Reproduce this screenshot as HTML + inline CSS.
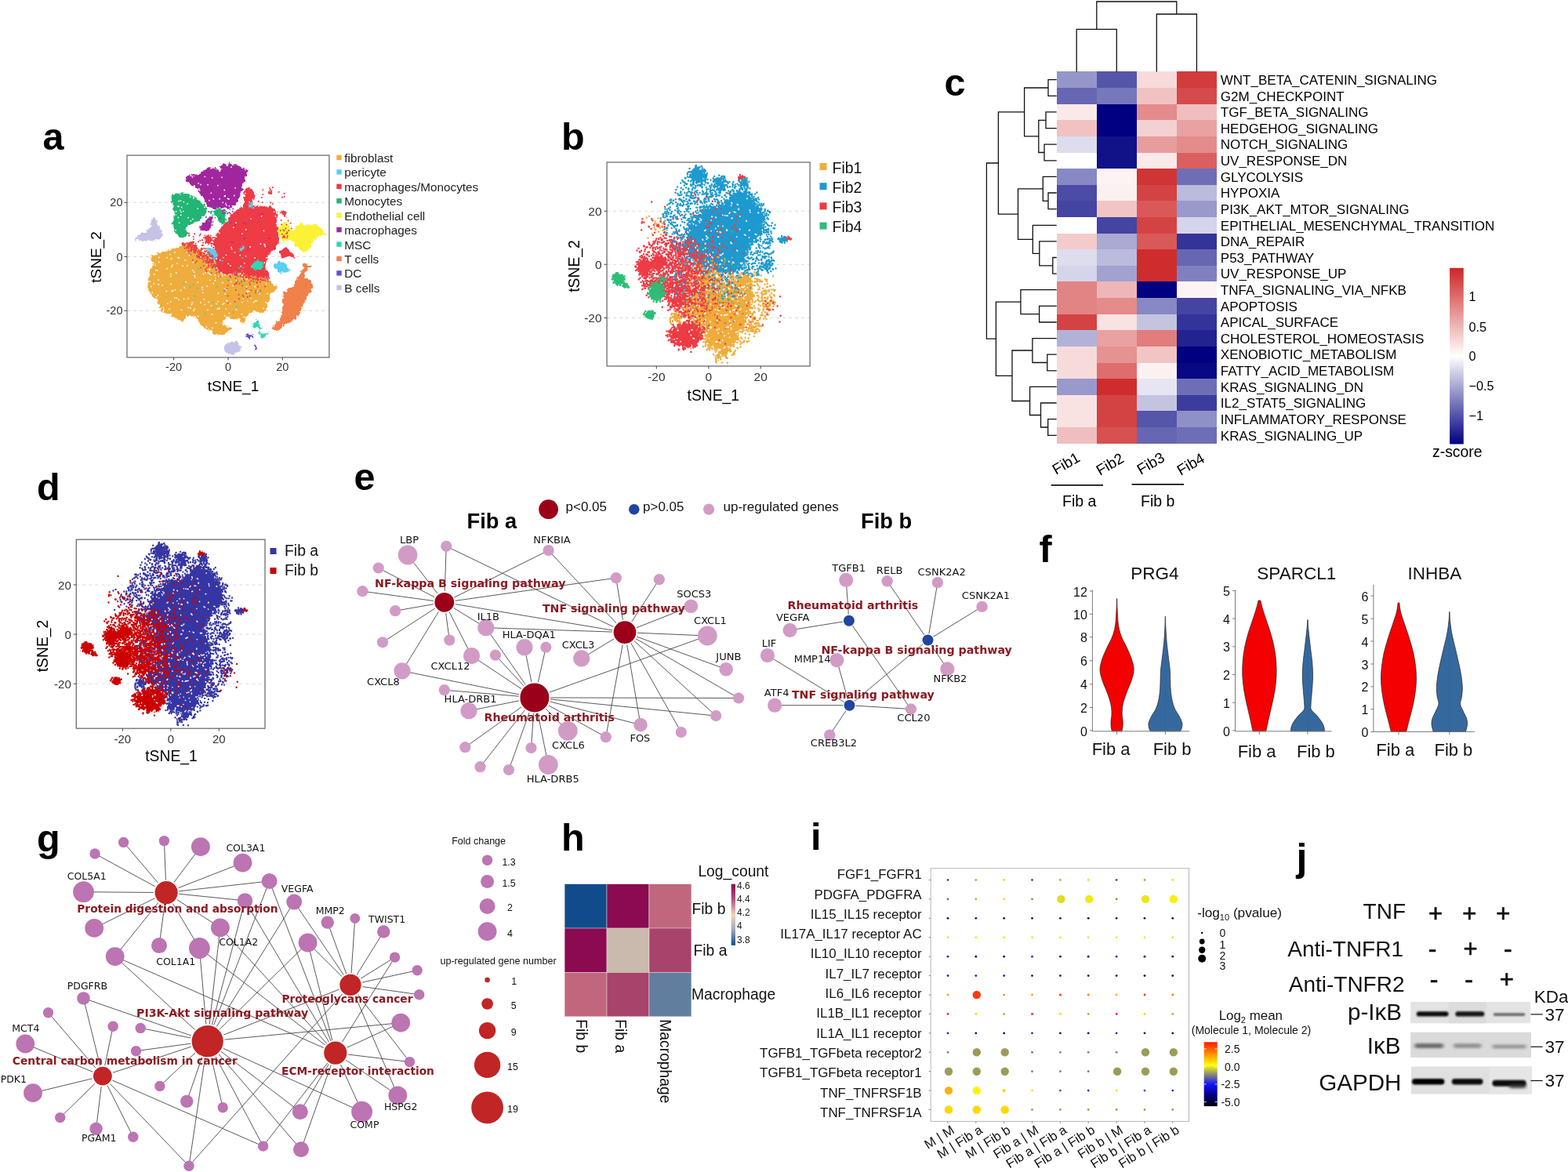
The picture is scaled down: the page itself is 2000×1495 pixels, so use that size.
<!DOCTYPE html>
<html lang="en"><head><meta charset="utf-8"><title>Figure</title>
<style>html,body{margin:0;padding:0;background:#fff}svg{display:block}svg{font-family:'Liberation Sans',Arial,Helvetica,sans-serif}</style></head>
<body>
<svg width="2000" height="1495" viewBox="0 0 2000 1495">
<rect width="2000" height="1495" fill="#fff"/>
<defs>
<filter id="rough" x="-5%" y="-5%" width="110%" height="110%"><feTurbulence type="fractalNoise" baseFrequency="0.25" numOctaves="2" seed="3" result="n"/><feDisplacementMap in="SourceGraphic" in2="n" scale="6" xChannelSelector="R" yChannelSelector="G"/></filter>
<filter id="rough2" x="-5%" y="-5%" width="110%" height="110%"><feTurbulence type="fractalNoise" baseFrequency="0.2" numOctaves="3" seed="8" result="n"/><feDisplacementMap in="SourceGraphic" in2="n" scale="12" xChannelSelector="R" yChannelSelector="G"/></filter>
<path id="k0" d="M885.6 354.8L898.5 347L914.1 354.8L927.1 362.5L940.1 354.8L953 349.6L958.2 365.1L959.5 380.7L955.6 396.3L950.4 411.9L942.7 427.4L937.5 437.8L929.7 443L927.1 453.4L914.1 458.6L919.3 445.6L908.9 440.4L898.5 437.8L903.7 427.4L898.5 417L888.2 411.9L877.8 406.7L872.6 396.3L877.8 385.9L888.2 378.1L890.7 365.1Z"/>
<path id="k1" d="M872.9 304.9L878.1 289.3L888.5 276.3L901.5 266L914.5 263.4L927.4 258.2L937.8 245.2L948.2 243.9L956 250.4L966.4 263.4L974.2 276.3L974.2 291.9L966.4 304.9L956 312.7L950.8 325.7L948.2 341.2L935.2 347.7L919.7 346.4L904.1 341.2L888.5 333.4L875.5 320.5Z"/>
<path id="k2" d="M853.6 420.9L866.9 416.1L881.3 408.9L890.9 413.7L895.8 423.3L890.9 433L886.1 442.6L874.1 442.6L862 439L854.8 430.5Z"/>
<path id="k3" d="M829.8 340.5L829 344L826.7 346.8L823.5 348.3L820 348.3L816.7 346.8L814.5 344L813.7 340.5L814.5 337L816.7 334.2L820 332.7L823.5 332.7L826.7 334.2L829 337Z"/>
<path id="k4" d="M846.1 334.6L845.5 337.6L843.7 340.1L841.1 341.4L838.2 341.4L835.7 340.1L833.9 337.6L833.2 334.6L833.9 331.6L835.7 329.2L838.2 327.8L841.1 327.8L843.7 329.2L845.5 331.6Z"/>
<path id="k5" d="M795.5 356L794.9 358.8L793.1 361L790.5 362.3L787.7 362.3L785.1 361L783.3 358.8L782.7 356L783.3 353.2L785.1 351L787.7 349.8L790.5 349.8L793.1 351L794.9 353.2Z"/>
<path id="k6" d="M847.4 372.1L846.5 376.7L843.8 380.4L839.9 382.5L835.6 382.5L831.8 380.4L829.1 376.7L828.2 372.1L829.1 367.4L831.8 363.7L835.6 361.6L839.9 361.6L843.8 363.7L846.5 367.4Z"/>
<path id="k7" d="M834.8 401.5L834.3 403.2L832.6 404.6L830.3 405.4L827.7 405.4L825.3 404.6L823.7 403.2L823.1 401.5L823.7 399.8L825.3 398.4L827.7 397.6L830.3 397.6L832.6 398.4L834.3 399.8Z"/>
<path id="k8" d="M896.9 223.6L896.2 226.6L894.3 229L891.5 230.4L888.4 230.4L885.6 229L883.7 226.6L883 223.6L883.7 220.6L885.6 218.1L888.4 216.8L891.5 216.8L894.3 218.1L896.2 220.6Z"/>
<path id="wsp" d="M952.8 253.4h0m0.1-0.3h0m-20.3 9.2h0m0.5-3.9h0m0.5 1.3h0m6.7 0.9h0m1 0.7h0m-26.8 3.1h0m27.5 2.9h0m0.3-0.8h0m14 1.6h0m0.1 0.3h0m-34.5 6h0m2.7 0.4h0m2.3 0.3h0m1 0.1h0m2.3-2.9h0m0.8-1.2h0m5.5-0.7h0m1.7 0.4h0m5.6 5.2h0m13.1-5.2h0m10 0.6h0m0.6 0.1h0m-82.8 9h0m0.3 0.5h0m7.9-2.2h0m1.3 2.4h0m0.3-1.3h0m12.8 0.9h0m0.6-4.6h0m0.4 0.3h0m4.4 0.7h0m0.5 0.3h0m20 1.1h0m0.7-0.4h0m18 3.5h0m0.4 0.2h0m-67.8 4h0m3.2 1.6h0m4-5.5h0m0.8 1.8h0m7.4 9.7h0m12.8-2h0m3.3-2.9h0m0.1-0.4h0m5.9 0.2h0m4.8 4.6h0m0.1 0.9h0m16.7-1.5h0m12.4 1.1h0m-81.4 6.3h0m2.4-4.1h0m1 0.7h0m1.8-2.4h0m19 0.2h0m8.4 0.4h0m7.6 0.7h0m3.4 0.6h0m1.3 0.6h0m8.1-2.4h0m21.9 5.2h0m6.1-5.3h0m7.8 4.7h0m1.3 0.6h0m-91.1 5.3h0m0.3-4.3h0m1.4 4.7h0m20.7 0.4h0m4.7-4.4h0m0.7 4h0m0.2-2.8h0m1.3 1.2h0m12.8-1.2h0m0.8 0.2h0m23.2-0.2h0m11.3-2h0m4.5 2.7h0m6.5 3h0m5.7-3.4h0m1.3-0.9h0m-85.1 5.3h0m0.2 1.1h0m12.4-1.9h0m2.9 4.9h0m0.5-0.6h0m17.9 0.5h0m14.2-1.8h0m0.6 1h0m0.8 0.6h0m28.4-4.1h0m-83.8 10.4h0m9-1.6h0m0.4 0.7h0m1.8-2.6h0m10.4 3h0m-23.8 5.2h0m1-1.1h0m13-0.9h0m0.2-0.7h0m6.9-0.6h0m3.6 5.6h0m9-2.1h0m12.7 1.4h0m17.7-3.9h0m0.8 0.7h0m-38.1 6h0m2.6-1.6h0m0.7 1.1h0m2 2.2h0m1.3 1h0m9.3-3.6h0m1.3 0.5h0m1.5-1.5h0m29.2 4.5h0m0.2 1h0m0.2-1.8h0m-47.6 5.8h0m0.2 1h0m16.8-3.1h0m0.8 1.1h0m8.5 0.8h0m5.2 1h0m1 0.7h0m8.8 0.7h0m0.1-0.4h0m2.1-0.1h0m-46.8 1.3h0m6.1 1.6h0m0.8 0.2h0m11-1.1h0m1.2-0.6h0m7.4 5.1h0m0.5-0.2h0m18.9-5.2h0m-21.1 6.4h0m1.1-0.6h0m14.3 2.2h0m-49.3 6.8h0m0.9-1.1h0m0.3 1.6h0m2.9-1.5h0m0.4 0.1h0m11 0.1h0m1.2-1.3h0m44.2 0.8h0m-60 8.9h0m1.1 1h0m14.3-0.8h0m11.8 0.8h0m20.5-3.1h0m0.2 1h0m-38.2 7.8h0m3.9-3.3h0m1 1.1h0m6.2 2.2h0m0.1 0.1h0m0.5-1.5h0m0.2-0.5h0m2.8-1.7h0m17.7 2.1h0m0.9-0.7h0m0.5 1.3h0m0.6 0.5h0m9.7 0.3h0m4-0.1h0m3-3h0m2.5-1.3h0m-65.6 8.5h0m1.5 1.6h0m1-3h0m0.8-1h0m8.4 2.2h0m0.5 0.3h0m3.4 0.7h0m8.7-4.1h0m3.6 5.4h0m0.2-0.2h0m4.8-1.2h0m1.1-1.1h0m5.6-1.7h0m1.3 1.1h0m12.1-1.7h0m1.2 0.5h0m3.5-0.8h0m1.3-0.6h0m1.8 3.6h0m0.3-0.5h0m2.8-2.2h0m5.7 3.8h0m-57.7 6.7h0m12.5-4.9h0m1.2 0.5h0m5.5 0.2h0m5.6 3.3h0m0.3-1.3h0m15.3 0.9h0m0.6 0.9h0m2.8-0.4h0m0.8-0.1h0m2-3.9h0m1.2 5.2h0m1.8-1.6h0m0.3 0.4h0m-60.5 3.2h0m2.1 2.6h0m8.6-4.1h0m1.1 3.1h0m24.1-2.1h0m0.1-1h0m6.9 2h0m1.3 1.3h0m5.4-2.3h0m7.7 0.7h0m0.9 1.1h0m9 2.5h0m-77.6 4.5h0m4.7-3.6h0m3.9 5.2h0m0 0h0m3.2 0.2h0m14-1.7h0m12.4 1.5h0m1-0.8h0m18.3 0.8h0m3-4.9h0m0.4-0.3h0m10.4 1.2h0m1 0.1h0m5.4 0.4h0m0.4 0.7h0m-79.5 6h0m4.5 2.6h0m1.2-0.5h0m7.1-3.4h0m20.7 3.3h0m0.2-0.1h0m3.1 0.5h0m1.1 0.7h0m4-3.9h0m2.2 0.2h0m0.7-1h0m11.3 4.4h0m1.7-0.3h0m0.4-0.6h0m1.8-4.7h0m1 0.7h0m3.9 4.3h0m1.2-1.3h0m11.9 1.6h0m-75.4 1.7h0m0 1.3h0m17.2 1.7h0m0.8-1h0m15.3 1.3h0m4.9 1.3h0m0.7 0.3h0m4-0.3h0m0.9-0.2h0m0.9 0.4h0m1.6-0.7h0m3.3-4.4h0m0.2 1.1h0m8.2 1.6h0m0.5 0.4h0m0.5-0.9h0m1 2.2h0m10.5-4.1h0m-69.4 10.1h0m2.5-1.6h0m1.1 1.2h0m1 0h0m1-3.6h0m1.1-0.3h0m5.2 5h0m5 0.1h0m24.1-5.6h0m28.1 0.3h0m0.6 0.3h0m-75.7 8.8h0m3.8-0.2h0m0.6 0.8h0m0.3-3.4h0m2.3-0.5h0m11.1 3.4h0m4.4-0.4h0m1-3.1h0m6 2h0m8.5-1.2h0m15.8-0.1h0m0.2 0.8h0m1.8 3.9h0m4.8-4.5h0m-46.4 7.3h0m8.4-0.3h0m6.4 0.7h0m0.7 1.7h0m0.8-1.2h0m10.1 2.2h0m8.7-1.9h0m2-0.6h0m0.9 0h0m2.6-2.3h0m1.1 4.8h0m0-1.3h0m-75.4 2.6h0m6.9 0.7h0m0.2-0.4h0m0.7 0.2h0m13.8 2.1h0m0.4-1.2h0m2.8-1.6h0m0.9-0.1h0m20.8 0.4h0m10.9-0.1h0m1.4 3.7h0m5.5-0.8h0m7.8 1.4h0m9.3-1.5h0m1.6-0.4h0m2.5-1.8h0m0.1 2.5h0m0.4 1.3h0m-89.6 6.3h0m1-0.5h0m1.8-4.7h0m7.3 5.4h0m17.7-4.4h0m2.7 3.9h0m1.3 0.6h0m19.1-0.3h0m19.6-3.3h0m6.5 1.8h0m10.1-3.6h0m2.5 1.3h0m0.6-0.8h0m-83.5 5.7h0m1.8 3h0m6-0.1h0m44.9 0.2h0m1 0.1h0m0.4 0h0m0.4-0.3h0m3.8 1.3h0m2.8-3.1h0m16.7 4h0m-56.9 5.1h0m0.7-0.3h0m41.6 1.1h0m1.2-1.2h0m4.1-0.3h0m1.2 0.3h0m7.9-4.1h0m-55.5 5.6h0m33.5 2.3h0m1-1h0m1.9 7.1h0m1.1 0.6h0"/>
<path id="f20" d="M879.5 215h0m6.5 0.4h0m0.4 0.5h0m0.7-2h0m0.2-1.8h0m1.3 1.5h0m0.2 1.3h0m0.5 0.5h0m0.6 0.1h0m1.1-2.1h0m0.1 1.3h0m1.6-1.3h0m2.1-1.4h0m-17.7 8.4h0m1.7-1.1h0m1.7-0.1h0m1.4 0.6h0m1.6-2.2h0m0.4 2.6h0m0.9-0.7h0m0.2 1.1h0m0.1 0.1h0m0.4-3h0m0-1.2h0m0.7-0.1h0m0.1 0.3h0m0 4.1h0m0.6-0.1h0m0.6-0.6h0m0.2-0.5h0m0.2-1.1h0m0.8 2.6h0m0.6-0.6h0m0.5-3.6h0m0.2 3.3h0m1.4-3.3h0m0.5 4.9h0m0.4 0.1h0m0.4-0.8h0m0.7 0.7h0m1.1-4.8h0m1.5 4.3h0m0-2h0m0.4-0.4h0m0.2-0.1h0m0.3-2.2h0m1.5 2.9h0m0.2-3.3h0m0.5 0.9h0m2.8 4.2h0m-25.1 1.3h0m2.6 3.4h0m1.4-3.2h0m2 4.3h0m1.2 0.7h0m0.3-4.6h0m0.8 1h0m0.3 1.3h0m0.3-3.4h0m0.5 5.3h0m0-1.1h0m0.4-0.7h0m0.7-1.1h0m0.1-0.1h0m0.6 2.4h0m0.5-4.2h0m0.4 4.3h0m0.2-0.5h0m0.3-4.1h0m1.1 1.5h0m0.9 0.9h0m0.2-2.6h0m0.5 4h0m0.9 1.7h0m1.5-4.7h0m0.4 0.5h0m0.7 2.8h0m0.7-0.9h0m0-0.1h0m0.7-1.3h0m17.7 3.7h0m0.6-0.9h0m0.8 0.5h0m1.1-3.6h0m1.3 4.1h0m2.2-0.3h0m1.3-2.8h0m0.2 3.1h0m1.8-2.9h0m18.9 2.7h0m2.5-0.9h0m2.7-0.3h0m-75.8 6h0m1 0h0m4.8-1.9h0m5.8 3.3h0m0.2-1.2h0m0.2-2.2h0m0.6 2.1h0m0-1.1h0m1.4-3.1h0m1.7 4.6h0m0.1-2.5h0m0.9-0.2h0m0.7 1.9h0m0.5 0.1h0m0.5-3.2h0m0.2 0.5h0m0.8-1h0m0.3 3.5h0m2.7-2.1h0m0-1.4h0m0.5 1.4h0m0.1 1.9h0m2.7-0.9h0m5.2 2.7h0m3.3-3.9h0m3.3 1.5h0m1.3-2.3h0m0 2h0m1.8-0.8h0m0.5 3.7h0m0.1-5.9h0m0.2 5h0m0.7-1.4h0m0.4 1.3h0m0.4-2.1h0m0 2.1h0m0.2-4.1h0m0.3 0h0m0 2h0m0.3 1.1h0m0.4 0h0m0.4 0.4h0m0.8-3.7h0m0.3 0.8h0m0.5 0h0m0.1 4.4h0m0.6-2.4h0m0.8 0.2h0m3.2-1.3h0m0 1.3h0m0.3-1.8h0m1.1 2.3h0m0.7-2.6h0m1.5 2h0m0.5 0.3h0m1.5 1.9h0m14.4-2.1h0m4.4-2.8h0m0.8 1.2h0m0.2 0.5h0m0.1-0.1h0m0-0.5h0m0.1 1h0m0.3 1.2h0m0.5-3.2h0m0 1.6h0m0.2-2.2h0m0.9 3.3h0m0.1 0.8h0m0.4-0.8h0m0.3-0.2h0m0.8 2.4h0m0.6-3.4h0m0.6 3h0m-84.6 6.3h0m5.5-5.4h0m0.8 4.9h0m0.9-4.5h0m5 0.5h0m0.4 1.8h0m3.7-1.8h0m4.4 1.4h0m1.5-0.3h0m0.7-0.5h0m1.7 0.4h0m0.4-0.4h0m1.3-1.2h0m0.5 3.1h0m0.3-2.9h0m4.9 4.2h0m5.6 0.4h0m1-2.4h0m0.5-1.4h0m3.5-0.3h0m0.1 0h0m0.1-0.2h0m0.9 1.9h0m2.4-3h0m0 1.5h0m0.4 2.1h0m0.1-3.4h0m1.3 1.7h0m2-1.5h0m0.6 3.7h0m0.2 1.2h0m0.3-2.5h0m0.5-1.3h0m0.1 3h0m0.5 0.7h0m0-5.2h0m0.1 2.3h0m0.6-0.3h0m0.5 2.5h0m0-3.1h0m0.6 1.2h0m0.5 1.8h0m0.8 1.4h0m0.8-3.2h0m0.7-0.6h0m0 0.2h0m2.3 1.7h0m0.5 1h0m6-0.6h0m0.1-3.5h0m6.1-0.2h0m4 1.5h0m0.3-1.4h0m1-0.3h0m0.2 2.3h0m0.2-1.5h0m0.1 1.4h0m1-2.3h0m0.6-0.3h0m0.7 1.7h0m0.4 0.5h0m0.1 1.8h0m0.6-2.7h0m0.9 0.8h0m0.2-1.7h0m1.2 1.5h0m2.2 3.1h0m-86 5.4h0m10.1-4h0m0.9 3.8h0m4-3.2h0m6 5h0m3.4 0h0m3.4-2.5h0m6.8-2.3h0m2.7 0.4h0m0.3 2.3h0m1.6-1h0m1 3.1h0m3.7-1.7h0m0.8 1h0m1.5-3.5h0m0.1 0.4h0m2.4-0.4h0m0.8 1.5h0m0.1-2.6h0m0.4 0.2h0m0.4 4.8h0m0.1-1h0m0-1.8h0m0.2 0.3h0m1.7-2.4h0m0.5-0.8h0m1.8 1.6h0m1.7 0.5h0m1.9 3.6h0m2.8-2.2h0m2.7 1.6h0m0.1-1h0m3-1.5h0m0.8 0.9h0m4-0.5h0m2.7 2.6h0m0.5-3.4h0m0.5-1.1h0m2.5-0.9h0m4.8 2.6h0m0 1h0m0.6-2.7h0m0.5 1.9h0m1.7 2.4h0m1.6-0.2h0m0.8 0.2h0m0.3 0h0m0.2-4.8h0m8.8 4.9h0m-100 3.6h0m1.8-0.2h0m1.1-2.9h0m1 2.4h0m2.8 3.4h0m3.5-3.8h0m0.2 0.8h0m4.4 1.2h0m0.4 1.9h0m0.8-5.4h0m0.3 5.4h0m5.9-0.2h0m2.9-3.2h0m5.9-1h0m1.5 0h0m3-0.3h0m0.2 1.8h0m1.5-1.9h0m0.2 0.1h0m2 3.8h0m1.8-0.6h0m5.7-2.5h0m0.9 2.8h0m0.9-3.1h0m0.2 1.7h0m2.4 0.3h0m0.5-3.4h0m0.7 3.1h0m2.9 2.3h0m4.2-2.8h0m2.8-2.4h0m4.9 2.7h0m0.3 0.9h0m0.2 1.8h0m1-1.1h0m0.1-0.7h0m0.9 0.7h0m0.2-3.6h0m0.6 0h0m0.6-0.7h0m2.3 2.6h0m0.6-1.3h0m0.6 1.2h0m0.1 2.9h0m3.2-3.1h0m0 0h0m0.2-2h0m1.4 2.6h0m0.3-3.2h0m3.2 5.2h0m2-1.7h0m0.5-0.3h0m2.7 1.3h0m1.9-3.3h0m0.2 3.4h0m2.4-2.8h0m0.4 0h0m0.3 2.4h0m0.4-2.5h0m4-0.2h0m-108.7 7.8h0m2.1 2.5h0m2.3-2.1h0m2.8-1.6h0m4.7 0.3h0m0-0.8h0m1.6 1h0m3.9 1.1h0m1.5 0.7h0m1.8-2.5h0m3.6 1.8h0m0.3-1.4h0m4.5-1.6h0m1.2 3.8h0m1.5-4.4h0m3.2 3.3h0m1.6-2h0m2 3h0m1.5 0.7h0m3.4-0.2h0m0.9-3.9h0m0.5 1.2h0m0.8-0.1h0m0.4 3.1h0m3-2.2h0m0.4-1.8h0m0.3 3.1h0m6.6-2.5h0m3.1 0.3h0m1.5 1.4h0m0.3 1.6h0m7.6-3.2h0m3.3 2.9h0m0.3-0.3h0m3.5-1.6h0m0.9 1.2h0m0.5 1.8h0m2-0.6h0m0.1-1.4h0m0.3 0.2h0m1.2 1.5h0m0.8-5.7h0m0.6 3.4h0m0.7-2.1h0m1.8 1.1h0m1.1-1.6h0m1.3 3.2h0m0.3-1.2h0m1.8-2.1h0m0.5 5.1h0m1.9-1.3h0m0.8-0.2h0m0.8-4h0m0.7 2.1h0m0.3-1.5h0m1.5 0.5h0m1.1 3.3h0m0.8-0.2h0m1.2-2.3h0m0.7 2.1h0m0.9-0.6h0m0 1.8h0m0.1-1.8h0m0.1-1.9h0m2.9 2.6h0m1.8 1.3h0m0.3-5.1h0m0.3 5h0m0.4-2.8h0m0.8 1.5h0m0-2.1h0m0.6 0.3h0m2.1 1.4h0m0.7 1.2h0m-112 2.9h0m0.7-0.2h0m1.2-1.2h0m3.1 1.5h0m6 0.2h0m2.7 1.1h0m0.8-1.1h0m0.5 1.8h0m2.5 0.1h0m1.3-1.2h0m3.3-0.1h0m1.9-1h0m0.7 3.4h0m0.9-0.5h0m2.3-3.6h0m1.6 0.3h0m6-1.4h0m1 2.7h0m4.9 2.8h0m1.1-4.2h0m2 2.8h0m1-3.3h0m0.1 5h0m2.4-2.3h0m3.4 0.9h0m1.2-0.3h0m2.1 1.7h0m2.6-0.4h0m3.5-1.6h0m1.1-3.4h0m0.2 1h0m2.2-1.4h0m2.3 5.7h0m0.8-5.4h0m0.5 4.2h0m0.2 0.3h0m0.6-2.6h0m1.2 2.5h0m1.6-4.6h0m1.1-0.1h0m0.2 0.5h0m1.9 2.5h0m0-0.3h0m0.9 1.8h0m0.3-2.3h0m0.1 1.3h0m0.7-1.5h0m1.5-0.8h0m0.3 2.9h0m0.5-0.8h0m1.7 2.3h0m0.5-3.2h0m0.4-0.3h0m0.2 3.4h0m8.4 0.1h0m2-2.4h0m0.1 2h0m0.1-0.1h0m0.1-0.5h0m0-2h0m0.3 0.3h0m0.1-0.2h0m0.7-0.3h0m0.8 3.1h0m1.1-3h0m3.7-0.5h0m4.2 2.6h0m0.3 1.1h0m1.7-3.9h0m0.6-1.7h0m2.9 1.4h0m0.7 1.7h0m2.9 1h0m0.5 1.2h0m3.9-1h0m1.9-0.4h0m-123.7 4.3h0m2.6 3.2h0m3.4-1.9h0m0.4-3.2h0m6.5 3.4h0m2.8 1.5h0m0.1-3.1h0m4 3.7h0m7.9-2.3h0m0.1 1.5h0m1.4-2.1h0m9.6 2.7h0m1.1-5h0m1.4 3.4h0m2.8-4.1h0m0.3 1h0m0.3 2.7h0m1.4-3.4h0m0.8 3.7h0m0 0.7h0m1.9-2.4h0m2.4 3.1h0m0.6-2.6h0m1 2.8h0m0.2-0.9h0m0.9-0.8h0m0.7 0h0m1.2-0.7h0m0.5 2.6h0m0.1-0.6h0m2.3-3.5h0m0.6 2.5h0m1.9 1.2h0m0.1-0.1h0m0.1-2.3h0m0.9 2.3h0m0.1-1.9h0m0.4-2h0m0.1 3.5h0m0.6-2h0m0.6 1.4h0m0.3-4.3h0m0 4.6h0m1.5-0.3h0m1.9-0.2h0m0.1 1.7h0m0.1-3.3h0m0.3-2.3h0m0.5 3.5h0m0.1-3.3h0m0.4 1.6h0m0.1 0.9h0m0.6 2.3h0m1-1.1h0m0.8 0.7h0m0.8 0.5h0m0.5-2.8h0m0.3 0.4h0m0.1 0h0m0.7 1.7h0m2.1-0.3h0m0.4-1.6h0m0.2-2h0m1 3.8h0m1.2-3.7h0m3.2-0.6h0m3 0.4h0m1.4 5.2h0m1-5.1h0m0.1 5h0m0.6-0.4h0m0.3-1.2h0m1-0.8h0m0.4-0.2h0m0.3 2.5h0m0.3-3.9h0m1.8 3.1h0m0.1-1.9h0m0.1 0.7h0m0.2 1.8h0m1.5-4.9h0m1 1.7h0m1 3.5h0m0-2h0m0.6-0.4h0m0.2 1.5h0m2.7 0h0m1.9-1.5h0m0.2-0.5h0m2.7 1.3h0m0.5 1.4h0m0.5-2.1h0m0.1-1.4h0m1.9 0.6h0m1.7-0.4h0m1.2 3.6h0m0-2.2h0m0.9-1.9h0m0.6 2.4h0m2.8-0.4h0m1.8 0.5h0m0.1 1.6h0m0.4-2.5h0m5.6 0.4h0m0.2-1.4h0m4.3 0.7h0m3.3 2.1h0m0.5-0.6h0m-131.5 3.2h0m2.3 0.3h0m5.2 0.6h0m0.5-0.7h0m3.7 2.9h0m0.9-0.3h0m7.3 0.5h0m6.6-1.5h0m6.9 0.2h0m2.9-2.6h0m2.8 4h0m0.9 0.1h0m0.5-3.5h0m0.1 4.2h0m1-0.5h0m0.6 0.1h0m2.8-1.3h0m2.4 0.7h0m1.8-1.9h0m0.2-0.6h0m0.4-2.1h0m0 1.9h0m0.3 2.5h0m0.7-1.1h0m1.1-0.3h0m0.7-0.6h0m2.2-0.8h0m0.5 0.7h0m0.2 3h0m0-0.7h0m2.7-2.8h0m1.1 0.1h0m0.3 0.7h0m6.1 1.8h0m0.4-4h0m0.1 0.4h0m1.7-0.1h0m0.6 1.2h0m1.1 1h0m0.3-0.1h0m1.6 1.9h0m0.6-0.9h0m0.7 0.6h0m0.9-4h0m1.3 0h0m5 0.3h0m0.5 3.3h0m1-1.4h0m0.5 2.8h0m1.2-1.4h0m0.2-4.2h0m1 5.3h0m0-0.4h0m0.5-0.1h0m2.3-4.1h0m0.4 1.9h0m1.5-1.7h0m2.1 3.7h0m2.5-1.2h0m1 2h0m0.1-2.9h0m1.6-1.2h0m1.8-1.1h0m0.6 4.3h0m0.6 0.7h0m2.5-5.3h0m0.5 2.4h0m1.3-0.1h0m0.7 0.2h0m1.4-1.3h0m0.2 4.1h0m0.1-3.9h0m1.2 2.1h0m0.1-0.7h0m0.7-2.3h0m1.2 0.4h0m0.6 3.5h0m1.3-3.6h0m1.2 4.9h0m2.4-4.7h0m0.6 1.8h0m0.2 2.5h0m2.6-4.1h0m0.3-0.2h0m3.1-0.1h0m0.6 3.8h0m1.6-1.9h0m0.4 2h0m0.5-3.1h0m0.7-0.7h0m3.1 4.2h0m1.1-0.5h0m0.2-2.6h0m2.3 2h0m1.4-3.9h0m-135.7 6.8h0m2.5 0.3h0m1.8-1.3h0m1.4 3.6h0m3.8 1.1h0m2.8-4.4h0m0.6 2.2h0m3.8-0.7h0m6.7 1.8h0m3.4-1.9h0m0.4-0.6h0m1.3 0.9h0m3.6 1.2h0m1.5-0.2h0m2-2.7h0m1.1 3.6h0m0.5-1.8h0m0.1 3.2h0m1.2-4.1h0m3.8 4.2h0m1.6 0.3h0m3.3 0.2h0m2-2.5h0m2.3-1.3h0m1.7 2.6h0m0.7 0.2h0m0.9 0.1h0m0.6 0.6h0m0.4-4.6h0m1.1 4.3h0m2-5h0m1.3-0.2h0m1.7 0.3h0m0.3 1.2h0m1 3.4h0m0.2-2.2h0m1.8 0.1h0m1.2 0.5h0m0.5-3.5h0m0.3 5.9h0m0.2-4.4h0m0.7 0.6h0m0.1-0.3h0m0.6 0.2h0m6.3 1.1h0m3 0.3h0m0.3 1.9h0m0.8-1.7h0m0.6-2h0m0.4 3.5h0m0.8-1.7h0m0.8 1.8h0m1-2.7h0m1.3 0.2h0m0.5 0.9h0m2.5 0.7h0m0.1-1.8h0m5.3 2.3h0m0.3-3.9h0m2.1 0.9h0m1 1h0m2.3-0.5h0m1.4 1.1h0m1.5 2.3h0m0.5-0.5h0m0-3.9h0m0.2 0h0m2.2 4.4h0m0.5-0.2h0m1-2h0m1.8-0.3h0m0.4 1.7h0m1-2.5h0m5.5 0h0m0.4-2.4h0m0.2 2.9h0m0.2 2.2h0m0.2-4.6h0m1.3 2.7h0m0.4-1.3h0m1.8 1.1h0m0.5-1.1h0m5.1-0.1h0m1.4-0.4h0m1 2.3h0m2.4-1.4h0m3.9-0.6h0m1.2 1.9h0m-132.9 5.6h0m10.6 1.6h0m1.5-3h0m8.9 3.8h0m2.3-4.5h0m7.9 4.8h0m2.5-4.9h0m0.4 0h0m2.6 0h0m1.2 1.4h0m3.7-0.8h0m0.9 1.1h0m1.1 3h0m0.9-2.3h0m0.1 1.9h0m0-0.5h0m0.3 1.1h0m0.7-1.7h0m0.5-4h0m0.9-0.1h0m2.2 0h0m0.2 0.7h0m0.7 3.4h0m1.3-3.7h0m1.5 0.7h0m1.3 0.6h0m2.8 2.4h0m0.3-2.7h0m1.2 4.2h0m1.4-3h0m0.1-2.3h0m0.8 4.6h0m0.7 0.8h0m1.4 0h0m5.9-4.3h0m3.8 1.3h0m1-1.7h0m0.7 0.2h0m0.3-0.1h0m0.4 2.6h0m0.3-0.7h0m1.3 2.3h0m0-1.9h0m0.7-0.8h0m0.4 0h0m0.2-1.7h0m2 0.3h0m0.2 4.6h0m0-3h0m0.4 2.7h0m2-1.3h0m4.5-3.6h0m1.5 2.4h0m0.1 1.6h0m0.8-2.2h0m1 0h0m0.5-0.6h0m0.1-0.1h0m2.3-1.7h0m0.5 2.6h0m1.4 0.8h0m0.1-1.1h0m0.1 3.1h0m1.3-3.2h0m0.4 1.1h0m1.5 1.4h0m0 1.1h0m0.2-1.5h0m0.1-2.2h0m0.3 0.9h0m1-2.6h0m0 2.5h0m0.1 1.2h0m2.3-0.2h0m0.8-2.9h0m0.3 2.1h0m2.9 1.5h0m1.6-4.2h0m0.2 3.7h0m3.8 1.1h0m0-2.8h0m1.3-0.6h0m0.1-1.8h0m0.9 1.2h0m4.9 4.4h0m0.1-1.9h0m0.4-2.4h0m0.7 1.4h0m2.1 2.8h0m0.9-0.1h0m0.6-5.5h0m0.1 0.3h0m2.9 4.5h0m0.5-3.8h0m3 1.9h0m1.3 2.1h0m5.7-2.4h0m3.7 2.5h0m-138.5 4.1h0m0.9-0.4h0m0.4-0.1h0m7.8-2.4h0m1.1 1.7h0m2.4 3.9h0m9.6-4h0m0.7 2.3h0m2.2 0.4h0m1.2-1h0m2.8-0.6h0m1-2.8h0m0 2.4h0m2.6 0.5h0m0.4 0.7h0m0.3-0.1h0m0.3 0.2h0m0.5 1.2h0m0.4-4.8h0m0.1 4.2h0m0.2-0.8h0m1 2.1h0m0.7-3.3h0m0.2-0.4h0m0.5 2.4h0m0-0.6h0m1.4 1.2h0m2 0h0m3.1-1.8h0m2.1 0.6h0m2.3-2.5h0m0.1-1.2h0m1 2.4h0m1.7 0h0m1.2 1.3h0m0.6 0.6h0m0.9-3.3h0m2.9 3.8h0m0.3-2.4h0m1 1.4h0m3.7 1.1h0m0-0.3h0m0.1 0.7h0m0.3-5.2h0m0.6 3.2h0m0.3 2.1h0m4-1.3h0m0.6 1.4h0m1.6 0.1h0m1.2-5.1h0m0.1 5.2h0m0.6-1.4h0m1.6-3.3h0m0 2.8h0m1.6-1.1h0m3.6 1.6h0m3.9 0.4h0m0.6-2.6h0m0 2.7h0m0.1-2.8h0m0.2-1.2h0m0.4-0.9h0m3.9 5.6h0m1.8-5.6h0m2.1 0.4h0m0.9 2.3h0m0.5 1.1h0m0.6 0.8h0m1.8-4.3h0m2.1 0.1h0m0.5 1.2h0m0.3 3.4h0m0.2-1.7h0m1.4-2.5h0m0.1 2.9h0m2.2 0.1h0m0.7-2h0m0.4 3h0m1.9 0.4h0m0.1-0.1h0m0-5.2h0m0.3 1.2h0m0.6 0.6h0m0.5 1.4h0m0.3-3h0m0.1 3.9h0m2.5 0.4h0m0.2-1.9h0m1.4 0.8h0m0.9 2.4h0m1.2-4.7h0m0 0.2h0m1.4-1h0m0.1 5.4h0m2.3-0.2h0m0.2-1.6h0m0.3-0.6h0m0.9-1.5h0m1.5 1.3h0m0.7 0.2h0m0.3 0.7h0m6.3-2.6h0m3.8 4.1h0m7.7-2.2h0m-140.9 5.6h0m3.6 0.3h0m7 1.2h0m2.7-0.3h0m1.1-1.8h0m2.4-0.5h0m1 3.8h0m4.5-0.6h0m0.3 0.1h0m5.6-5.1h0m0.2 4.7h0m1.3-0.2h0m0.2-2.4h0m0.6 1.2h0m1 1.8h0m0.8-2.7h0m0 0.6h0m0.6 2.4h0m3-0.3h0m0.7-2.8h0m0.3-0.3h0m3 3.1h0m1.7-4.5h0m1.9 4.2h0m0.6-3.7h0m0.7-0.4h0m0.6 3.7h0m0.1 1.4h0m0.4-0.4h0m1.3-4.9h0m3.9 5.4h0m2.7-3.4h0m0.2-1.5h0m1.2 0.6h0m0.7 2.5h0m0.5-2.4h0m1.6 3.6h0m0.9-1h0m0-0.9h0m0.1 2h0m0.9-0.3h0m1.2 0.6h0m1.1-5.1h0m1.2 4.8h0m0.2-0.9h0m0.5-2h0m3 3.2h0m0.6-3.9h0m2.2 2.2h0m1.8-0.4h0m0.8-3.2h0m0.3 0.6h0m0.3 0.8h0m1.7-1.5h0m1.7 1.9h0m0.1 3.2h0m0-3.3h0m1.5 1.8h0m1.4-2.2h0m0.5 2h0m0-3.4h0m1 1.1h0m0.2-0.8h0m2.5 2h0m3.5 0.3h0m0.1-0.2h0m1.9-1.6h0m1.7 1.7h0m5.1-0.6h0m1.3-1.2h0m1.4 1.9h0m1.1 3.1h0m0.4-2h0m5.8-1.9h0m0.1 1.3h0m3.2 2.1h0m1.9-2.2h0m0.2 2.5h0m0.9-4.7h0m2.4 1.2h0m0.3 2.4h0m1.7-0.1h0m0.1-4h0m0.7 4.5h0m1.2-4.9h0m0 0.4h0m0.1 4.9h0m0.4-2h0m0.7-3.3h0m0.3-0.1h0m1.4 3h0m1.4 1.9h0m1-3.9h0m2.7 1.3h0m0-0.8h0m0.2 0.2h0m3.8 3.7h0m2.2-3.2h0m3.9 1.1h0m-117.1 2.8h0m2-0.1h0m0.5-0.1h0m2.2 1.3h0m6.3-0.2h0m0.5-0.6h0m0.7 0h0m0.3 2.8h0m0.1 0.3h0m2.6-3h0m2.6 3.5h0m1.4-2.6h0m0.1 1.8h0m0.1 0.3h0m1.4 0.6h0m1.9 0.6h0m0.4-2.1h0m0.7-1.8h0m1.1-0.1h0m0.8 3.2h0m0.7 2h0m4.6-4.2h0m2 3.5h0m0.2-5.2h0m0.3 0.9h0m1.9 3h0m0.1 0.1h0m1.2-2.1h0m0.9 1.3h0m2.5-1.3h0m1.9 2.5h0m0-1h0m1.2-1.8h0m0.2-0.2h0m0.1 3.1h0m0.8-0.3h0m0.7-1.2h0m0.6 0.8h0m0.3 1.7h0m0.7-3.7h0m0.6 3.6h0m1.2-3.5h0m0.6 0.2h0m0.2 2.7h0m0.7-2.2h0m0.3 0h0m0.3-0.8h0m0.6 0.3h0m1-0.3h0m0.1-0.8h0m1.5 4.1h0m1.7-4h0m0.2-0.1h0m0.6 0.4h0m0.9 3.1h0m2.7 0.6h0m1-2.3h0m0.5 2h0m0.3 1h0m3.9-1.5h0m3 1.5h0m0.7-0.6h0m0.2-1.2h0m1.5 0.5h0m0.3-0.7h0m1.5-2.9h0m2.1 1.3h0m0.5 2.4h0m0.2-3h0m1.6-0.1h0m0.3-1.1h0m0.2 2.2h0m2-2.7h0m1.9 2.3h0m0.2 1.1h0m1-3h0m0 4.3h0m1.4 0.2h0m0.8-2.8h0m0.1 0.6h0m0.4-1h0m0.1 1.3h0m0.1-1.5h0m0.6 0.8h0m1.6 3.6h0m0.1-3.8h0m2.8 1.1h0m2 1.2h0m0.9 0.8h0m1.6-2.2h0m0 0.3h0m2.1 2.1h0m3.3-4.5h0m1.9 0.2h0m6.6 4.3h0m2.8 0.2h0m0.3-3.7h0m1.8 2.7h0m4.1 0.8h0m7.6-0.4h0m0.1 0h0m1.1 0.3h0m2-0.6h0m0.9 0.9h0m0.2-2.2h0m1.1 2.1h0m0.7-2h0m0.8 0.6h0m0.6 1.8h0m0.2-1.2h0m0.2 0.1h0m0.1-2.3h0m0.1 0.6h0m0.9 0.9h0m0.4 0.5h0m0.1 0.3h0m0.5-0.4h0m2.9-2.7h0m-151.6 4.8h0m6.4 1.1h0m2.2 0.5h0m3.7 2.1h0m8.6-2.4h0m4.8-1.2h0m1.1 1.1h0m0.1 2.7h0m0.1 0.1h0m0.1-1.7h0m0.1-2.5h0m0.6 2.3h0m0-1.1h0m2.5 3.8h0m1.3-1.4h0m0.3-1.7h0m0.8 1.3h0m1.2-1.8h0m1.2 2.8h0m0.3-1.3h0m1.4 2.4h0m1.2 0h0m0.8-3.6h0m1.1 3.6h0m0.3-2.5h0m2.7-0.3h0m0.6-2.1h0m0.9 3.2h0m1.1-1.7h0m0.5-0.2h0m0.4-0.4h0m0.8-1.3h0m2 1.6h0m1.6 0.3h0m0.5-0.6h0m0.6 3.4h0m1-5h0m1.5 2.5h0m0 0.4h0m2.8-2.2h0m1.9 3.8h0m0.7-2.4h0m1.8-0.3h0m0.1 2.6h0m0.6-1.6h0m1.4-2.4h0m7.6 2.4h0m1-1.2h0m1.3-1.6h0m0.6 5.7h0m0.1-5.5h0m0.3 3h0m0.3 0.5h0m0.2 2.1h0m1.7-3.5h0m1.1 3.5h0m1-2.8h0m2.7 2.4h0m0.4-1.1h0m0.8-2.1h0m0.2 2.7h0m1.3-0.4h0m0.2 0.2h0m1.2-4.5h0m0.3 2.5h0m0.3 0.7h0m1.7 0.3h0m1.1-0.7h0m2 0.4h0m1 0.9h0m5.7 1.2h0m1.3-5.5h0m0.5 2.4h0m0.6-2h0m3.8 2.2h0m0.7 3.3h0m0.3-2.7h0m0.2-1.7h0m0.3 2.7h0m0.2-1.9h0m0.7 3.4h0m0.2-4.4h0m2.5 1.1h0m0.3-0.5h0m2.3-1.3h0m7.8 4h0m0.3-2.3h0m2.9 1.9h0m1.6 0.1h0m0-1.3h0m2.2 0.6h0m0.8 0.5h0m0.4-2.6h0m2.6-0.5h0m1.5 1.6h0m9.1-2.4h0m0.1 2.1h0m0.1-2h0m1.5 2.7h0m0.4-2.3h0m1 2.7h0m2.2-3.1h0m0.4 1.6h0m1.6-1.2h0m-135.6 7.8h0m1.6-2.3h0m1.4 5.3h0m0.9-5.3h0m1.7 4h0m0.3 1.6h0m1.1-3.2h0m0.1 2.1h0m0.1 0h0m0.9-3.7h0m1 1.9h0m0.1 0.8h0m0.1-3.5h0m2.5 1.7h0m2-1.4h0m0.6 4.2h0m1.3 0.3h0m1.3 0.1h0m0.5 0.7h0m0.1-2.7h0m1.8-2.3h0m0.4 5.2h0m0.9-1.6h0m3.4 1h0m1.4-1.2h0m0.2-1.1h0m0.7 2.1h0m0.3-2h0m0-3.2h0m0.9 0.3h0m0.3 3.7h0m1.7-1h0m0.7-1.5h0m1.7 2.1h0m0-0.1h0m1.7 2.1h0m0.7-0.4h0m0.6-4.1h0m0.6 0.8h0m1.2 0.9h0m0.3 2.9h0m0.6-2.2h0m3.5 0.8h0m1.9-3.7h0m0.8 3.5h0m2.4 0.7h0m0.4-0.9h0m2.7-2.3h0m0.2 3.8h0m2-1.9h0m0.1-1h0m0.1-0.3h0m2.4 3.5h0m0.4-1.8h0m0.1 0.3h0m0.2-3.2h0m0.9 3.4h0m2.2 1.2h0m1.9-4.8h0m1.6 3.1h0m2.3-1.5h0m0.3-1h0m0.7-0.7h0m0.1 4.9h0m0.9-4h0m4.7 0.6h0m0.5 0.3h0m1.4-0.3h0m1.2-1h0m0.4 3.3h0m0.6-0.2h0m0.2 1h0m0.6-3.3h0m0.4 0.9h0m0.5 1.5h0m0.1-3.6h0m1.8 1.9h0m2.9 2.9h0m0.6-4.4h0m3.1 0h0m3.5 2.3h0m0.1-2.9h0m2 4.8h0m0.8-4.9h0m10.9 0.2h0m2.9 0.9h0m2.3 2.3h0m6.4-1.2h0m-114.5 6.4h0m1.7-1.4h0m0.8 2.3h0m2.6-3.7h0m1.9 5.6h0m0.3-5.1h0m2.2 1.2h0m1.8-1.5h0m0.2 1.1h0m0.7 2h0m0.5 1.4h0m0.7 0.5h0m2.5 0.4h0m0.5-2.4h0m0.2-3.4h0m1 5.6h0m0.7-2.9h0m2.1-2.5h0m1.8 0.8h0m0.8 4h0m7.9-0.6h0m0.8-0.2h0m0.6-3.1h0m0.8-1h0m2.3 3.8h0m0.3 1.5h0m0.1-2.3h0m1.1 2.8h0m1.1-2.7h0m3.3-0.4h0m0.2 2.7h0m0.3-0.5h0m1.7-4h0m0.4 0.3h0m0.1 3.2h0m1.9-2.8h0m1.6 2.8h0m2.3 0h0m0.3-1.9h0m1.4-0.7h0m1.5-1.9h0m0.9 1h0m1.5 0.2h0m0.3 3.8h0m0-0.4h0m0.1-3.4h0m1.3 4.7h0m0.4-2.5h0m0.8 0.7h0m0.2-3.5h0m0.9 1.3h0m0.3 3.4h0m0.3-5.3h0m0.9 1.4h0m2.6 1.3h0m0-0.4h0m0.2-1.3h0m2.5 0.6h0m4.8-1.4h0m0.2 1.6h0m0.5-0.4h0m0.4 2.3h0m0.1 0h0m0.1-1.9h0m2.2 2.6h0m0.1-1.6h0m0.1 1.1h0m1.6-2.9h0m0.7 3.8h0m0.3-1.6h0m1.7 2h0m0-2.4h0m1-1.1h0m0 3.5h0m0.6-3.3h0m0.1-1h0m0.1 0.5h0m0.8 1.4h0m0.2-0.3h0m1.2 0.1h0m1.6-0.1h0m2.6-1.2h0m3-1.2h0m0.6 0.4h0m2.3 2.9h0m3.4 1.4h0m1.2 0.2h0m1.3-2.7h0m1.3 2.5h0m4-2.6h0m8.9 2.7h0m4.7 0.5h0m1.4-1.3h0m1.2-0.2h0m-117.5 2.7h0m2.5 0.3h0m12.4 0.5h0m0.5 4.1h0m0.3-0.7h0m1.7-4h0m0.5 4.2h0m0.8 0.2h0m0.3-0.5h0m2.3 0.5h0m1.3-1.2h0m1.5 0.2h0m0.5-2.1h0m1.5 2.9h0m0.1-3.4h0m0-0.6h0m0.2 1.2h0m1.2 0.3h0m2.4-1.5h0m2.4 3.7h0m2.7-3.3h0m0.7 2.6h0m0.2 0.4h0m2.4 0.3h0m0.9-3.4h0m0.9 2.9h0m1.8-3.6h0m1.3 1.6h0m0.3 1.2h0m0 2.1h0m2.9-3.5h0m0.1-1.9h0m2.3 5.2h0m1.9-4.3h0m0.5 0h0m2 1.8h0m0.3-2.3h0m1.5-0.5h0m0.8 0.7h0m1.4 4.1h0m0.9-2.5h0m1.7-1.1h0m0.1-1h0m1.3 5.4h0m1-1.7h0m0 0h0m0.2-1.8h0m0.4 1.7h0m1.9 1.2h0m0.8-3.4h0m0.1 2.5h0m1.3 0.2h0m0.2 1.4h0m0.3-4.2h0m1.2 0.9h0m0.5 0.3h0m0.6 0.8h0m1.4-0.3h0m0.8 0.5h0m1.6-2.6h0m0.4 2.7h0m0.6 1.5h0m0.6-5.4h0m1.3 4.5h0m1.2-0.2h0m0.1 1.5h0m1.3-1.4h0m1.6-2.3h0m0.4 0.7h0m7.5 2.7h0m0.4-5.1h0m2.5 0.3h0m0.2 0.3h0m4.8 2.9h0m7.3-0.9h0m0.7 1.3h0m2.7 0.8h0m5.6-4.8h0m2.4 4.2h0m-117.7 6.2h0m5.9-0.8h0m5 1.4h0m2.4-3.7h0m0.9 1.6h0m0.3-1.5h0m5.6 0.3h0m0.6-0.4h0m3.2-0.9h0m0.3 3.7h0m0.1-0.5h0m0.3 0.7h0m0.3-4.2h0m0.3 3.2h0m0.3 1.1h0m0-4.6h0m2.2 5h0m0.8-2.4h0m2.1-1.7h0m0.7 3h0m0.4-0.4h0m0.4-3.5h0m0.1 3.3h0m0.2 2.5h0m6.6-4h0m2.6 1.6h0m1.6 0.1h0m0.8-1.5h0m0.3 3h0m0.4-3.1h0m0.6 0.9h0m0.4-0.3h0m1.4 1.4h0m1.5-1.2h0m0.4-1.8h0m0.9-0.6h0m0.3 3.4h0m0.5-2.7h0m2.7 1.8h0m1.7 2.5h0m0.9-4.3h0m0.8 2.8h0m1.3-3.3h0m1.9 5.3h0m2.1-3.1h0m0.2 0.3h0m0.6-2.7h0m1.5 5.5h0m1.4-2.8h0m0.8 2.6h0m4.1-5.2h0m0.3 5h0m0.2-4.4h0m0.1 0.8h0m0.5 0h0m0.5 2.3h0m0.3 1.1h0m2.7-1.4h0m0.1-2.7h0m2.8 4.4h0m1.3-3.6h0m0.4 3.3h0m1.1-2.4h0m2.3 2.5h0m0.4-4.6h0m1.3 2.5h0m0.7 2.1h0m1.9-2.2h0m1.6-3.2h0m4.7 6h0m0.1-5.1h0m1.2-0.4h0m1.9 5.3h0m1.4-5.7h0m1.5 0.5h0m1.7 1.5h0m3.4-1.7h0m6.1 4.4h0m0.6-2.5h0m0.2 1.1h0m2.8 2.5h0m0 0.1h0m0.3-2.3h0m0.2 0.4h0m0.9 0.9h0m1.4-2h0m1-0.9h0m1.7-0.1h0m1 0.7h0m-129.7 6.8h0m0.8 2.4h0m18.4-2.4h0m0.4-1.2h0m3.5 3.4h0m0.8 0h0m2.3-5.5h0m4.7 1.8h0m1.2-1.6h0m0.2 5.1h0m1.2-3.2h0m1.9-0.9h0m0.3-0.8h0m4.7 0.9h0m0.5 0.7h0m1.9 0.8h0m0.2 2.4h0m0.2-3.9h0m0 1.1h0m1.9-2h0m0.7 2.7h0m1.2-3.1h0m2.3 2.9h0m1.1 1.5h0m0.3-1.2h0m3 2.2h0m0.1-3.7h0m0.4 2.6h0m0.6-1.4h0m3.7-1.6h0m3.8 2.2h0m1 1.2h0m0.8-2.9h0m0.2-0.8h0m1.8 2.2h0m0.4-2.7h0m0 2.4h0m1-0.8h0m0.3-0.2h0m0.1 0.6h0m1.3-0.2h0m1.2 3.2h0m1.5-4.7h0m0.6 1h0m0.5 2.2h0m0.4 0.2h0m0.1 0.4h0m0.4-4.2h0m0.6 4.8h0m1.4-1.4h0m0.7 0.9h0m0.8-1.4h0m1.3 0.6h0m0.1-1.4h0m0.1-0.7h0m2.5 2.8h0m1.7 0h0m0.3-1.4h0m0.8-0.8h0m1.7 1.4h0m0.1-2.8h0m2 0.9h0m1.4 0.2h0m2.7 0h0m4.2-1h0m0 0.1h0m1 3.5h0m0.1 1h0m3.5-4.9h0m7 2.1h0m3.8 0.3h0m3.1 1.2h0m0.6 0h0m1 0.3h0m0.2-1.8h0m0.2-1.1h0m0.3-0.2h0m1.5 1h0m0.8 0h0m0.8-1.3h0m1.2 2.9h0m0.2-3.7h0m0 3h0m2.5-1.5h0m0.2 2.8h0m0.8-2.4h0m1.6-0.1h0m0.7-1.5h0m0.4-0.2h0m-117 9.6h0m0.9-0.8h0m0.8 1.3h0m8.1-4.5h0m0.5 3.5h0m9.5-3.9h0m0.3 2.9h0m0.9 1.6h0m4.2-2.4h0m2.8 1.2h0m0.4-2.2h0m0.3 0.2h0m10.2 3.7h0m1.5-4.5h0m4.5 1h0m6.5 0.9h0m2.7 0.6h0m1.2 0h0m0.7 0.8h0m1.7 2.2h0m0.6-5.5h0m0.7 2.8h0m5.2-2.1h0m0.5 1.2h0m1.3-0.1h0m1.7-1.8h0m0.4 3.6h0m0.3-4h0m1.4 0.9h0m0.4 1.7h0m0.2-2.6h0m1 2h0m0.1 3.5h0m0.7-1.1h0m5.3-3.2h0m0.4-0.8h0m1.3 0.7h0m3.8 2h0m1.6 2h0m0.5-2.7h0m2.6-0.5h0m9 3.7h0m1.7-1.8h0m3.6-2.8h0m5.1-0.9h0m0.4 0.7h0m1.5 0.4h0m2 0.4h0m1.4-1.5h0m5.1 1.2h0m-119.2 6.9h0m2.8 0.7h0m6.2-2.4h0m23.1 0.6h0m2.8-0.3h0m2.3 0.6h0m1.8 0.5h0m2.9-1.6h0m3.2 5.5h0m1.1-5.5h0m2.6 0.2h0m4.9 2.4h0m1.6-1.4h0m2.6 3.2h0m0.7-4.6h0m5.7 2.1h0m2.6 2.6h0m0.4 0.5h0m0.7-4.7h0m0.6 4.5h0m3.3 0.7h0m9.1-4.9h0m3.5 1.3h0m2.4 2h0m5.6-2.6h0m1.3 1.7h0m0.1 0.6h0m4-3.4h0m0.9 2.7h0m14.2-3.2h0m-118.3 6.4h0m1.3 5.4h0m1.2-3.6h0m3.2 1.7h0m1.5-3.9h0m1.8 3.8h0m1.1-1.6h0m3.2 1.3h0m28.5 0.7h0m6-3.7h0m3.9 3.6h0m3.8-0.2h0m1-0.1h0m3.1-2.3h0m3.2-1.1h0m1.3 0.1h0m2.4 2.3h0m3.9-2.4h0m3.7 2.2h0m3.6-1.4h0m0.9 0h0m0.1 0.1h0m25.8 0.7h0m-107.5 6.4h0m0.2-1.1h0m0.1 1.8h0m2.3-2.3h0m0.7 4.6h0m1.1-0.6h0m0.9-3h0m4.6 1.3h0m6.1-1.6h0m26.8 1.9h0m0.7-0.6h0m0.3 0.7h0m7-0.3h0m0.7-1.1h0m1.4-0.9h0m0.1-0.3h0m8-0.2h0m1.2 1.6h0m8.1 2.1h0m0.5-4.1h0m0.3 4.2h0m1.7-3.3h0m6.9 3.6h0m13.9-1.4h0m-79.2 4.5h0m15.9-0.1h0m7.7 3h0m12.9-0.2h0m5.8 0.9h0m3.3-3.5h0m2.2-1.4h0m6.8 1.9h0m3.1-2h0m6.9 0.2h0m0.4 4.7h0m13.2-0.5h0m-58.3 4.1h0m8.7-2.7h0m5.1 1.2h0m1.8 2h0m4.2-0.2h0m2.7 1.6h0m1.6-1h0m2.4-3.8h0m3.2 0.2h0m0.7 2.4h0m-51.7 3.2h0m39.3 1.5h0m0.7 1.9h0m3.7 0.5h0m5.4-2.3h0m1.6 1.5h0m0.8-1.9h0m4.4-0.3h0m1.3 3.2h0m10-1h0m2.6-2.5h0m7.5 3.6h0m-28.6 4.4h0m8.3-0.7h0m-11.6 4.9h0m0.3 1.8h0"/>
<path id="f10" d="M844.9 273.5h0m-2.2 7.3h0m5.6 0.2h0m-10.6 6.4h0m2.8 0.3h0m7.9-5.4h0m-13 10.2h0m1.1 0.6h0m7.1-4.1h0m0.2 0.1h0m7.5 0.1h0m-19.6 9.4h0m11.3 0.6h0m-16.5 4.6h0m73.1 25.3h0m13.3-3.1h0m2.4 2.3h0m-44.7 4.5h0m14.7-2.4h0m6.3 3.1h0m5.6 0.6h0m0.2-2.1h0m10 0.6h0m2.7 3h0m0.8 0h0m12.6-1.9h0m0.5-3.7h0m27.6 5.9h0m-74.8 3.4h0m5.8 2h0m3.5 0.3h0m2.3-4.1h0m2.1-0.3h0m0.4-0.6h0m2.3 2.4h0m4.6-0.4h0m7.5 3.4h0m2.3-3.1h0m6.9-1.3h0m2.1 2.7h0m1.9-3.4h0m2.5 1.1h0m3.4-1.4h0m8.9-0.1h0m7.3 2.9h0m-57.8 6.2h0m2.3 2.2h0m2.7 0.1h0m3.4-5.7h0m5.6 2.9h0m0.5-0.6h0m0.3-2.2h0m1.5 3.7h0m1.1-0.2h0m0.4 0.2h0m0.7-0.2h0m0.2 0.3h0m3.9 0h0m0.9-3.6h0m4.5 4.5h0m5-3.9h0m0.3 2.8h0m12.4-0.4h0m17.5 2.4h0m7.3-1.6h0m6.9-3.1h0m1.9 4.1h0m-93 4h0m12.8 1.7h0m4.2-1.5h0m1.9 2.5h0m4-2.1h0m1.3-3.1h0m1.5 0.2h0m3.7 4.9h0m2.1-2.4h0m0.5-2.3h0m0.1 0.1h0m3.6 0h0m2.3 2.3h0m2.2 0.4h0m1-2.5h0m1.4 0.7h0m4.5-1.9h0m2.3 4.6h0m3.8-2.2h0m0.7 3h0m5.6-2.5h0m5.9 0.4h0m0.9 1.7h0m2.7 0h0m7.6-4h0m3.9 3.7h0m0.1-3.9h0m0.3 3.3h0m11.1-2.2h0m3.2-0.5h0m6.4 1.7h0m-95.3 4.1h0m6.9-1.1h0m3.2 2.6h0m3.2-2h0m0.9 0.1h0m2.3 1.1h0m0.6 0.2h0m0.3-1.6h0m1.1 3.3h0m0.2-1h0m0.9-0.3h0m0.2-1.7h0m0.5 0.2h0m0.9 2.5h0m2.8-2.2h0m1 2.7h0m0 0.5h0m2.6-4.4h0m0.3 4.1h0m1-1.2h0m1.2 1.6h0m0 0.2h0m0.2-2.3h0m0.1 0.2h0m1.7-1.3h0m0.7 2.9h0m0.2-3.3h0m4.9 4.2h0m0.3-2.5h0m0 0.8h0m0.1-0.2h0m0.1-1.4h0m0 0.1h0m2.5-1.7h0m0.4 4.7h0m1.5-3.2h0m0.4 3.4h0m0.5-3.8h0m0.8 2.4h0m1.4-1.3h0m4.1-1.5h0m0.5 3.2h0m0.2 0.1h0m6.1 1.1h0m2.7-4.4h0m0.9 0.2h0m0.6 3.6h0m1.7-0.2h0m2.1 0.4h0m0.4-4.6h0m0.2 1.1h0m0.3 2.1h0m2.7 0.7h0m0.2-1.4h0m1 2.5h0m1.8-0.8h0m0.3-2.4h0m1 2.5h0m0.1-0.4h0m0.3-1.1h0m1.8-2.5h0m1.9 4.1h0m0.3-1.9h0m1.5-0.4h0m0.2 1.1h0m0.3-3.4h0m0.3 3h0m0.3-3.1h0m0.6 4.4h0m0.5 0.5h0m0.6 0.5h0m0.2-2.6h0m1.8 1.2h0m0.6 0.8h0m2.8 0.2h0m0.7-3.8h0m1.4 3.5h0m1.9-2.2h0m0.2 2.2h0m2-2.4h0m0.8 1.5h0m0-1.3h0m0.2 2.7h0m0.4-1.1h0m0.4 0.4h0m1.2 0.4h0m4.5-3h0m2.3 0.2h0m-90.2 5.2h0m3.7 3.2h0m0.4-1.5h0m2.5 0.7h0m1.2-1.6h0m0.6-1.1h0m0.1 3.6h0m0.8-4.4h0m3.1 1.4h0m1 2.4h0m0.1-3.2h0m1.8 4.2h0m1.6-4.9h0m0.5 0.9h0m1 0.2h0m0.4-1h0m1 2.4h0m3.5 0.1h0m3.4-2.6h0m3 4.1h0m0.7-0.2h0m1 0.7h0m0.1-1h0m1.3 1.7h0m0.4-4.7h0m2.5 0.1h0m0.2 2h0m0.6 2.1h0m6.5-2.8h0m1-0.1h0m2.7 3.6h0m0-1.6h0m0.5-3.3h0m0.8 3.7h0m0.3-3.4h0m0.1 0.3h0m1.2-1.4h0m1.6 5.4h0m0-0.8h0m2.3-4.3h0m1.1 1.5h0m0.6 2.3h0m1.2-4.4h0m1.3 2.1h0m1-0.6h0m0.7 4.1h0m2.8-5.4h0m0.5 4.4h0m1-4.5h0m0.3 5.6h0m1-5h0m1.6 2.1h0m1.1 3h0m4.9-1.8h0m5.3-2.1h0m9.7 0.8h0m3.2 3.1h0m0-3.8h0m7.9 1.6h0m-99.4 3.7h0m1.7 1.7h0m2.6-2.7h0m0.8 2.9h0m0.4 0.7h0m4.2-1.2h0m0.9-0.1h0m2.8-1.5h0m0.5 3.5h0m1.1 1.3h0m1.2-4.4h0m0 0.2h0m0.3-0.1h0m0.1-0.7h0m0.8 0.9h0m1.8 0.2h0m0.4 3.6h0m0.1-2.1h0m0.4-1.5h0m0.5 1.4h0m3.1-1.6h0m0.5-0.1h0m3.6 2.2h0m0.7-3.8h0m2.7 5.1h0m0.9-1.5h0m0.2-3.6h0m0.1 0h0m0.5 1.7h0m0 2.9h0m1.7 0.8h0m1.4-2.6h0m0.6 2.8h0m0.8-0.7h0m0.4-3h0m2.7-1.7h0m1.2 1.4h0m0 2.5h0m0-3.1h0m0.4 1h0m0.4 2.2h0m0-3h0m3.6 0.9h0m0.5-2.2h0m1.9 3.9h0m0.5-3.3h0m0.2 1.7h0m0.5-0.1h0m2.5 1.9h0m1.1-2.4h0m1.2 2.9h0m2.1-2.2h0m0.8 0.4h0m1-2.3h0m0.7 4.4h0m0.3-3.6h0m0.6 4.2h0m0.1-0.8h0m0.1-3.7h0m0.7 2.4h0m1-3.3h0m3.5 5.4h0m0.4-2.9h0m2-0.2h0m3.1-1.4h0m0.3 4.3h0m10.2-5h0m4.4 1.5h0m2.6 4.2h0m0.7-0.3h0m1.5-5.4h0m0.7 4.8h0m7.7-1.7h0m1.7 1.6h0m0.9-1.1h0m-111.2 7.8h0m1.2-5.2h0m4.8 5h0m1.5-0.8h0m1.4 0.6h0m0.4 0.3h0m0.9-1.8h0m7.7 0.4h0m0.4-1h0m0.4-0.7h0m0.2 3h0m2.5-0.8h0m3.7-2.6h0m1 1.1h0m0 0.7h0m0.1 1.5h0m0.3-0.3h0m1.6-0.1h0m3.5 0.4h0m1.5-3.1h0m0.5 1.4h0m0.6-3.6h0m0.4 4.9h0m0.1-3.9h0m0.4 3.7h0m0.5-3.8h0m0.8 1h0m0.7-1.4h0m0 0.4h0m0.4 4.3h0m0.3-1.1h0m1.1 1.4h0m0.4-5.5h0m1.9 5.5h0m1.1 0.1h0m1.1-3.6h0m1.6 1.5h0m0.3-0.3h0m3.8 2.4h0m0.8-5.2h0m1.3 0.4h0m0.1-0.6h0m1.1 0.8h0m1.9 2.9h0m1.7 0.1h0m0.8 0.9h0m2.9-2.7h0m0.6 0.2h0m0.8 1h0m0.1 1.4h0m1.6-4.3h0m0.7 1.6h0m2.1 2.4h0m2.9 1.1h0m0.2-0.8h0m2.2-3.8h0m0 2h0m0.2-2.3h0m0.1-0.5h0m2 5.2h0m1.1-3.8h0m0.4 3.4h0m0.1-3.6h0m0.9 3.4h0m2-0.8h0m1-3.4h0m3.2 0.1h0m0.7 4.2h0m0-1.4h0m5.6 1.3h0m0.2-3.6h0m0.6 3.8h0m6-1.3h0m2.9-0.8h0m8.4-0.7h0m2.7 1.6h0m-114.2 3.3h0m2.2 3.5h0m1.1-3.6h0m2.4 3.7h0m3.3-0.7h0m5-1.2h0m0.4-0.3h0m0.7-1.3h0m0.1 1.2h0m0.3 0.4h0m1.1 0.4h0m0.3 1.2h0m0.5-3.7h0m0.3-0.8h0m1.6 2.8h0m0.1 1.9h0m0.8-1.1h0m4.1 1.3h0m0.1-4.3h0m1 0.1h0m0.9 3.9h0m0.4-2.5h0m0.5 3.9h0m0.2-3.9h0m0.3 1.5h0m0.3-1.4h0m1.7-1.1h0m2.3 3.9h0m1.3-4.6h0m0.2 5.1h0m1.8-2.1h0m0.6 0.8h0m0.1 1.4h0m2-2.8h0m2.9-2.5h0m1.6 1.9h0m1.2 0.3h0m0.7 2.6h0m1.2-0.1h0m1.7-4.2h0m0.2 2.3h0m0.7-1.8h0m0.3 1.4h0m1.2-1.3h0m0.9-0.6h0m1.2 1.4h0m0.2-1.4h0m0.1 4.2h0m0.8-1.1h0m0.2-1.2h0m0.6-0.4h0m1.4-2.1h0m0.7-0.1h0m0.9 5.7h0m1.3-4.7h0m0.6 2h0m0.2-1h0m0 1.3h0m1.5-2.2h0m1.1 3.5h0m0.1-4.4h0m0.8 3.9h0m1-0.3h0m0.7 0.3h0m0.2-3.3h0m0.9 0.3h0m0.9 0.9h0m2 3.5h0m0.2-0.6h0m0.2-2.4h0m1.7-2h0m0.9 2.4h0m0 1.9h0m0.8-3.6h0m0.3-0.1h0m0.6 0.4h0m0.3 0.3h0m1.2 0.9h0m0.3 3h0m0.4-3.8h0m1.5-1.7h0m0.3 0h0m0.3 4.3h0m0.1-2.6h0m0.8 3.3h0m1-2.8h0m0.1 3.4h0m2.6-4.5h0m1-0.4h0m0.8 0.7h0m2.3 0.4h0m0.2 1.8h0m1.3 1.5h0m7.1-0.1h0m3.9 0.6h0m1.2-4.5h0m0.5 1.3h0m3.3 2.9h0m1.3 0.3h0m0.3-3.6h0m1.2 1.1h0m0.1-0.6h0m5.6-1.9h0m0.2 1.6h0m-112.5 6.7h0m1.4 2.2h0m4.9-4.8h0m1 5.3h0m2-4.6h0m0-0.4h0m1.3 3.7h0m1.2-3.9h0m8.3 4.2h0m0-1.8h0m0.9-2.5h0m2.6 3.8h0m0.3-0.7h0m1.5 0h0m1.8 0.7h0m0-3h0m1.3 4h0m1.1-2.6h0m5.5-1.4h0m0.1-0.3h0m1.1 1.1h0m0.7 2.4h0m1.9-4h0m0-0.3h0m3.7 3.6h0m0.1 2.1h0m0.3-2.2h0m1.2-3h0m0.4 1.8h0m0.5 3h0m0.3-5.5h0m0.4 5.4h0m0.5 0.4h0m0-4.5h0m2.1-1.3h0m0.2 5.8h0m1.7-4.3h0m1.1-1.5h0m2.1 4.2h0m2.4-1.4h0m0 1.5h0m0.2 1.3h0m0.1-0.9h0m0.1-2.2h0m1.8 1.4h0m1 0.9h0m0-0.3h0m2.2 0.6h0m2.4-4.7h0m5.6 2.8h0m0.2 1.7h0m3.1-0.6h0m0.3-0.5h0m1.3 1h0m1 0.4h0m3.5-2.1h0m0.3 1.1h0m0.3-1.3h0m1.1-0.5h0m0.2 1.8h0m0.3-0.5h0m1.1-1.6h0m2-1.9h0m0.5 4.5h0m12.5-4.1h0m4.5 5h0m3.9-5.2h0m2.6 1.8h0m1.3-0.7h0m0.5 0.1h0m0.4 2h0m4.9-2.8h0m-113.8 8.2h0m0.8 0.2h0m0.2-1.2h0m1.7 1.8h0m0.3-3.9h0m0.3 3.8h0m1.1 1.9h0m0.8-1h0m0.3-3.3h0m2.2 4h0m1.4-4.5h0m1.5 4.5h0m3.1-1.6h0m0.7 1.2h0m1.1-4.4h0m2.5-0.3h0m2.7 3.6h0m1.9-3.8h0m0.6 5.4h0m2.5-4.7h0m0.9 0.2h0m0.8-0.5h0m0.4 0.1h0m1 3.2h0m0.8-0.6h0m0.9-0.3h0m0.3-2.4h0m1.8 3.1h0m0.6-3.1h0m4.2 2.5h0m0.8 2.9h0m0.4 0.1h0m0.6-1.8h0m1.9-4h0m0.4 2.4h0m1.4 3.2h0m0.1-3.7h0m0.6-0.4h0m0.1-1.1h0m0.3 3h0m1 1.6h0m0.1-2.2h0m0.3-2.4h0m2.5 2h0m1 2.6h0m0.5-3.1h0m1.8-1.2h0m1.3 2.1h0m2-2h0m2-0.5h0m1.2 1.3h0m0.5 1.4h0m0.6-3.1h0m0.2 3.8h0m0.8 0.9h0m0.4-0.5h0m0.5-3.9h0m1.6 1.4h0m0.3 3.1h0m1.4 0.3h0m0.5-2.4h0m1.3 1.9h0m2.2-2.1h0m0.3 3h0m0.4-0.2h0m0.7 0h0m0.4-0.1h0m0.1-0.3h0m1.3-0.4h0m0.1-3h0m0.2 4h0m0-1.5h0m5.1-3.3h0m0.3 2.6h0m1.4-0.5h0m1.9-2.7h0m1.3 2.4h0m1.3 0.1h0m0.7-0.4h0m0.6-0.8h0m2.1 1.1h0m7.7 0.8h0m6.6 0.7h0m1.6-2.5h0m2.3 3.2h0m1.3-1.2h0m2.5-3.4h0m0.2 4.8h0m0.8-4.9h0m-125.5 9.8h0m3.2 0.4h0m0.1 1h0m0.9 0.5h0m0.1 0.2h0m0.9-2.6h0m0.9 2.4h0m0.5-4h0m2.1 1.9h0m0.5 1.4h0m0.7-3.1h0m0 3.8h0m7.4-5.8h0m0.5 5.5h0m1-3.9h0m0.3 3.7h0m0.6-3.6h0m3.6 2.3h0m0.2-3.8h0m0.4 5.4h0m4.4-0.3h0m0.9-3.6h0m5.9 2.2h0m3.9 1h0m0.1 0.1h0m0.1-1.2h0m0.3-2.1h0m0.2 1.7h0m0.8 2.2h0m0.1-2.1h0m0.9 1.2h0m0.1 1.1h0m2.4-1.3h0m1 0.3h0m1.5-0.4h0m0-0.1h0m0.5-1.3h0m1.5-2.5h0m2.5 1.2h0m1.9 3h0m0.9-4.5h0m0.2 2.3h0m0.8 0.1h0m2.6 0.3h0m0.8-1.9h0m1.2 2.4h0m1 2.2h0m0.7-2.4h0m2.1-1.9h0m1.6 4h0m0.2-1h0m1.7 0.7h0m0.6-3.2h0m1.5 1.4h0m0.8-3.1h0m0.7 4.3h0m3.4-1.9h0m0.7 3h0m0.1-2.1h0m2.8-1.7h0m0.7-0.3h0m2.3 1.7h0m3.5-2.6h0m0.9 1.1h0m1.4 2.1h0m0.9 0.6h0m0.5-2.8h0m0.7 0.9h0m1.2 1.5h0m0.4 0.1h0m3 0.4h0m0.2-2.2h0m1.1 3.4h0m0.4-5.4h0m0.9 3.4h0m2.2 0.4h0m0.1-0.8h0m0.3 2h0m0.7-1.4h0m1-2.5h0m3.6 4h0m0.3-1.8h0m1.4-2h0m0.9 1.1h0m9.9 2.8h0m3.3-3.2h0m2.5 0.7h0m-122.5 6.5h0m2.2-1.5h0m0.7 1h0m1.2-1h0m0 1.8h0m0.2-2.9h0m0.1 2.2h0m0 2.1h0m0.3-3.1h0m0.1-1.3h0m0.1 2.2h0m0-2.4h0m0-0.3h0m0 1.3h0m0.3 1.6h0m0.6 0.3h0m0.6-2.4h0m0.2-0.5h0m0.2 3.5h0m0.1-2h0m0.2 0.6h0m0.1 1.3h0m0.4-0.1h0m1.8-0.7h0m13.7 1.2h0m1.1-1.9h0m0.8 2.7h0m0.2-4.7h0m0 3.3h0m0.1 0.6h0m0.1-1.6h0m1.4 0.5h0m1.3 2.5h0m0.2-1.8h0m0.7-3h0m2.5-0.4h0m1.2 5.1h0m2.2-2.5h0m0.2 1.4h0m0.4 0.5h0m4.2 0.4h0m1.6-5.2h0m0.1 5.4h0m3.3-0.2h0m0.2-1h0m0.7 0h0m0.1-2.5h0m4.3 2.4h0m1-0.5h0m1-2.4h0m3 0.8h0m0.6 3.3h0m5.3-4.5h0m0.8 0.1h0m2-0.5h0m0.2 4.9h0m1.1-4.1h0m0-0.2h0m0.3 4.7h0m0.9-5.8h0m2.1 0.3h0m1.4 5.5h0m0.3-4.4h0m2.2-0.5h0m0.9 0.1h0m5.4 4.2h0m0.4-4.2h0m1.6 4.4h0m0.1-4.8h0m0.1 1.8h0m0.9-2h0m0.7 1.6h0m0.3-1.3h0m0.4 4.1h0m3.3-4.1h0m0.9-0.5h0m0.1 2.1h0m1 0.3h0m0.6 0.5h0m1.9 0.8h0m3.8-2.4h0m2-0.4h0m2.2-0.7h0m3.1 1.9h0m1.3-2.2h0m0.3 5.7h0m0.7-1.5h0m0.4-1.7h0m1.2 2.9h0m0.1-1.5h0m0.9 1h0m0.4-2.7h0m7.1-2.1h0m5.3 0.6h0m2 4.1h0m-122.7 3h0m0.5 2.1h0m0.8 1.5h0m1.7-3.3h0m4-1.8h0m2.5 0.6h0m11.9 3.9h0m3.5-2.2h0m0.2-2.1h0m4.8 1.9h0m0-2.2h0m3.2 4.7h0m0.8-2.5h0m1.8-1.5h0m0.4 1.7h0m2.8 0.5h0m0.4 1.4h0m0.4 1.1h0m1.1-2.3h0m0.7-3h0m3 1.5h0m0.4-2h0m1 2.3h0m1.2 2.6h0m0.3 0h0m0.7-2.9h0m0.4-1.6h0m2.4 3.2h0m1.2 0.7h0m1-0.4h0m0.5 1.9h0m2.9-0.7h0m1.2-3.9h0m0.4 3h0m1.9-0.9h0m0.2-2.7h0m0.4 0.6h0m2.2 3.9h0m0.8-0.5h0m0.5-2.2h0m0.2 1.2h0m1.6-0.5h0m0.3-1.4h0m1.1 2.3h0m0.8 1.7h0m3.8-3.7h0m0.7 2.7h0m0.2 1.2h0m4.1-2.6h0m0.6-1.6h0m4.2 1h0m0.1 0.7h0m0.4 2.3h0m0.2-5.5h0m0.2-0.1h0m0.8 4.6h0m1.3-0.2h0m0.4-3.2h0m0.9 1.6h0m0.1-0.3h0m0.8 0.1h0m1.1 2h0m0.2 0.7h0m2-0.8h0m1.7-3.4h0m0.3 3.9h0m0.7-1.1h0m0.2 1.8h0m0.5-5h0m0.3 0.7h0m0.4 4.5h0m0.5-3.7h0m6.1-0.2h0m2.8 3.2h0m0.5-2.7h0m3.3 2.3h0m1.5-0.8h0m0.7 0.6h0m2.9-0.4h0m0.6 1.4h0m-84.6 4.4h0m0.8-1.8h0m5.7 3.6h0m1.6-5.9h0m1.9 0.1h0m1.2 0.1h0m1 2.4h0m0.8 0.6h0m3 2.7h0m3.4-1.2h0m1.1-3.3h0m0.3 1.5h0m0.2-1.5h0m0.4 2.3h0m1.3-0.3h0m0.2-0.6h0m1.3 0.5h0m3.4-0.3h0m1.9 0.8h0m1.7-0.7h0m0.4-2.8h0m2.8 2.4h0m1.6-2.1h0m3.9 5.3h0m0.3-4.2h0m0.3 0.4h0m0.3 1.1h0m2 1.6h0m0.5-3.9h0m0.3 4.9h0m1.1-0.2h0m1.8-3h0m1.5-2h0m0.6 2.2h0m0.7-0.3h0m1.8 2h0m0.1-0.5h0m0-1.5h0m0.2 0.1h0m0.3-2.2h0m0 4.5h0m1-0.9h0m0.2-2.3h0m0.5 3.3h0m0.3-4.9h0m0.2 1.2h0m1.2-1.3h0m0.6 5.2h0m0.5-0.8h0m1.1 0.2h0m3.3-4.6h0m1.8 0.1h0m0 4.9h0m0.1-2.3h0m1.1 3.1h0m1.2-1.5h0m6.3 0.5h0m2.2-3.9h0m1.3-0.7h0m0.1 5.3h0m0.8-2.6h0m1.3 0.3h0m0.2-1.1h0m1.7 2.2h0m1.2-1.2h0m3.1 2.6h0m1.8-3.5h0m2.2-0.2h0m1.6-0.2h0m-85.6 5.6h0m1.7 0.3h0m6.1 2.9h0m2.9-2.2h0m1.8-1.8h0m3.6 2.2h0m3-2.2h0m1.4 3.3h0m0.1-2.7h0m0.8 1.9h0m1.1 2h0m2.2-1.3h0m0.3 2h0m1.7-5.7h0m2.5 2.1h0m0.2 3.1h0m1.8-2.6h0m1.4 0.2h0m0.6 1.3h0m1.8-0.9h0m2.6-0.9h0m0.1-1.2h0m0.1-0.3h0m1.4 3.4h0m1.7-4.2h0m4.6 3.1h0m0.1 2.4h0m0.4-1.3h0m0.5-1.7h0m0.1 0.6h0m1.9-1.3h0m0.1 2.4h0m1.3-1.6h0m0.3-0.4h0m0.2 3.4h0m3.1-2.9h0m1.6 1h0m6.1-1.8h0m1.2-0.4h0m2.7-0.7h0m1.1 0h0m1.4 1.8h0m4.9-0.1h0m0.8-2.5h0m3.2 3.3h0m2 0h0m3.9-1.8h0m-75.2 10.3h0m0.7-1.9h0m4.8-1.5h0m1-0.4h0m2.3 2.4h0m0.1-3.2h0m1.6 0.2h0m0 3.6h0m0.1 0.4h0m1.2-2.7h0m4.4-1.2h0m2.5-0.3h0m1.9 0.7h0m2.1 2.9h0m0.2-2.8h0m0.4 2.9h0m0.8 0.8h0m0.8-3.4h0m1.6-2.2h0m0.8 0.8h0m0.3 4.8h0m0.6-4.7h0m0.1 0.2h0m0.4 0.6h0m5-1.6h0m0.7 5h0m0.1-4.7h0m1.3 2.1h0m0.2 0.8h0m0.1-3.4h0m0.6 2.1h0m0.2-1.7h0m0.5 5.4h0m3.6-5.1h0m0.8 3.9h0m0.7 0h0m0.7-3.7h0m1.2 2.5h0m0.6-2.4h0m0.2 1.9h0m2.1 2.8h0m9.5-1h0m11.4-1.7h0m-62 8.2h0m0.5 0h0m2.9-2.8h0m1 3.1h0m0.1-1.1h0m2.6-3.1h0m0.5 2.6h0m2.3-1.1h0m1.8-1.1h0m0.4 2.6h0m0.5-0.5h0m0.5 1.1h0m1.1 0.3h0m0.2-0.5h0m0.4-1.9h0m1.3-2.4h0m1.1 0.4h0m1.6 4.3h0m1.2-1.3h0m1.1 1h0m1.4 0.3h0m0.4-4.8h0m0.5 3h0m3.1 1.6h0m0.5-3.7h0m1.1 2h0m0.9-0.4h0m4.6-2.3h0m0.2 1.7h0m1.3 0.4h0m0.9 0.5h0m0.6-1.5h0m1.8-0.6h0m1.5-0.8h0m0.9 4.9h0m1.5-3.8h0m3.5 4h0m3.5-1.6h0m5.8-0.5h0m-55.5 6.2h0m5-1.1h0m1.6 1.7h0m2.3-3.7h0m3.4 2.4h0m0.7-0.1h0m0.2-0.8h0m0.5 0.7h0m2.8-1.5h0m1.9 4.2h0m1.6-4.6h0m1.3 4.8h0m0-1.5h0m1.9-2.3h0m2 0.5h0m0 0.4h0m0.8-0.6h0m2.3 1.2h0m0.1 0.5h0m1.1 0.3h0m0.1 0.7h0m0.2-4h0m0.4-0.3h0m0.8 5.4h0m0.1-2.7h0m0.4-1.1h0m0.4-0.4h0m1.9 0.4h0m1.4 0.6h0m1.4-1.8h0m4.4 4.9h0m4-1.3h0m-39.7 4h0m2.7-2.1h0m1.5 0.5h0m5.2 2.1h0m6.2 2.8h0m0.4-4.6h0m0.7 4.8h0m0.1-1.8h0m0.2-0.9h0m0.7 2.4h0m0.6 0.3h0m0.2-4.5h0m0.6 2.3h0m3-1.2h0m4.9-0.8h0m0.4 2.2h0m4.5 0.5h0m1.2-1.2h0m3.2-3.1h0m-31 7.8h0m2.4 2.3h0m3.4-1.5h0m1.2-0.1h0m1.6 1h0m0.5-3.1h0m2.7 0.7h0m1.4 0.1h0m2.4 3.6h0m0.9-3.3h0m-13.3 7.7h0m5.3-3h0m0.8 2h0"/>
<path id="f30" d="M942.5 227.2h0m0-0.2h0m0.8-0.8h0m1.5 1.3h0m0.2-2.1h0m0.2 0.2h0m1.3 0.1h0m0.2 1.9h0m2.9-0.2h0m0.6-0.9h0m-3.5 1.8h0m2.5 0h0m-65 21.5h0m24 0.8h0m21.8-3.8h0m-40.8 10h0m-41.1 6.9h0m68.5-4.3h0m-20 9h0m16.7-0.3h0m23.3-3.7h0m-66.6 9.7h0m15.3 0.3h0m6.1 0.2h0m22.6-3.2h0m0.7 1.2h0m1.3 1.2h0m4.5 2h0m8.7-4.6h0m-109.7 8h0m92.6-0.8h0m10.6 3.6h0m-104.1 2.6h0m0.4-1.8h0m20.6 3.6h0m8.2-0.5h0m39.7-1h0m4.3-0.9h0m13.5 0.4h0m31.7 0.9h0m-109.4 3.8h0m3.1 3h0m9.4-3h0m4.9 0.5h0m45.9 0.7h0m6.4-0.5h0m2 3.1h0m16.4 0.7h0m1.1-4h0m5.1-1.5h0m0.7 3.7h0m16 0.9h0m-90.8 3.2h0m14.7 0.1h0m1.2 1.1h0m8.6 2.7h0m14.6-2.2h0m4.4-3.4h0m16 1.5h0m7.4-0.8h0m-77.5 9.6h0m5.1-1.2h0m5.2 0.3h0m2 0.5h0m10.5-1h0m4.2 1.6h0m0.9-0.9h0m4.1-1.1h0m2.2 0h0m0.9-1.1h0m1.5 3.7h0m6.8-2.2h0m3.1 0.8h0m25.8-2.2h0m93.5 3.4h0m3.2-1.2h0m0.4 0.7h0m0.6 0.1h0m0.3 0.3h0m0 0h0m1.6-0.6h0m-180.6 7.5h0m5-4h0m3-1.2h0m2.4 4.7h0m2.5-2.3h0m2.8-2.6h0m0.4-0.2h0m0.9 3h0m3.2 2.1h0m0.4-1.1h0m1 1.3h0m1.1-1h0m0.1-3.7h0m1.8 3.1h0m1-3.6h0m1.5-0.3h0m0.7 3.6h0m1.1-3.5h0m0.5 2.1h0m1.6 0h0m1.9-0.3h0m1.3 4h0m0.9-0.9h0m13.2-4.5h0m1.4 3.5h0m4.1 0.6h0m3.6 0.9h0m2.5-3.1h0m5.7 0.4h0m31.6-1.6h0m-104.6 6.3h0m0.7 0.8h0m1.1 3.5h0m2.7-2.7h0m3.6-3h0m0.1 3.7h0m3.4 1.7h0m6.2-0.5h0m3.2-0.7h0m7.1 1.3h0m5.6-2.2h0m1.5-3.3h0m0 1.7h0m1 0.4h0m1.4-1.2h0m0 0.8h0m0 2.7h0m0.8-2.6h0m1-0.3h0m1.1 4.1h0m0.5-2.5h0m1.5 1.8h0m3.1 0.3h0m0.7-1.3h0m0.3-1.7h0m2.8-0.9h0m0.5 3.4h0m0.5-3.9h0m0.8 2.6h0m0.3-1.5h0m0.4 0.4h0m0.9-0.8h0m0.4 1.9h0m0.6 0.7h0m2.2-2.4h0m2.3 0.1h0m2.2 2.6h0m1 0.4h0m1.6 0.7h0m1.2-3.4h0m1.6-0.1h0m1.4 1.9h0m1.6-3.2h0m0 4.7h0m1.4-1.7h0m0.1-2.7h0m1.2 2.9h0m1.4-0.1h0m2.2-2.9h0m0.9 1.2h0m5.6-0.7h0m7 4.4h0m7.1-1.1h0m4-1.3h0m-108.4 3.9h0m3.3 1.5h0m0.5 1.1h0m10.3-0.4h0m6.2-2.2h0m0.1-0.4h0m0.7 1.4h0m0.7 0.4h0m0.8 0.3h0m1-3.2h0m3.4 3.5h0m0 0h0m1 0.1h0m0.5 1.4h0m0.7-4h0m5.4 2.2h0m0.1-2.8h0m2.1 0.1h0m1.2 0.6h0m1.9 2.2h0m1.3 2.4h0m0.3-1.8h0m0.8-3.6h0m1.2 4.8h0m6.3 0h0m0.1 0.1h0m1.6-3.2h0m0.9-1.5h0m0.1 2h0m0.2 2h0m2.6 0.3h0m0.1-2.4h0m0.2-1.7h0m0.9 3h0m1.1-0.5h0m1.5-2h0m0.3 4.8h0m0.5-1.8h0m0.1-3.6h0m0.9 0.7h0m0.8-1.1h0m0.6 1.4h0m3.9 1.7h0m0.3-0.7h0m1.7 2.3h0m2.5 0.5h0m1.1-4.3h0m1.3 4.2h0m0.6-0.2h0m1.8 0.4h0m0.1-5.2h0m0.2 2.4h0m1.6-1.6h0m0.1 4.4h0m0.6-3.2h0m1.6 0.5h0m0.4 1.2h0m3.3 1.1h0m6.5-0.4h0m4.7-0.8h0m0.6-0.8h0m1.7 2.8h0m9.2-3.1h0m-102.1 6.6h0m1.8 1.9h0m0.3-3.3h0m0.7 1.7h0m1.6 0.8h0m0.2-4.3h0m1.1 3.3h0m0.1 2.3h0m1.7 0.1h0m1.9-4.9h0m6.5 3.7h0m3.2 0.6h0m1.3-2.4h0m0.2 1.1h0m0.4-1.8h0m1-1h0m0 3.2h0m0.6 0.2h0m0.3 0.6h0m0.5-1.4h0m1.2 1.7h0m1.3 0.4h0m0-1.5h0m0.3-3.8h0m0.2 3.1h0m0.1-1.7h0m0.6 0.6h0m0.7 3.1h0m0.1-3.2h0m1.2 2.9h0m0.6 0.2h0m2.1-1.1h0m0.2 0h0m1.7-4.1h0m1.5 0.2h0m0.2 2.5h0m0.2-0.3h0m0.6-1.1h0m0.1 3.4h0m1.4-1h0m0.5 1h0m1-4.4h0m1 1.7h0m1.6 2.6h0m3.8-4.5h0m0 4.9h0m2.6-1h0m0-0.7h0m0.7-1.5h0m0.1 1.2h0m2-3.1h0m0.1 2.4h0m1.8-2.3h0m0.4-0.2h0m0.3 4.2h0m0.2 1h0m1.7-4.5h0m3.4 4.6h0m0.8-1.9h0m0.6 0h0m2.3-0.7h0m1.1 0.3h0m0.9 1.6h0m3.7-3h0m0.6 3.3h0m0.8-4.8h0m4.4 4.6h0m2.1 0.7h0m2.5-4.9h0m0.9 3.2h0m1.9-2.1h0m2.8 1.9h0m3.4-1.6h0m2.4-1.2h0m0.2 2.5h0m2.2 1.1h0m6.4-3.7h0m38.4 3.9h0m-141.9 5.6h0m3.3 1.5h0m0.4-4.9h0m1 4.9h0m0.1-1.4h0m0.9 1.4h0m0.6-1.6h0m0.2 1.6h0m0.4-2.8h0m0.7 1.1h0m0.5-1h0m0.9 2.4h0m0.2-3.6h0m0.1 2.8h0m0.3-0.6h0m1-2.3h0m0.1 3.9h0m0.1 0.2h0m1-0.8h0m1.2-0.5h0m0.1-0.6h0m0.1-0.6h0m0.4-0.9h0m1.1 0.8h0m0.2 1.9h0m0 0.6h0m0.1-0.6h0m0.6-0.8h0m0.1-0.3h0m0-0.4h0m1.7 1h0m1-3.6h0m0.4 3.1h0m0.4 0.3h0m0.9-2h0m0.4 3.3h0m0.5-1.2h0m0.5 0.7h0m1.1-3.3h0m0.3-1.6h0m0.9 3.6h0m0.1-1.4h0m0.3 2h0m0.2 0.4h0m0-2.5h0m0.2 0h0m0.6-2.3h0m0.1 3.2h0m0-2.1h0m0 3.8h0m0.4-2h0m0.1 1.7h0m0.1-1.2h0m0.2-0.4h0m0.2-1h0m0.1-0.2h0m0.2-0.3h0m0-0.8h0m0 0.7h0m0.2 3h0m0-3.3h0m0 1h0m0.1-1.7h0m0.6 0h0m0.1 2.7h0m0.2-1.3h0m0.1 3.3h0m0.1 0h0m0.1-2.3h0m0.2 2.3h0m0.1-1.4h0m0-0.2h0m0.4-3.5h0m0.4 3.5h0m0.3-1.4h0m0.5-1.2h0m0.2 0.8h0m0.1 1.3h0m0.1-2.7h0m0.3 0.1h0m0.2 3.3h0m0.1-1h0m0.1 2.8h0m0.2-1.7h0m0.3-0.5h0m0.1 0.6h0m0.6-3.2h0m0 4.5h0m0.2-1.6h0m0.1-3.6h0m0 1.8h0m0.1-0.6h0m0.1 4.5h0m0.2-5.4h0m0.3 3.7h0m0-0.9h0m0.1-1.4h0m0.7 3.7h0m0.7-4.9h0m1.2 3.5h0m0.4 0.4h0m0.8-2.4h0m0.5-1.6h0m3.3 1.7h0m3.6-1.9h0m1 1.1h0m0.2 2.7h0m0.9 0.7h0m3-0.8h0m1.9-0.5h0m4.4-0.5h0m0.9 1.7h0m0.2 1h0m0.2-5h0m0.2-0.4h0m0.2 4.7h0m1-3.5h0m0.3 0.6h0m0.4-2.1h0m3 3.7h0m0.2 1.4h0m4.2-2.3h0m2.2 2.4h0m3.6-0.3h0m1.1-1.7h0m0.2-0.3h0m0.4-2.6h0m0.1 5.3h0m1-2.9h0m0.7-2.7h0m0.8 1.3h0m0.1 0.9h0m1.3 3.7h0m1.2-3.6h0m0.5 3h0m1-4.4h0m0.6 3.2h0m0.3-2.8h0m1.9 3h0m2-1.3h0m1.1-1.9h0m1.6 1.4h0m7.8 3.1h0m1.2-1.9h0m5.9-2.1h0m-105.1 8.1h0m2.3-2.3h0m2.1-0.7h0m0.5 2.8h0m0.8-3.2h0m0.1 2.4h0m0.1-0.9h0m0.3-0.5h0m0.1 2.4h0m0.1 1.6h0m0.1-4.8h0m0.4 4.6h0m0.6-3.5h0m0 0h0m0.6 0.6h0m0 3.2h0m0.1-0.6h0m0.1 0.6h0m0.6-4.8h0m0.1 4h0m0.3-1.4h0m0.5 2.2h0m0.2-3.8h0m0.2 2h0m0.2-1.4h0m0.1 2.1h0m0.1-1.4h0m0.1 3h0m0.1-3.6h0m0.3 1.6h0m0.1-1.2h0m0.3 1h0m0.1-2.5h0m0.6 0.9h0m0.1 2.4h0m0.1 1.3h0m0-5.4h0m0.3 4.1h0m0.1-2.7h0m0 1.8h0m0-3.1h0m0.1 4.7h0m0.2-4.7h0m0.1 1h0m0.2 0.3h0m0.6 2.1h0m0.1 0h0m0.1-0.8h0m0 2.6h0m0.2-0.6h0m0.7-3.1h0m0.1 2h0m0.2-1.9h0m0.5-1.4h0m0 5h0m0.1-3h0m0-0.4h0m0.1 0.8h0m0.3 1.8h0m0.1 0.3h0m0-3.6h0m0.2 3.6h0m0.5-2.5h0m0.3 2.1h0m0.5-0.8h0m0.2-1.3h0m0.2 0.9h0m0.3 0.8h0m0.5-2.8h0m0.9 2.9h0m0.7-2.3h0m0.1 3.2h0m0.5 0.4h0m1.1-3.4h0m0.1-1.8h0m0.1 0.1h0m0.7 4.2h0m0.1-4.3h0m0.7 5h0m0-0.1h0m0.4-0.4h0m0.1-1.6h0m0.1 1.5h0m1.2 0.4h0m0.5-4.2h0m0.1-1.3h0m0.1 1.7h0m0.4-1.6h0m0.4 2.6h0m0.1-1.6h0m0.4 2.1h0m0.2-1.1h0m0.1-0.5h0m0.6 2.5h0m0.1-3.9h0m0.1 0h0m0.2 1.2h0m0.2 1.6h0m0.5-2h0m0.2 0.2h0m0.2-0.8h0m0 0.8h0m2.3-0.3h0m0 3.8h0m0.1-0.8h0m0.1 2.1h0m0.7-3.3h0m0.5-2.1h0m0.4 1.2h0m0.2-0.6h0m0.2 2.3h0m0.5 2h0m0.8-4.5h0m0.1 1.1h0m0.2-0.7h0m2.8 0.6h0m0.3 3.7h0m0-1h0m0.2-3.2h0m2.1 3.7h0m0.9-0.7h0m1.2-4.2h0m0.1 5.6h0m0.2-5h0m1.5 1.5h0m0.4-2h0m0.9 3.1h0m0.1 2.1h0m0.4-1.5h0m2.5 0.2h0m2 1.4h0m2.7-0.3h0m0.2-4.2h0m0.3 0.2h0m0.7-1.1h0m0.7 1.1h0m1.4 0.3h0m2.6 0.5h0m0.5 1.8h0m0.1-3.5h0m2 2h0m2.6 1.9h0m0.2-2.2h0m0.2 3.4h0m0.1-5.5h0m1.1 3.6h0m1.2 1.9h0m0.1-2h0m0.6-0.3h0m0.5 1.2h0m1-2.4h0m1.4-1.7h0m0 0.6h0m1.1-0.9h0m1.1 1h0m0.6 0.5h0m2.6-0.6h0m0.8-0.1h0m0 4.6h0m1.5-1.9h0m0.4-0.8h0m1.7 1.3h0m0.7 1.3h0m0.3-2.9h0m0.6 2.5h0m1.2-2.9h0m2.8-0.5h0m1.4 0.1h0m2 2.1h0m1.5-2.5h0m2.1 0.9h0m2.6 3.4h0m2.5-2.4h0m2.9-2.3h0m2.5 2.2h0m15.3-1.6h0m-115.4 7.3h0m0.5-0.4h0m0.6 0.2h0m0.1 0.6h0m0 1h0m0.2 0.5h0m0.7-3.4h0m0.2-0.1h0m0.1-0.7h0m0.6 1.8h0m0.2-0.8h0m0.8 1.1h0m0-0.7h0m0.1 2h0m0.4-0.9h0m0 2.7h0m0.1-5.4h0m0.1 1.3h0m0 4.4h0m0.1-0.4h0m0.3-1h0m0-2.9h0m0.2-0.3h0m0 3.3h0m0-1.7h0m0.7-0.5h0m0.1 1.4h0m0.1-3h0m0.4 2.6h0m0-2.1h0m0.1 0.5h0m0 2.1h0m0.7-0.8h0m0.2-2.2h0m0.1 2.2h0m0.1-0.1h0m0.4 0.4h0m0.1-1.6h0m0.1-0.5h0m0 0h0m0.1 1.7h0m0.4 2.8h0m1.1-2.6h0m0.1-0.7h0m0.4 1.6h0m0-1.7h0m0.7 1.1h0m0.2-2.4h0m0.3-0.9h0m0.3 0.7h0m0.5 0.3h0m0.1-0.9h0m0.6-0.2h0m0.3 5.7h0m0.5-0.8h0m2-1.8h0m2.5-0.8h0m1.4 1.2h0m3.3-3.2h0m0.2 1.8h0m2.1 3.4h0m1.3-5.1h0m1 3.1h0m3.8-2.4h0m2.8 2.9h0m0.3-0.2h0m0.6 1.2h0m2.2-3.1h0m2.4 3.6h0m1.9-3.5h0m0.2 2.3h0m0.5-0.6h0m0.6-3.2h0m0.3 2.8h0m0.7 0.3h0m2.9-0.8h0m1.5 2.7h0m1.5-0.6h0m0.1-3.2h0m0.4 1.9h0m1.2 1.4h0m2.1-2.8h0m1-1.9h0m0.1 3.5h0m1.8-1.6h0m0.2-1.5h0m0.8-0.1h0m0 2.1h0m1.3-2.3h0m0.9 1.4h0m0.4-0.5h0m1.2 4.2h0m0.6-0.8h0m0.1-0.1h0m0.6-2.8h0m0 2.5h0m0.7-2.1h0m0.2-2.1h0m0.6 3.5h0m0.2 0.6h0m1.2 0.1h0m0.5-1.4h0m0.9 2.8h0m0.7-2.5h0m0.3 2.5h0m0.3-0.9h0m1.6-1.1h0m2.5-0.8h0m0.3 1.6h0m1.1 0.9h0m0.7-0.4h0m0.3-0.3h0m1.2-2.6h0m0.9 1h0m0.2-3.1h0m0.6 1.2h0m1.1 2.1h0m1.6 2.2h0m0.8-0.9h0m0.7-0.6h0m2.1-0.1h0m2.5-1.2h0m4.2 2.7h0m3-1.8h0m3.5-2.7h0m2.7 2.1h0m19.7 1.5h0m-119.3 3.9h0m0-1.3h0m0.9 0.1h0m2.2-0.9h0m0.2 2.5h0m1.6-1.1h0m1.1-1.3h0m0.9 1.2h0m0.1-1.1h0m0.4-0.2h0m0.4 2.1h0m0.5-0.3h0m0.4 0h0m0.6-1.2h0m0.4-0.3h0m0.5-0.7h0m0.3 4.4h0m0.4-2.4h0m1.7 0.2h0m2.7 3.2h0m0.2-1.1h0m1.6-0.6h0m4.7-2.4h0m8.7 0h0m2.1-0.6h0m2.6 0.2h0m3.3 4.5h0m1.3-0.2h0m2-0.1h0m0.2 0.7h0m0.1-5.8h0m3.2 5.4h0m1.3-0.2h0m0.6-2.9h0m0.5-0.9h0m2.5 2.9h0m0.8-3.6h0m2.3 2.1h0m1.6 2.7h0m0.9-3h0m0.4-0.7h0m0.1 2.5h0m1.9-2.2h0m0.3 2.7h0m1.9-1.7h0m0.5 1.7h0m0.1-4.3h0m1.8 2.8h0m0.1 0.2h0m1.9 1.4h0m0.7 0.5h0m0.1-3.2h0m0.2 3h0m0.1-0.9h0m0.9-1.8h0m1 1.8h0m1.1 1.3h0m0.5-4.6h0m1.1 3.6h0m0.9-3.6h0m0 3.7h0m1.1-0.5h0m0 1.4h0m1.2-3h0m0.9-0.7h0m0.2-1.8h0m2.7 2.3h0m1.1-1.7h0m1.8 5.1h0m1.6-3.5h0m0.1 2.8h0m1.3 0.4h0m0.1 0.1h0m6.7-0.6h0m0.2-3.1h0m2.3 0.7h0m0.4 1.1h0m-91.1 8.1h0m5.4-1.3h0m1.9-0.3h0m0.8 0h0m1.8 0.7h0m1.1-4.6h0m2.1 2.9h0m1 0.4h0m1-3h0m0.4 1h0m1.5-1.2h0m0.1 5.3h0m0.6-2.1h0m1.5 0h0m0.5-1.3h0m3.2-1h0m5.7 3.4h0m2.7-0.4h0m0.2-2.8h0m1.7-0.1h0m0.8 2.2h0m1.9-0.5h0m0.9-2h0m0.1 1.9h0m0.1 2.8h0m0.6-5.2h0m2.1 2.5h0m0-2.6h0m0.7 4.8h0m0.9-2.8h0m2.5 0.8h0m0.6 1.9h0m0.6-3.6h0m0 3.2h0m2.8 0.6h0m1.9-1.3h0m0.2 1.3h0m0.9 0.2h0m0.4-2.1h0m0.2 1.2h0m0.8 0.3h0m1.8-1.8h0m1.3-0.7h0m0.4 2.3h0m0-3.1h0m3-1.2h0m0.6 5h0m0.9 0.1h0m0.2-4.4h0m1.5 1.9h0m1.7-0.9h0m0.1 1.1h0m1-1.5h0m2.3-0.9h0m1.2 1.4h0m0.2-1.7h0m0.7 4.1h0m0.9-4.3h0m1.4 0h0m1.9 4.9h0m0.2-3.6h0m1.6 2.5h0m3.9-2.8h0m0.8-0.7h0m1-0.6h0m0.7 1h0m2.1 1.9h0m2.6 1.1h0m4.7-1.8h0m0.4 0.5h0m6.3 0.6h0m2.6 0.6h0m2.2-1.1h0m9.9 2.2h0m-109.1 4.1h0m1.8 1.4h0m1 0.4h0m1.2-4.2h0m1.4 2.4h0m3.4-0.2h0m0.4 1.3h0m0.1 1.4h0m2-2.1h0m0.2-2.6h0m0-0.8h0m0.8 2.4h0m2 0.2h0m4 2.1h0m3.9-0.3h0m1.1-1.4h0m0.4 2.2h0m1.6-3.5h0m1.8 1.2h0m0.8-2.4h0m0.6 3.1h0m1.9 0.8h0m0.3-4h0m0.2 3.5h0m2-2.6h0m1.3 3.6h0m0.9-4.9h0m0.3 2.5h0m0.3-0.1h0m0.5 3h0m0.5-2.3h0m1.6-2.7h0m2.8-0.5h0m0.4 2.2h0m0.3 2.2h0m0.5-2.8h0m0.2-1.6h0m0.4 0.2h0m0.9 4.6h0m2-3.5h0m0.2-0.6h0m3.5 3.2h0m0.5 0.4h0m1-3.7h0m1.3 0.4h0m0.5-0.2h0m0.3 3.5h0m0.3-0.3h0m0.2-0.8h0m0.9-3h0m0.9 5.1h0m1-4h0m0.8 0.4h0m0.5 3.3h0m1.1-0.1h0m0.9-4.1h0m1.6 0.6h0m0 1.9h0m0.5-2.1h0m1 4.1h0m1.1-1.5h0m0.5-2.4h0m1.4 0.4h0m0.4 3.2h0m0.7-4.2h0m0.6 0.4h0m0.8-0.2h0m1.3 0.8h0m1.4 2h0m4.3 0.7h0m1.3-3.7h0m6.6 4.6h0m1.4-1.3h0m1.5-0.1h0m3.4-2.2h0m8.4 0.1h0m5.4 3.3h0m2.8-1.2h0m6.8-4.1h0m1.6 5.3h0m-113.8 2.2h0m5.8-0.9h0m24.1 1.4h0m0.3 3.6h0m1-4.9h0m0.1 3h0m1.5-3.5h0m0.3 0.7h0m0.5 3.4h0m0.8 0.2h0m0.6-0.8h0m0.4-3.7h0m0.7 5h0m0 0h0m0.3-0.6h0m0.1-3.9h0m2 4.6h0m0.1-3.7h0m1 0.5h0m1.5 3h0m0.4-1.4h0m0.9-3.2h0m0.4 1h0m0.1-1.2h0m0.5 2.2h0m1 0.1h0m1.2 0h0m0.1 2.4h0m1.3-0.7h0m0.1-2.8h0m0.3 3.9h0m0.4 0.4h0m0.5-0.7h0m0.3-4.5h0m0.9-0.1h0m2.6 4.6h0m2.1-1.2h0m0.1-0.6h0m0.1 0.5h0m0.5-1.6h0m1.8 3.3h0m0.6-1.4h0m0.1-3.7h0m0.5 3.2h0m0-2.1h0m0.4 4.6h0m0.1-3.8h0m0.1-1.3h0m0 2.4h0m0.3-2.6h0m0.6 4.4h0m3.3 0.3h0m0.1-1.9h0m1.2 1.4h0m0.3-2.6h0m0.9 3.5h0m1.7-4.2h0m0.4 4.3h0m0.9-2.3h0m2.2-0.5h0m6.4 1.2h0m0.5-3.2h0m5.7 1.2h0m7.5 2.6h0m0-4.7h0m0.9 1.9h0m0.3 0.7h0m3.6-1.2h0m9.1 3h0m15.6-1.2h0m-111.5 3.4h0m8.6 4.9h0m3.2-5.1h0m1.5 5.2h0m4.2-4.1h0m1.1-1.5h0m2.3 3.5h0m0.5 0.2h0m0 0.6h0m1.7-0.8h0m0.1-3.6h0m0.9 0h0m2.2 5.2h0m0.7-4h0m0.3 0.1h0m0.4-0.3h0m2.8 2.4h0m0.1-2.9h0m0.7 1.6h0m0.2-1.2h0m1.6 0.6h0m0.9 0.8h0m0.1 0h0m1 1.8h0m2.5-3.9h0m0.3 2.9h0m0.5 0.5h0m2.1 0.7h0m0.1-2.7h0m0.5 0.7h0m0.9 1.6h0m0.3 1.6h0m0-3.4h0m1.8 2.2h0m0.9 1.2h0m0.3-5h0m0.1 1.5h0m0.2 3.2h0m0.1-4.5h0m0.5 1h0m1.7 4h0m0.3-3.3h0m0.4 2.9h0m3.2-5.1h0m0.3 2.3h0m0.1 1.7h0m0.8 1.3h0m0.3-0.6h0m1.6-0.6h0m0.9-2.2h0m0.1-1.4h0m1.4 3.6h0m0.1-3.1h0m2.5 0.1h0m4.2-1.1h0m1.1 5.3h0m3-3h0m11.7 1.7h0m1.6-3.8h0m0.6 5.3h0m2.3-4.5h0m2.4 2.4h0m0.2 1.6h0m10.4-3.5h0m0.7 0.2h0m0.8 1.7h0m2-0.1h0m-99.6 4.2h0m13.8 4h0m2.6-2.4h0m0.6-2.9h0m1.4 2.9h0m1.6-2h0m1.8-0.7h0m0.3 1.6h0m2.1 1.8h0m0.1-2.4h0m1.6 3.4h0m2 0.8h0m0.5-3.7h0m1.9 1.6h0m1.2 2.1h0m1.1-1.8h0m0.1-0.8h0m2.1 1.4h0m0.1-0.3h0m1-2.1h0m0.8-1.1h0m0.3 2.4h0m0.1-2.2h0m1 2h0m0.5 0.7h0m0.2-0.1h0m0.4-2.5h0m1.1-0.8h0m0.7-0.3h0m0.8 1.6h0m0.4-1.9h0m0.4 4.3h0m0 1.4h0m0.2-2.4h0m0.1-2.9h0m0 3.9h0m0.8-0.1h0m0.7 0.5h0m1-4.7h0m2.2 3.9h0m1.1 1.7h0m1.3-2.5h0m0.4 0.9h0m0.5-2.1h0m3.7 2.6h0m2.7 0.8h0m0.2-2.2h0m0.2 0.2h0m0.2-0.2h0m1.9-0.5h0m0.1 0.6h0m0.4-1.1h0m0.4-1.6h0m1 1.8h0m0.4 1.8h0m3.4-1h0m0.9 1.6h0m0.1-0.1h0m0.7 0.8h0m2.2-1.7h0m0.5-2.4h0m0.2-0.7h0m1.6 2.2h0m5.4 1h0m3.9-2.5h0m23.7-1.3h0m-84 6.5h0m1.2 3.9h0m3.9-3.2h0m0.6 0.7h0m0.4 1.4h0m1.8-3.1h0m0.1 1h0m0.6 2.4h0m0.6 1.8h0m0.2-2.7h0m0.4 3.1h0m0.3-3.3h0m0.7 1.3h0m0 2h0m0.3-2.6h0m0.6 2.1h0m0.5-0.8h0m1.7-3.2h0m0.3-0.6h0m0.7 3.5h0m0.6-3.8h0m0.9 1.8h0m0.7 0.2h0m0.2 2.4h0m0.2 0.2h0m0.1-3.3h0m1.5 1.2h0m0.9-1.4h0m1.4-1.1h0m0.8-0.1h0m0.6 5.3h0m0.2-0.4h0m0-5h0m0.6 4.1h0m0.9-0.1h0m0.3-4.1h0m0.6 5.3h0m0.6-4h0m1.3 0.6h0m0.7-0.3h0m1.1-1.3h0m0.7 4.2h0m1.2-3.5h0m0.6 1.1h0m0.8-1.3h0m1 2.8h0m0.6-0.6h0m1.3 0.1h0m2.9 0h0m0.3-2.4h0m0.2 4.5h0m0.3-4.9h0m2.5 5.3h0m0.9-5.2h0m2.7 4.9h0m0.1-4.5h0m11.5 2.8h0m4.4 0.5h0m5.9-2h0m4.7 2.2h0m1.7-2.8h0m4 1.9h0m5.6-0.7h0m6.5-1.7h0m11.2 4.7h0m1.8-3.6h0m19.3 0.8h0m2.2-3.1h0m2.7 3h0m7.4-1.3h0m-131.7 9h0m1.3-4h0m0.7 1.5h0m1.5-1.8h0m0.8 0.4h0m1.6 0h0m0.4 2.6h0m2.8 0.9h0m2-2.7h0m1.4 1.5h0m0.7-2.9h0m0.8 0.8h0m2.1 1.7h0m1.2 2.6h0m1.9-3.8h0m2.3-1.2h0m1.9 0.8h0m0.2-0.3h0m0.4-0.1h0m0.1 3.6h0m0.3-4.2h0m0.8 3.9h0m1.5 0.2h0m0.4-4.1h0m0.3 2.9h0m0.9 1.3h0m1.6-2.1h0m0.2 0.1h0m0.6 2.5h0m4 0.2h0m0.6-4.3h0m8 2.3h0m0.2-2.7h0m1.2-0.2h0m2.6 3.5h0m4.6 1.7h0m1.3-0.5h0m0.5-2.3h0m3.5 2.3h0m0.6-3.9h0m5.3 0.2h0m15.4 3.1h0m6.2 1.7h0m38.6-5.2h0m1 2.6h0m0.4 1h0m1.7 1.5h0m-116.1 0.3h0m1.8 1.8h0m2.4 0.6h0m2.8 0.5h0m1.1 1.5h0m1.9-3.5h0m1.2 2.6h0m0.1-0.7h0m0.4-2.6h0m4.4 0.4h0m1.6 2.6h0m19.7-2.7h0m3.1 4.8h0m0.4-1.5h0m5.7 0.1h0m0.5 2h0m19.1-5.8h0m5.8 3.5h0m10.9 0.7h0m-82.6 2h0m3.4 1.7h0m0.6-0.6h0m0.2 0.9h0m1.2-1.9h0m2.3 1.7h0m5.3 1.1h0m4.2 1.5h0m0.4-3.5h0m0.2 3.9h0m1.4-4.7h0m1.6 3.6h0m1.5-2.2h0m2.7 3.9h0m2.7-4.7h0m0.6 4.5h0m3.6-3.4h0m5.1-1.6h0m35.8-0.6h0m-79.4 11.9h0m8.7-2.8h0m4.1 2.8h0m0.1-0.3h0m1.3-2.1h0m1.9-0.4h0m1.1 1.4h0m1.4-3.6h0m0.7 1.2h0m0.2 3h0m0.3 0.9h0m0.1-4h0m1.2-1.4h0m0.7 2.1h0m1.8-1.6h0m1.6 4.3h0m1.2-1.2h0m2.3 1.7h0m1.2-4h0m0.4 2h0m3.6 1.2h0m5.6-3.4h0m11.8 1h0m3.4-0.1h0m1.5 1.4h0m3.8-2.8h0m6.6 3.2h0m10.7-1.9h0m21.3 0.2h0m37.4-0.3h0m-135.8 4.4h0m5.5 5.1h0m0.4-3.9h0m1.9 3.8h0m1.8 0.1h0m2.1-2h0m0.4-1.2h0m2.4 3.2h0m0.8-0.8h0m0.4-2.8h0m1.8 0.8h0m0.6 2.3h0m0-0.8h0m0.5-3.2h0m2 2.1h0m0.3-1.2h0m1.1 1.1h0m0.5-1.2h0m0.1-1h0m0.4-0.1h0m0.3 4.2h0m0.6 0.5h0m0.2-2.3h0m0.8 0.9h0m4.3-2.4h0m0.4 3.3h0m0-5h0m0.6 0.6h0m5-0.5h0m2.4 2.7h0m1.9 1.3h0m0.1-0.5h0m0.5 1.8h0m74.2-5.1h0m-122.4 7.9h0m3.7 1.6h0m1.2-1h0m0.9-1.5h0m0.1 4.4h0m0.9-2.6h0m2.2-1.9h0m0.7 2.1h0m1.3-3.4h0m0.1 3.7h0m0.1-2.7h0m1.5-0.2h0m0.2-0.9h0m0.4 5.2h0m0-0.2h0m1.7-0.4h0m0.6-1.9h0m0.8-1.2h0m0-0.6h0m0.4 0.9h0m0.4-0.4h0m0 2.7h0m0.8 1.3h0m1.3-0.6h0m0.8-0.8h0m0.3 1.8h0m0.9-5.2h0m0.2 0.3h0m0.7 5h0m0.1-1.1h0m1.2-0.4h0m0.1-3.5h0m2 2.9h0m1.7-3h0m0.8 3.7h0m0.5-0.5h0m3.3-1.4h0m1.3 0h0m1 0.3h0m0.2-0.6h0m0.1 2h0m1.6-1.4h0m0.6-2.2h0m1.5 2.4h0m1.4 1.8h0m0.1-1.9h0m0.1-2.2h0m1.7 4.9h0m0.4-2.1h0m1.1 0.7h0m0.2-0.4h0m0.7 1.5h0m0.1-1.1h0m0.2-3.5h0m2.3 1.6h0m0.2 0.2h0m1.3 1.1h0m20.9 1.2h0m21.8-3.3h0m-89.6 7.8h0m0.1-2.4h0m2.4-0.2h0m0.3 1.8h0m1.2 2.8h0m3.6-5.5h0m0.3 5.1h0m2-3.8h0m0.9 4.6h0m2.6-2.9h0m0.8-2h0m1.2 2h0m0.1 2.6h0m0.8-4.6h0m1.7-0.2h0m0.2 2.7h0m2 2.2h0m0.2-5.2h0m0.5 2.7h0m0.7-1.7h0m0.3 1.9h0m0.5-1.8h0m3.8 4.1h0m1.3-2.8h0m0.5 2.4h0m0.3-2.4h0m0.1-1.1h0m0 1.4h0m0.3-1.4h0m2.5 1.6h0m0.4 2.2h0m0.7-0.1h0m1.1-5.1h0m1.5 1.4h0m1 0.9h0m0.3-1.3h0m1.3 1.6h0m0.6-2.8h0m1 0.6h0m0.8 4.1h0m0.1-1.9h0m0.7-2.3h0m0.2 3.7h0m2.8 0.6h0m0.4-2.2h0m0.5 3h0m-43.5 2.5h0m3.3-1.5h0m1.2 2.2h0m0.2 1.5h0m1.5-1.4h0m0.3-1.8h0m1.6 4.1h0m0.1-3.6h0m0.4 3.1h0m1.2-4h0m0.1 3h0m0.5 1.9h0m0.1-5.7h0m0.9 3.1h0m0.2-0.2h0m1-0.3h0m0-1.5h0m0.4-0.6h0m0.1 1.6h0m0.2 0.9h0m1-0.6h0m0.8-0.9h0m2.4 3.6h0m0.8-3h0m0.3-0.7h0m0.1 4.1h0m0.3-4.9h0m1.3 4.2h0m1.8 0.6h0m1.1-0.7h0m0.8 1h0m0.7-4.5h0m0.1 0.1h0m0.3-0.4h0m1.2-0.4h0m1.4 4.3h0m1.7-3.9h0m0.1 0.5h0m0.2 3.5h0m0.2-1h0m0.4 0.6h0m0.9-1.9h0m0-0.8h0m0.3 3h0m0.4-3.2h0m1.4 2.1h0m0.1-3.6h0m1 5.7h0m0.4-1.9h0m0-3.9h0m0.4 2.8h0m1.3 1h0m1-0.2h0m0.4-3.6h0m0.3 1.2h0m2.9-0.7h0m-33.8 8.3h0m3.4-1.5h0m2.3 0.4h0m0.6-0.9h0m7.1 4.7h0m0.2-3.9h0m3.5 1.7h0m2.2-0.4h0m1.2-2.6h0m1.4 4.9h0m0.7-5.2h0m1.2 0.3h0m0.3 5h0m2-3.8h0m0.4 0.5h0m-21 6.5h0m0.2-0.8h0m6.1 0.1h0m0.8-0.5h0m1.5-0.9h0m7.2 4.6h0"/>
<path id="f40" d="M882.9 236.4h0m-18.7 24.4h0m50.5 2.6h0m-64 3.6h0m38.6-2.1h0m10.7 14.6h0m20.2 7h0m13.2 8.8h0m-35.4 12.7h0m2 9.6h0m1.7-1.2h0m-9.3 12.7h0m10 5.2h0m24.6-2.6h0m18.4 3.7h0m-84.5 0.9h0m33.8 5.1h0m-110.6 9.4h0m0.3 2.5h0m0-1.4h0m0.3-2.1h0m0.6 4h0m1-0.1h0m0.1-1.4h0m0.5 0.4h0m0.2-1h0m0.4-3.3h0m0.2 4.6h0m0.2 0.2h0m0.1-2.8h0m0.1 1.1h0m0-0.9h0m0.4 2.5h0m0-1.7h0m0 0.8h0m0.5 0.8h0m0.4-2h0m0.3 2.7h0m1.4-0.3h0m0.3-0.5h0m0.1 0.5h0m0.9-0.6h0m1.2 0.3h0m0-0.2h0m0.1 0.7h0m0.2 0.3h0m0.3-0.9h0m0.4 0.9h0m2-1.5h0m47.2 0.4h0m0.6 0.9h0m0.5 0.1h0m0.2-0.3h0m0.2 0.1h0m-64.6 2.3h0m2.5-1.9h0m0.9 5.1h0m0.2 0.3h0m0-5.1h0m0.1 3.3h0m0.3-0.2h0m0-0.8h0m0.3 2.2h0m0-1.3h0m0.3-0.6h0m0.1 1.9h0m0.1-3.7h0m0.1 1.7h0m0.1-2.1h0m0.1 1.9h0m0.2 1.8h0m0-0.5h0m0.1-0.8h0m0.3 0.6h0m0.1-2.1h0m0.3 1.8h0m0.2 1.5h0m0.7 1.1h0m0.2-4.2h0m0.1 1.8h0m0.1 0.4h0m0.1 1.3h0m0-1.5h0m0-2.8h0m0.1-0.1h0m0.2 3.4h0m0.1 0.9h0m0.5-0.2h0m0 0.5h0m0.4-1.8h0m0 0.9h0m0.1-0.8h0m0.3-0.1h0m0-0.1h0m0.1-0.7h0m0.1-1.3h0m0.2-0.8h0m0.1 1h0m0-0.7h0m0-0.9h0m0 4.6h0m0-2.2h0m0.2 3.3h0m0.3-1h0m0.1-4.5h0m0.1 1.2h0m0.1 3.8h0m0.1-3.5h0m0.2 0.2h0m0 0.3h0m0.3 1.9h0m0.4 0.9h0m0.2-3.8h0m0.1-0.4h0m0.3 1.7h0m0.2-1.8h0m0 2.4h0m0.1-0.7h0m0 2.8h0m0.2-3.4h0m0.2 0.9h0m0.1-1.6h0m1-0.3h0m0.4 1.8h0m0.8 2.8h0m0.5-3.2h0m0.6-0.7h0m42.1 3.3h0m0.6-0.9h0m1-0.6h0m0.4 0.6h0m1.8-0.3h0m0.7-1.2h0m0.6 0.2h0m1.1-2.6h0m0.2 5.2h0m0.1-4.5h0m0.4-0.4h0m0.1 0.4h0m0.2 2h0m0-2.9h0m0 2.3h0m0.1 0.3h0m0.7 2.5h0m0.9-4.7h0m44.1 1.5h0m-109.4 4.8h0m3.2 0.1h0m0.5-0.2h0m0.5 1.8h0m0.8 1.3h0m0.1-1.7h0m0.8-0.9h0m2-0.5h0m0.1-0.4h0m0.4 3.5h0m0.5-2.7h0m2.7-0.7h0m0.9 3.7h0m0.1-0.9h0m0.3 0.4h0m0-1.5h0m0.6-1.3h0m1.5 1.5h0m1.5 1.8h0m1.6 0.9h0m26.7-0.6h0m2.1-2h0m0.3-0.7h0m1.4 3.2h0m0.4-0.3h0m0.2 1.2h0m0.1-3.6h0m0.7 3h0m1.7-0.6h0m0.3 0.6h0m0.4-1h0m0.4-3h0m0.1 4.6h0m0-2.3h0m0.6 2h0m1.5-1.2h0m0.2-4.1h0m0.1 3.9h0m0.1-0.8h0m0.9 1.8h0m0.1 1h0m0.5-0.1h0m1-5.2h0m0.4 3.1h0m2 1.3h0m0.4-0.8h0m0.5 1.2h0m0.2 0.2h0m1.6 0h0m1.7-0.9h0m0.9 1.1h0m0-0.2h0m-51.1 0.9h0m3.6 0.2h0m1.4-0.3h0m25 2.6h0m1.5-2.4h0m0.3 4.8h0m2-1h0m1.3-4h0m0.5 3.4h0m0-3h0m0.7-0.5h0m0.3 3.4h0m0.3 1.4h0m0.2-2.5h0m0.7 0.2h0m0.3-2h0m0 2.6h0m0.3 0.9h0m0-2.8h0m0.3 1.9h0m0.2-2.3h0m0.5 4h0m0 0.8h0m0.2-4h0m0.2 2.3h0m0.4 0.2h0m0-0.4h0m0.1-0.2h0m0.1 1.6h0m0 0.2h0m0.1-1.7h0m0 0.6h0m0.1-3.8h0m0.1 3.3h0m0.2-0.3h0m0.8 0.7h0m0.2 1h0m0.3-1.4h0m0.3-1.8h0m0 1.7h0m0-1.9h0m0.2 3.2h0m0.4-0.8h0m0.2-1h0m0 0.9h0m0.1-4.3h0m0 5.3h0m0.1-4.7h0m0.1 2h0m0.6-2.4h0m0.2 2.6h0m0.1 2.6h0m0.1-0.6h0m0.5-4.7h0m0.2 1.2h0m0.2-0.9h0m0.8 4.4h0m0.7-2h0m1.5-0.7h0m0.5 2.7h0m0.4-3h0m0.7 0h0m0.6-0.1h0m0.3-0.4h0m-22 6h0m3 0.4h0m0.2 3.5h0m0.3-2.6h0m0.3 3h0m0-0.9h0m0.2-2.2h0m0.7 1.1h0m0.8-3.4h0m1 3.6h0m0.1-2.4h0m0 0.7h0m0-1.9h0m0.1 1.8h0m0.2-1.2h0m0.2 0.8h0m0.2 3.1h0m0-2.1h0m0.4-0.4h0m0.1 0.4h0m0.4-0.7h0m0.5 0.9h0m0.1-2.1h0m0.2 3.5h0m0.2-4.3h0m0 1.1h0m0.3 0h0m0.1 1.7h0m0.5 1h0m0.5-2.6h0m0 2.5h0m0-1.2h0m0.3 0.7h0m0.3-2.7h0m0.3 3.6h0m0.1 1.8h0m0.1-1.3h0m0.2-0.8h0m0 2.1h0m0.1-1.8h0m0.9-3.2h0m0.1 4.2h0m0.1-4.3h0m0.3-0.3h0m0.1 4.4h0m0-4.7h0m0 1.1h0m0.1 1.4h0m0.1 0.4h0m0.1-1.6h0m0 0.1h0m0.1-0.8h0m0.2 3.1h0m0.1-3h0m0 0.9h0m0.3-0.9h0m0.1 2.9h0m0.3-0.6h0m0.2-1.1h0m0.2-0.4h0m1 0.3h0m1.6 0.1h0m0.8 0.3h0m1.1 3.6h0m0.7-5.9h0m0.2 4.6h0m-15.7 4.2h0m0.2-1.7h0m0.7 0.5h0m0.9-1.4h0m0.9 0.1h0m0.8 3.3h0m2.3-2.9h0m0.1 1.6h0m0.3-0.4h0m1 0.2h0m0.7 0.1h0m1 0.8h0m0-0.6h0m1.7-2.1h0m0.5-0.2h0m0.7 1.4h0m87.1 3.2h0m-96.3 1.6h0m3.7 1.1h0m65.8 2.2h0m-82.2 13.4h0m1-1.8h0m1.4-2.2h0m1.2 4.4h0m0.5-0.7h0m0.2-0.4h0m0.9-0.2h0m0.1-2.2h0m0.3 2.7h0m0.4 0.5h0m0.2-2.4h0m0-1.6h0m0.3 2.3h0m0.1-2.1h0m0.2 1h0m0 0.3h0m0-0.6h0m0 3.6h0m0.5-4h0m0.2 4.2h0m0.1-4.9h0m0.2 2.6h0m0.1 1.9h0m0.3-1.5h0m0.1 1.7h0m0.3-0.7h0m0.2 0.5h0m0.1-0.2h0m0.1 0.1h0m0-0.3h0m0.3 0.6h0m0.2-1.5h0m0.1 1.2h0m0 0.3h0m0.1-2.7h0m0.6 2.7h0m1.4-3.7h0m0.2 2.6h0m0.5 0.1h0m0.1 0.7h0m2.1-1.9h0m0.1-0.3h0m-11.8 3.9h0m0.5 0.2h0m1.6 0.4h0m0.1-0.8h0m0.9 2.6h0m0.7-1.5h0m0.1-1.9h0m0.1 2.6h0m0.5-2.4h0m0 3h0m0.1-0.2h0m0.4-2.7h0m0.1 0h0m0.4-0.3h0m0.2 2.3h0m0.2 0.6h0m0.1-1.4h0m0.4-0.5h0m0.1 1.8h0m0-1.5h0m0.1-0.3h0m0.2 0.8h0m0.5 0.4h0m0.4-1.9h0m0.3 2.1h0m1.1-2h0m0.2 0.9h0m0.3 0.1h0m40.5 1.2h0m23.3-1.7h0m-10.1 11.6h0m27.8 38.7h0"/>
<path id="f11" d="M824.7 277.4h0m18.4 4.1h0m-8 3.2h0m0.7-1.9h0m1.5 2.8h0m5.1-3.4h0m-0.4 8.7h0m2.6-2.4h0m0.7 5.5h0m5.1-0.2h0m48.2 36.5h0m0.1 1.4h0m1 3h0m2.4-1.1h0m6.3 1.4h0m17.1-3.6h0m10.7 3.5h0m0.9-0.1h0m9.8 0.8h0m-73.9 6.4h0m2.8-5.6h0m16.1 2.5h0m1.3-1.4h0m1.2 2.8h0m0.1-3.9h0m3.9 4h0m8-3.9h0m1 1.1h0m2.5 2.4h0m0.7-3.2h0m9.1 1.9h0m3.2 3.1h0m-21.4 3.5h0m2.8 2h0m1.7-1.3h0m2.3-3.4h0m2.2 3.7h0m0.1-2.4h0m3.2 1.9h0m13.5 1.1h0m24 0.6h0m2.5-1.1h0m-72.5 1.7h0m9.4 5.7h0m7.4-4.6h0m1.2 4h0m2.3-1.6h0m0.8-1.7h0m0.9 3.8h0m1.7-4.6h0m2.4-0.1h0m0.4-0.6h0m0.5 5.1h0m1-4.5h0m0.1 4.5h0m3.6-4.9h0m1.2 0h0m0.2-0.1h0m15.2 4.8h0m0.3-4h0m0.4-1.2h0m1.6 5.1h0m2.7-3.4h0m0.4 4.2h0m3.9-1.2h0m1.6-0.3h0m1.5-0.4h0m1 1.8h0m0.3-3.3h0m0.3 1.6h0m9.2 0.2h0m0.7 1.3h0m4.5-1.1h0m4.1-0.9h0m-81.9 6.1h0m7.8 1.6h0m11.1 0h0m2.1-0.5h0m1.8-1h0m0.1 0.2h0m3.1-1.5h0m6.4-2.2h0m0.2 4.4h0m0.4-1.8h0m3.5 2.3h0m2.2-1.6h0m2.2 2.2h0m12.4-3.4h0m5.2 1.3h0m0.8-2.7h0m0 3.9h0m1.9-4.8h0m0.7 4.5h0m0.2 0.9h0m1.5-2.9h0m3.3 3h0m0.5-5.1h0m0.7 1.6h0m2.5 3h0m0 0.1h0m3-1.6h0m0.3-2h0m0.3 3.4h0m0.3-2.5h0m1.9-0.7h0m6.8 3.8h0m2-3.8h0m4.7 2.4h0m7.4 0.3h0m-96.6 4h0m7.7-2.2h0m0.7 2.8h0m3.6 0.3h0m2.3-3.2h0m0 2.7h0m0.6 1.9h0m0.2-4.4h0m3.9 2.5h0m0.9-0.9h0m1 3.1h0m0.2 0.7h0m2-4h0m0.9 0.1h0m1.4-0.7h0m6.2-1.1h0m6.2 5.6h0m5.4-1h0m1.3 0.3h0m2.5-4h0m6.8 1.6h0m2.5 1.6h0m3.6 0.2h0m2-2.5h0m0.8 0.6h0m3.2 2.4h0m4.3-2.1h0m4.5 2.5h0m2.4-0.1h0m0.5-2.1h0m4.3 1.1h0m4.1-0.2h0m16.1 0.8h0m-92.7 6h0m1.8 0.1h0m1.8-0.5h0m1.3-2.4h0m0.5 2.7h0m0.1 0.5h0m3.4 0.4h0m1-5.6h0m5.8 1h0m0.1-0.8h0m3.5 1.9h0m3.8-0.1h0m2.3-1.3h0m8.7 2.8h0m1.8 1h0m2.3-0.1h0m2.3 0.4h0m3.1 0.7h0m1.8-3.3h0m4.8 2.7h0m0.5-2.8h0m0.1 3.6h0m4.3-0.8h0m2.6-4h0m0-0.8h0m0.4 2.6h0m0.9 0.8h0m1 2.1h0m2.4-0.5h0m1.4 0.3h0m4.3-2.7h0m10.3-0.1h0m5.5 2.2h0m1.2 0.1h0m5.4-0.8h0m-101.1 2.5h0m8.4 2.1h0m1.5 2.9h0m1.8-1.6h0m1.2-3h0m1.3 0.7h0m7 2h0m0.9-1.7h0m2.4 0.2h0m2.2 3h0m0.5-4.5h0m0.1 0.5h0m0-0.1h0m1.5-1.2h0m0.1 3.6h0m0.7 2.2h0m0.1-0.9h0m1.6 0.7h0m4.8-3.8h0m0.2-1.3h0m1 3.2h0m1.6 1.8h0m1.6-0.3h0m3.2-5.1h0m0.4 3h0m0.4 0.7h0m1.5-0.9h0m0.6 3h0m0.7-2.3h0m0.4-0.5h0m0.2 1.3h0m1.6 0.5h0m2.2 0h0m0.1-0.4h0m1.6-3.1h0m0.5 4.2h0m2.8-4.3h0m1.8-0.4h0m0.4 2.8h0m1.3-2.1h0m5.9 1.9h0m0.4-2.8h0m3 5.2h0m0.4-5.4h0m1.1 2.7h0m3-1h0m1.8-2.1h0m0.9 0h0m2.4 2.7h0m2 1.3h0m1.2 1.8h0m1.7-4.5h0m7.4 0.9h0m1.1-1.8h0m8.8-0.2h0m7.2 5.2h0m-115.4 6.3h0m6.2-4h0m4 4.1h0m2.8-4.7h0m0.2-0.7h0m4.1 5h0m7.3-1h0m1.7 0.9h0m1.7-3.4h0m0.6 3.2h0m2.4-4.4h0m2.9 3.4h0m0.7 1.1h0m0.1-4.8h0m5.5 5.3h0m1.2-5.6h0m0 0.2h0m1.9 5.5h0m1.5-2.3h0m3.5-2.2h0m0.6 1.5h0m1.2 0.2h0m1.6-1.7h0m2.4 1h0m3.1-0.9h0m4.1 1.4h0m15.4-0.5h0m4.2 0.9h0m0.2 1.1h0m0 0.7h0m0.3-3.5h0m0.2 3.2h0m2-2.3h0m0.8-2.3h0m3.7 0h0m0.4-0.1h0m6.2 5h0m3.4-3.4h0m1.2 3.2h0m3-2.9h0m4.4-0.7h0m3 4.4h0m0.1-4.8h0m-110.4 7.2h0m4.3-1.8h0m2.2 5.3h0m1-1.5h0m1.3 1h0m1.2 0.4h0m3.2-0.3h0m3.4-0.6h0m1.5-3.1h0m0.1 2.9h0m0.4-3.4h0m0.3 1.7h0m0.3 1.8h0m4.3-2.1h0m2.1-1.3h0m2.5 4.3h0m0.6-1.1h0m2.5-4.3h0m0.9 3.9h0m2-3.5h0m1 5h0m0.5-1.4h0m0.6 1.2h0m2.7-2.1h0m0.3-2.6h0m0.7 5.3h0m1.9-0.8h0m1 0.6h0m1.9-4.5h0m2.1 1.7h0m1.1 2.7h0m0.5-1.6h0m1.8-0.4h0m0.5-2.5h0m0.6 1.6h0m2.4-2h0m5.1 5.3h0m1.5-2.2h0m0-1h0m1.8 2.5h0m0.2-3.4h0m0-0.8h0m0.3 3.6h0m2.1-0.7h0m1.4 0.9h0m5.3-3.1h0m1.4 0.8h0m0.5-1.4h0m2.8-1.1h0m1.1 3.8h0m0.3-2.6h0m0.5 2.7h0m5.9-1.4h0m0.1-1.3h0m0.1 2h0m0.7-1h0m0.2-1.3h0m0.2 0.3h0m2.1-0.5h0m8.1 3.5h0m2.1 1.8h0m3.2-2.1h0m0.4-3.6h0m2.1 2.8h0m2.4-1.8h0m6.3-0.3h0m1.4 2.5h0m0.8-3.5h0m1.4 4.6h0m1-2.5h0m-113.1 5.2h0m0.5 3.9h0m5.4-0.3h0m2 0.9h0m0.3-2.7h0m1.3-1.3h0m3.2-1.5h0m0.9 3h0m4.9 1.3h0m3-2.2h0m6.9-2.4h0m1.5 3.7h0m0.9-0.8h0m4.3 0.1h0m1 1.7h0m1.8-2.6h0m0.3 0.6h0m0.6-0.5h0m1.5 3.1h0m4.1-2.2h0m2.7 0.7h0m1.3 0.5h0m1.1-3.4h0m1.3 3.9h0m0.3-3.3h0m0.7 1.4h0m0.7-1.9h0m0.5 2.1h0m1.7 0h0m2.9-2.6h0m0.5 0.4h0m1.8 2h0m1-0.8h0m2.2 1.2h0m3.2-0.2h0m4.7-2.9h0m0 4.1h0m1-2.8h0m0.4 3.3h0m2.6-4.7h0m5.4 3h0m1.2 0.1h0m1.8 0.4h0m0.8-0.6h0m2.9-0.1h0m11.2-1.6h0m0.2 3.5h0m6-4.2h0m0 2.7h0m1.1 1.5h0m1.7 0.6h0m-125.4 4.8h0m4.7 1.1h0m0.1-0.6h0m1.6 0.8h0m12.2-1.5h0m2.5-2.1h0m2.4 3h0m1.6-1.9h0m3.6 2.4h0m0.7-1.4h0m2-0.2h0m2.3 1.4h0m1.4-0.5h0m1.4-2.2h0m2.2 1.5h0m0.5-3.4h0m1.1 0.7h0m1 0.8h0m0.2 0.2h0m0.7 3.3h0m1.4-3.2h0m1.2 0.6h0m1.2-0.4h0m0.7 1.7h0m5.3-4h0m2 3.7h0m2.2 1.6h0m0.6-2.9h0m2.8-2.1h0m1.5 3.4h0m3.8-0.4h0m0.5 1.9h0m4.9-1.8h0m3.3 0.9h0m0.6-0.1h0m1.3-3.2h0m1.5-0.2h0m2.1 1.7h0m3.1 1.6h0m1.7-0.3h0m0.2-2.4h0m0.8 1.5h0m0.5 0h0m5 2.8h0m1.6-1.5h0m0.4 0.4h0m1.4-3.7h0m4.3-0.4h0m1.7 3h0m2.2 0.1h0m8.6-3.3h0m3.5 2.6h0m1.9-2.7h0m6.7 5h0m-125.2 5.3h0m6.8-4h0m1.1 5.2h0m0.1-5.2h0m0.7 2.8h0m0.2 0.1h0m1.7-0.8h0m0.4 1h0m1.1 0.7h0m0.4-0.8h0m1.5 0.3h0m0.2-0.6h0m1.1-3.1h0m3.1 2.1h0m1-0.6h0m6.6 0.8h0m4.1 0.6h0m4.2-3h0m0.1 4.2h0m7.7-0.1h0m2.3-0.1h0m0.6 1.6h0m0.1-0.5h0m1.7-0.6h0m0.4-3.5h0m0.9 0.4h0m0 3.6h0m1.2-3.5h0m0.2-1.1h0m3.7 0.4h0m3.2 4.5h0m1.2-0.7h0m0.3-3.9h0m0.9 0h0m1 4.6h0m2.7-2h0m3 1.4h0m0-4.3h0m0.8-0.6h0m0.4 4.1h0m0.2-1.7h0m3.1-1.4h0m0.9 4.2h0m1.9-3.6h0m1-0.1h0m5.1 2.5h0m0.6 0.9h0m4.2-4.7h0m0.1 2.8h0m0.1-1.8h0m0.3 4.6h0m3-5.7h0m0.4 2.5h0m3.6-1.7h0m1.7 3.3h0m15.5-0.5h0m5.6 1.3h0m3.2-4.9h0m-117.4 6h0m6.7 0.2h0m4.4 3.4h0m0.3-2.9h0m6.4 2.8h0m2.5 0.4h0m13.7 0.7h0m7.6-2.7h0m3.1-1.3h0m0.6 3.1h0m0 1.3h0m1.4-4.7h0m1.1 1.4h0m1.4 4h0m0.4-3.7h0m2.1 2h0m1-3.2h0m1.5 1.8h0m0.6 1.3h0m3.3-3.4h0m0.5 3.1h0m0.4-3h0m5 2h0m7.5-2.6h0m2.9 1.1h0m1.6 0.6h0m2.7-1.8h0m0.2 1.7h0m0.7 1.1h0m6.5 2.3h0m1.9-1.8h0m3.2-1.5h0m1.5 3.9h0m0.8-3h0m0.4-0.9h0m2.6 0.6h0m1.6 3.2h0m2.1 0.2h0m0.2-5.4h0m10.5 0.6h0m0.3 3.3h0m-97.2 3.3h0m25.3-1.3h0m2.2-0.3h0m4.5 2.8h0m0.2-0.5h0m1.4 1.2h0m2.1-1.7h0m0.6 3.5h0m2-3.1h0m1-1.8h0m0.3 3.5h0m3.5-2h0m0.2 2.9h0m3-2.1h0m0.8-0.2h0m3.7 1.5h0m0.1-2.7h0m1.6 4.2h0m4-1.3h0m1.3-0.5h0m3.6-2.7h0m3.7 4.9h0m2.6-3.7h0m0.9 0.6h0m3.2 0.2h0m0.2-0.2h0m3.6-2.4h0m0.7 4h0m4-0.5h0m6.5-0.1h0m1.7 1.1h0m5.7-1.7h0m0.8 0h0m0.6-1.9h0m0.7 4h0m1.6 0.6h0m0.2-4.6h0m-72.6 7h0m1.3 1h0m6.4-1.6h0m0.5 0h0m5.4 0h0m0.2-1.6h0m1.8 0.1h0m0.8 1.5h0m0.1 3.4h0m0.8-3.8h0m2.6 4h0m2.5 0h0m2-0.8h0m0.3-3.4h0m1.6 1.2h0m2.3 0h0m1 1.1h0m5.1-2.8h0m0.2 2.2h0m0.4 0.3h0m1.3-1.3h0m3.1 3.1h0m0-2h0m0.3-2.6h0m1.2 4.6h0m1.1-3.9h0m0.6 1.1h0m2.6-0.9h0m1.9 0.2h0m1.5 3.1h0m7.5 1h0m5.8-3.2h0m1.9-1.6h0m1.8 1.8h0m0.9-1.4h0m1 2h0m1.6-2.3h0m1.7 2.6h0m3.2-0.9h0m-76.6 5.9h0m0.1 1.3h0m7.4-3.5h0m1.8 1.8h0m3.1 3.2h0m0.2 0.5h0m0.4-0.8h0m5.6-4.8h0m1.8 1.6h0m0.2 1.5h0m12.2 1.7h0m0.9-0.1h0m2.3-3.4h0m0.1 3.6h0m0.2-3.2h0m3.1 3.4h0m0.2-3.6h0m0.7 3.2h0m1.1-0.2h0m0.8-3.3h0m0.3 0h0m2.4 1.6h0m3.2-0.7h0m0 1.4h0m1.7 1.9h0m0.5-4h0m13.6-0.8h0m-61.2 5.4h0m9.4 2.6h0m0.1 1.4h0m0.9-2.4h0m0.9-0.3h0m1.3 4.3h0m6.2 0.2h0m2.6-4.5h0m4.3-1.3h0m2.5 5.3h0m4.3-5.2h0m2.4 1.7h0m5.2 2.6h0m1.2-0.8h0m0.2 0.1h0m0.9-3.5h0m0.4-0.1h0m1.9 0.3h0m4.8 2.9h0m5-1h0m3.4 0.9h0m0.5 0.6h0m-56.1 6.1h0m3.1-2.3h0m3.7 2.6h0m4.4-1.5h0m3.1 1.7h0m0.9 1.3h0m3-1.7h0m0.8-2.8h0m3.6 1.8h0m0.2-2.4h0m1.5-0.7h0m2.8 3.6h0m8.7-0.1h0m2.9-1.9h0m8.6-0.7h0m-42.7 7.3h0m1.7-1.9h0m9.3 4.4h0m1.9-3.6h0m2.2-0.1h0m3.7 1.7h0m0.9-2.5h0m1.1 5.1h0m2.4-0.2h0m1.4-2.9h0m0.8 2.9h0m3.7-2.8h0m-15 9.4h0m7.9-3.1h0m3.7-1.8h0m8-0.3h0m-22.2 11.1h0m0.2-2.5h0m2.9-2.1h0m-2.2 5.1h0m7.2 0.3h0"/>
<path id="f21" d="M885.3 215.8h0m2.6-4.9h0m8 3.7h0m-14.2 4.7h0m0.3-0.3h0m1.4 1.5h0m0.6-0.1h0m1.2 1.2h0m2.5-2.1h0m0.5 2.3h0m0.2-1.9h0m1.2 2.1h0m1.1-3.7h0m0.9 0.1h0m3.7 1.3h0m1.8-0.9h0m1.3-0.1h0m0.3 0.6h0m1.2-1.1h0m-25.4 9.4h0m2.4-2h0m2.5 0.3h0m1.2-1h0m0.5-0.6h0m0.1 1.7h0m2.1-1.8h0m0.6 3.8h0m1.7-4.8h0m0.4 2.8h0m0.5-3.5h0m0.4 3.3h0m0.3-1.1h0m0.6-1.3h0m0.1 4.3h0m0.2-4.5h0m0.5 1.1h0m0.2-1h0m1.6-0.4h0m0.7 0.3h0m0.6 4.5h0m0.3-4.3h0m0.1 0.2h0m1.9-0.2h0m0.1-0.1h0m1.2 0h0m0.1 2.9h0m1-0.2h0m0.5-1.6h0m2.1-0.5h0m0.9 1.5h0m9.8 2.2h0m7.6 0.1h0m3-2.5h0m4.1 1.5h0m22.6 1h0m0.3-1.9h0m5.4 1.4h0m-81.5 4.3h0m9.9 0.1h0m2.4-1.7h0m1.7 0.2h0m3.2 3.4h0m0.5-1.7h0m0.3 1.1h0m0.2-4.2h0m4.8 2.7h0m0.8 1.5h0m1.3-3.4h0m3.5 3.6h0m2.6 0.1h0m0.1-4.3h0m8 3.1h0m1.5-0.6h0m0.8-2.2h0m2.8 0.9h0m0.2 3.8h0m0.7-4.3h0m1 1.1h0m1.1-1.1h0m0.5-0.1h0m1.3 4.2h0m0.4-5.3h0m2.5 2.5h0m12 1.3h0m7.6-2.9h0m1.7 3.5h0m1.5-0.8h0m0.1-3.2h0m0 4.5h0m0-1.7h0m0.6-3.3h0m0.3 1.4h0m2.4 2.2h0m0.2 2h0m0.9-1.9h0m0.6-0.5h0m0.6-2.7h0m3.6 2.9h0m-82.7 4.7h0m3.6-1.7h0m8 4.3h0m11.1 0.4h0m14.7-1.8h0m0.9 1.8h0m4.2-0.6h0m2.7-3.6h0m4-0.9h0m0.8 2.3h0m0.9 1.5h0m3.4-2.2h0m4.1 2.4h0m3.9-2.1h0m2.6-0.8h0m0.9 2.3h0m3.7-1.5h0m2.3 1.8h0m0.7-1.2h0m0.5 2.5h0m1.5-4.4h0m1.3 0.1h0m0.5-0.3h0m0.4 0.4h0m0.1 0.2h0m0.1 3h0m0.9-3.1h0m1.6 1.3h0m1.7-0.8h0m-91.4 6.4h0m8.6-0.3h0m2.3 4h0m4.7-1.2h0m0.1-3.2h0m3.1 3.8h0m6.6-0.8h0m13.4-2.6h0m7.8 0.4h0m1.9 0.5h0m6.7 1.8h0m0.1 1.1h0m0.1-3.1h0m0.3 2.7h0m0.5-3h0m0.5-2.1h0m0.3 2.7h0m4-2.1h0m0 1.6h0m7.7 3h0m6.2-5.3h0m6.2 3.1h0m1.8-2.6h0m1.8 1.5h0m2.3 2.6h0m0.1 1.2h0m2.6-0.6h0m0.1-2.3h0m-87.7 4h0m11 2.9h0m6.3-2.1h0m0.1 1.9h0m4.6-2.1h0m0.6 1.3h0m14.7 2h0m5.4 0.6h0m1.6-3h0m17.7 2.8h0m4.6-4.3h0m2.6 2.9h0m3-2.1h0m1.3 0.7h0m0.2 1h0m1.1-1.9h0m0.1 3.9h0m0.4-4.3h0m0.3 0h0m1.6-0.3h0m9.2 3.2h0m3.3-0.3h0m2.8-1.6h0m2 0.8h0m2.6 2h0m-105.9 3.7h0m0.7 0.6h0m10.4-1.8h0m2.1 2h0m7.6 1.5h0m3.5-1h0m2.9-2.9h0m2-0.2h0m1.7-0.7h0m4 0.4h0m10.9 4.9h0m2.3-3.3h0m8 0.4h0m0.5 2.4h0m7.7-1h0m5.9 0.1h0m1-1h0m0.7 1h0m0.5-0.3h0m3.4-0.2h0m0.7-1.9h0m1.5-0.6h0m1.1 3.5h0m0.4-4.5h0m2.4 4.4h0m0.2-2.2h0m0.5-1.2h0m1.4 2.7h0m1.3-0.3h0m0.8 1.3h0m6.3 0.9h0m1-2.8h0m0.9 2.4h0m0.5-2.8h0m3 1.9h0m0.6-2.9h0m0.4 2.1h0m0.2 1.5h0m0.9-4.7h0m1.5 3.6h0m0.8 1.2h0m2.8-1.3h0m0.7-0.2h0m3.2-1.7h0m-113.4 7.5h0m11.8 1.5h0m1.4-2.8h0m6 2.4h0m7.3-3.4h0m2.9 1.1h0m5.7-0.2h0m0.5-1.4h0m14.8 5.1h0m2.2 0.1h0m3.5-4h0m1.6 1h0m6.7 2.5h0m8.7-0.8h0m1 0.3h0m1-1h0m2.4-3.3h0m2.5 2.7h0m0.1-2.2h0m0.9-0.5h0m2 3.8h0m0.1-2h0m6.1 3.6h0m2.5-3.6h0m0.5 0.8h0m0.9 2.2h0m3.4-0.2h0m2.6-3h0m0.1 0.3h0m3.8-1h0m0.4 1.7h0m1 2h0m2.2-4.4h0m0.7 2.6h0m3.5 2.4h0m0.5-2.7h0m5-2.9h0m0.7 3.6h0m0.3-1.1h0m2.6-0.7h0m2.1 2h0m-108.2 3.3h0m0.4 4.8h0m0.4-1.7h0m9.4-1.7h0m2.5-1.3h0m15.1 4.3h0m1.3-1.4h0m1 1.8h0m2-5.9h0m3.4 0.1h0m2.2 1.8h0m0.8 0h0m2.7-1.9h0m1.9 1.9h0m1.4-1.5h0m1 1.6h0m3.4-0.3h0m0.5 2.7h0m2.5-1.3h0m1.2-2.4h0m5.7 0.9h0m0.9-1.7h0m0.5 4h0m0.9 0.7h0m1.7-3.4h0m4.4 4.1h0m0.8-1.4h0m0.3-0.3h0m1-0.9h0m1-0.3h0m0.6 2.6h0m0.1-4h0m0.7 0.6h0m4.6 1h0m1.1 1h0m1.2 1.1h0m0-0.2h0m1.8-2.3h0m5-1h0m2.3 4.7h0m2-4.1h0m4.1 2.6h0m0-0.8h0m3.1-1h0m0.7 2.2h0m0.5-2h0m3.4 0.1h0m2.7 1h0m0-1.9h0m0.3 1.6h0m5.9 2.3h0m0.4-1.8h0m-130 4.9h0m2.9-2.8h0m3.7 2.7h0m20.8-2.8h0m5.2 0.1h0m2.1 2.4h0m7 2.4h0m3-3.7h0m1.9 3.5h0m2.9-3.8h0m0.4 4.8h0m0.7-2.7h0m0.3 2.6h0m0.5-5h0m0.8 4.5h0m1.7-5.3h0m2.4 0.5h0m0.6 3.1h0m0.5-2.5h0m0.5 3.2h0m0.1-1.7h0m1.2 2.4h0m0 0.5h0m1.4-1.3h0m1-0.8h0m4.2 0h0m1.7-1.7h0m1.9 1.1h0m1.2 0h0m2.2 0.3h0m1.9-1.7h0m0.5 1.9h0m0.4-1.6h0m1.6 2.2h0m2.1 0.3h0m0.1-2.1h0m2.5-1.1h0m1 3.2h0m0.1-2.5h0m0.7 3.5h0m0.9-3.9h0m0.6 3.1h0m1.7-2.2h0m1.3-0.9h0m1.1-0.6h0m1.4 3.3h0m0.1-3.1h0m6.6 4.6h0m2.2-3.5h0m1.3 2.1h0m5.9 1.2h0m1.2 0.2h0m4.9-1.2h0m1.7-0.7h0m0.1-0.6h0m0.3-0.4h0m3.3-0.5h0m1.5 3.3h0m5.4-3.3h0m0.5 2.5h0m1.2 0.8h0m2.7-2.5h0m6.6-1.7h0m-139.2 7.2h0m8.9 2.3h0m4-0.2h0m0.2-3.9h0m5.7 0.3h0m1.2 2.7h0m0.6-1.9h0m0.3-1.1h0m7.8 0.8h0m5.1 3.6h0m2.2 0.4h0m5.1-0.3h0m7-2.8h0m1.5-2.3h0m3.2 4.5h0m3-0.9h0m0.2-0.5h0m0.6 2h0m0.3-1.7h0m3.4 0.2h0m2.4-3.3h0m0.6 1.1h0m1.2-1.3h0m0.3 1.2h0m0.7 3.5h0m3.6-2.8h0m1.9 0.4h0m1.5 0.4h0m1.6 0.5h0m0.5-3.1h0m0.1 5h0m2.1-3.7h0m1.3 2.3h0m1.6-3.4h0m0.3 4.9h0m1.1-0.3h0m0.2-1h0m2.2-0.4h0m0.3-1.6h0m0.9-0.9h0m2.4 3.8h0m2.6-4.5h0m1.2 3.9h0m1.1-0.5h0m4.6-1.7h0m0 2.9h0m1 0.8h0m0.4-5.5h0m1 4.2h0m2.1-0.9h0m0.4-0.3h0m2.7 1.2h0m0-4.2h0m0.3 1.4h0m2.6 2.1h0m0.5-3.5h0m2 4.5h0m1.6-0.3h0m0-3.4h0m1.9 4.1h0m1.8-2.6h0m0-1.2h0m5.4-1.4h0m3.7 0.2h0m4.9 2.9h0m0 0.5h0m0.2 2h0m1.3-3.3h0m1.7 0.6h0m0.2-2.9h0m3.4 2.6h0m-131.7 4.7h0m9.8 2.7h0m0.1-2.6h0m4.5 0.6h0m0.6 3.9h0m2-0.9h0m9.4-3.2h0m3.5 2.2h0m1-1.2h0m1.5-2.2h0m0.6 4.9h0m1.5-3.2h0m5.7 3.7h0m1.9-3.4h0m2.4 2h0m0.1-1.9h0m2.3 1.1h0m1.4-1.8h0m0.3-0.3h0m0.8 4h0m2.7-2h0m0.3 0.2h0m0.2-0.2h0m0.7-1.9h0m3.8 1.9h0m1.9 1.3h0m0.2 0.6h0m3.1-1.5h0m4-2.2h0m0.3 3.3h0m1.9-3.7h0m1-0.9h0m0 3.9h0m0.2-1.5h0m1.4-1.8h0m0.4 0h0m2 3.7h0m0.5 1h0m3.5-2.5h0m4.9 1.9h0m3.5-0.2h0m2-3.5h0m2.6-0.2h0m1.5-0.5h0m0 0.2h0m0.9-0.4h0m1.7 4.2h0m0.5-1.4h0m2-3h0m1.8 2.9h0m0.2-2.4h0m0.7 2.6h0m0.4 2.1h0m0.3-5.2h0m0.7 5.5h0m0.2-4.5h0m0 1.2h0m3.9-0.8h0m1.9 3.1h0m0-3.4h0m4 4.4h0m4.6 0h0m0-3.4h0m4.1 2.9h0m1.3-0.4h0m0.5 0h0m0.3-3.8h0m3.3 3.5h0m0.6-3.2h0m-124.8 8.1h0m13.3-3.2h0m1.2 3.5h0m12 0.6h0m1.3 0.2h0m3-2.4h0m2-1.4h0m5.2 4.3h0m1.6-5h0m0.6 0.5h0m2 3.4h0m5.4-0.8h0m0.9-1.7h0m0.7-0.4h0m0 2.2h0m0.8-3h0m0.2 0.1h0m1 3.4h0m4.4 0h0m0.5 1h0m0.3 0.8h0m0.2-5.4h0m3.5 3.1h0m0.7-2.1h0m0.2 3.8h0m2.1 0.1h0m3.5-0.4h0m1-0.9h0m0.9-2.7h0m2 3.7h0m0.1 0h0m0.5-4.7h0m4 1.7h0m0.4-1.6h0m0.1 4.6h0m0.3-3.7h0m1.4 3h0m1-3.4h0m6.1-0.8h0m0.4 2.4h0m1.4 1.3h0m0.9 0.1h0m2.6-2.8h0m9-1h0m1.4 3.6h0m4.9 0.9h0m5-3.6h0m0.2 3.9h0m3.6-1.4h0m1.4 1.1h0m0.1 0.7h0m1.1-0.6h0m3.1-4.1h0m0.1 3.5h0m0.7-0.1h0m2.2-3.9h0m3.4 0.6h0m1.2 5.1h0m1.4 0.2h0m0.3-0.7h0m3.2-1.6h0m6.8-0.4h0m-136.7 5.9h0m13.1-0.1h0m3.2-2.9h0m10.4 0.6h0m0.2 3.2h0m2.1-2h0m1.4-1.9h0m0.5 2.9h0m5.6 0.7h0m0 2h0m1-1.3h0m2-3.2h0m1.9-0.5h0m3 1.8h0m1.1 1.7h0m0.3 1.3h0m1.8-3.5h0m3.8-0.9h0m1.6-0.1h0m6.2 0.6h0m0.2-1h0m1.1 5.3h0m3.3-1.3h0m0.5-1.7h0m1.3-0.3h0m0.9-0.5h0m8 2h0m1 0.4h0m0.1-0.4h0m2.9-0.1h0m6.5 0.5h0m6.9-3.1h0m0.1 4.5h0m0.6-0.6h0m1.7-1.7h0m0.1-2h0m2.2-0.8h0m0.5 4.2h0m0.2 0h0m1.1-4h0m4.5 3.4h0m1.8-0.7h0m1.9-1.4h0m1.1-1.6h0m3.1 4.9h0m0.5-4.5h0m0.7-0.2h0m0.6 3.3h0m0-0.7h0m1.6-3.4h0m0.3 0.5h0m1.9 3.9h0m4-4h0m7.7 0.5h0m1.3 1.5h0m-119.7 8.1h0m9.3-0.2h0m3.6-3.9h0m4.4 3.9h0m0.5-0.4h0m4-2h0m1-0.1h0m1 0.2h0m0.8 1.9h0m7.9-1.6h0m5.7-0.3h0m0.4 1.4h0m1.2 1.3h0m2.7 0.7h0m2.3-3.9h0m3.2 4h0m0.1-2.4h0m1 2.5h0m0.9-1.1h0m2.8-2.5h0m0.1-0.7h0m3.1 4.1h0m0.4-0.4h0m0.9-4.5h0m0.1 0.5h0m1.7 2h0m0.8 2.7h0m2.8-4.9h0m0.7 2h0m0.6 2h0m0.1-2h0m2.7-2h0m5 4.6h0m0.2-3h0m1.6 1.7h0m0.6-2.2h0m1.2 1.5h0m1.9-1.8h0m4.7-1.7h0m2.5 5.3h0m2.2 0.1h0m0-1.8h0m0.1-2.7h0m2.4 3h0m0.5 1.4h0m1.3-0.9h0m0.1-4.2h0m0.1 4.7h0m0.5-3.9h0m0.4 3.6h0m1-2.1h0m1.7-1.5h0m0.6 4.3h0m1.4-1.7h0m3.4-1.8h0m0.5 3.5h0m0.9-3.6h0m1.9 1.9h0m1.7-1.2h0m4.4 0.5h0m0.2 1.5h0m1 0.8h0m14-1.4h0m9.1-0.1h0m3.5-2.7h0m0.3 3.2h0m1.3 1.6h0m2.5-2.9h0m0.3 2.3h0m0-1.7h0m0.4-0.9h0m2.2 2.9h0m-144.9 1.4h0m0.2 0.2h0m1.5 1.6h0m12.6-0.2h0m3.7-2.3h0m0.8 4.6h0m1.2-0.7h0m2.5-0.4h0m4.2-0.4h0m0.1-2.2h0m1 1.8h0m1.9 0.5h0m0.6-2.5h0m0.3 0.3h0m1.5-0.6h0m1.7 5.1h0m0.8-3.4h0m1 1.6h0m1.8-1.5h0m2 1h0m1.2 0.6h0m0.9-2.6h0m1.1 1.9h0m0.4-3.2h0m1.1 1.5h0m6.3-0.8h0m1.3 3.1h0m2.9-2.6h0m1.1 1.5h0m1.5-2.1h0m0.1 4.3h0m2.1 0.2h0m2.3-0.8h0m1.5-3.3h0m0.7 2.8h0m1.1-0.8h0m0.7-1.5h0m1.3 2.3h0m1.4-0.2h0m0-3h0m0.5 4.8h0m0.5-0.3h0m0.2-0.8h0m0.6-3.7h0m0.5 2h0m1.6 0.5h0m3.9-1.4h0m0.8-1.1h0m0 3.5h0m0.5-3.8h0m1.2 3.1h0m0.7 0.6h0m0.8-1.2h0m0.7 1.9h0m2.2-0.9h0m0.5 1h0m2-2.2h0m2.6 3.1h0m1.2-3h0m2.4 0.1h0m2.7 2.9h0m1.2-3.8h0m3.9 1.2h0m0.7-0.1h0m2.8-0.5h0m2.7 0.4h0m0.2-1.6h0m2.1 4.3h0m7.4-3.3h0m5 2.7h0m2.4-4.1h0m0.5 3.3h0m15.1-3.2h0m2.7-0.9h0m0.2 1.4h0m0.4 2.1h0m1-3h0m1.7 0.9h0m-140.6 9.1h0m1.4-0.8h0m2.4-1.9h0m5.5 0.4h0m0.2 0.7h0m4.3-1.8h0m2.1-0.5h0m2.3 0.6h0m1.2-0.8h0m1.2-0.1h0m0.3 0h0m1.7 1.5h0m2.4-0.3h0m0.2 2.5h0m4.5 1.3h0m0.3-1.4h0m1.4 0.5h0m0.9-1.3h0m0.5-0.8h0m0.7 0.1h0m1.2-0.1h0m1.9 0.2h0m3.7 1.4h0m1.7-3.6h0m1.1 5.1h0m0.3-2.3h0m0.6-1.8h0m1.3-1.1h0m1.6 2.7h0m0.1 1.3h0m0.4 0.9h0m0.7-1.5h0m1.9 1.3h0m3.3-2.8h0m0.3 3h0m1.7-4.8h0m0.5 1.7h0m0.9 1.1h0m4.6-2.4h0m1.6 3h0m0.7 1.8h0m3-1.2h0m0.6 1.1h0m0.4-1.5h0m5.9 0.4h0m1.2-0.3h0m2 0.8h0m1.7-0.1h0m3.3-1.4h0m0.5 2.1h0m0.3-1.2h0m0.4-3.7h0m2.4 5.1h0m0.3-3.6h0m1.4-1.3h0m1.9 2h0m3.2-2.9h0m0.8 3.5h0m0.3 0.8h0m11.6-1.6h0m0.5-1.9h0m0.9 3.6h0m6.4 0.8h0m6.5-4h0m-121 5.3h0m6 2.3h0m3.1 2.2h0m4.1-3.4h0m2.7 4.3h0m0.4-3.4h0m3 3.3h0m0.8-0.7h0m1.5-4.9h0m1.6 1.7h0m1-1.1h0m1.3 4.6h0m2.9-4.3h0m1.2-0.1h0m0 0.8h0m0.1-1.2h0m4.2 0.2h0m2.1 4.1h0m0.2 1h0m2-2.2h0m4-0.6h0m3.8 2.3h0m2.3-0.6h0m4.2 1h0m3-0.4h0m6.3-1.4h0m8.3-0.4h0m3.3 0h0m0.2 1.3h0m0.1 0h0m0.8-0.3h0m3.4-2.9h0m0.5 3.5h0m5.8-1.7h0m0.3-0.5h0m0-1.1h0m0.6 1.2h0m3.7-2.1h0m0.5 4.4h0m0-1.7h0m2.2 1.4h0m5.1-0.6h0m9.1-2.4h0m2.5 1.8h0m3.2-0.5h0m-98.9 7.8h0m2.1-1h0m4.9-3.4h0m0.7 0.4h0m0.9 1.6h0m3.4 1.4h0m0.5-2.9h0m3.3-0.6h0m1.5-0.7h0m0.2 0.9h0m4.2 3.4h0m1.8-4.3h0m0.1 4.9h0m3.2 0.6h0m2.4-2.5h0m2-2.4h0m2.5 0.3h0m1.6 4.5h0m2.8-1.8h0m2.4 2.4h0m4.8-4.4h0m0.1-0.9h0m1.9 2.3h0m1.6-0.5h0m4.9-0.5h0m0.2 2.3h0m2.1-1.4h0m0.3-2.3h0m0.1 0.3h0m0.9 1.5h0m1 3.3h0m2.2-3.2h0m0 0.8h0m1.7 0.9h0m0.3 0.5h0m1.8-2.2h0m0.3 2h0m0.6-0.3h0m0.6-1.4h0m2.6 0.2h0m0.6 1.7h0m0.7-1.3h0m6.9-2.1h0m2.7-0.3h0m0.4-0.3h0m0.9 3.4h0m4.5 0.3h0m6.3 0.3h0m7.7-0.5h0m1.5-0.6h0m0.4-3.5h0m0.8 3h0m0.1 2.2h0m1.8-2h0m2.6-2.6h0m4.1 4.8h0m-107.2 0.6h0m14.1 1.1h0m0.5-0.6h0m2.4 5.4h0m1.4-1h0m0.3 0.6h0m0.9-2.7h0m1 0.3h0m2.3 2h0m0.7-2.7h0m1.2 3h0m2.6-4.6h0m8.3 0.3h0m0.1 3.3h0m1.4-2.4h0m3.1 0.7h0m1.1 3h0m7.8-1.8h0m3 1.6h0m0.1-5.5h0m2.7 5.5h0m3.5-4h0m2.4 3.8h0m0.2-1.6h0m0.6-0.6h0m0.5-3.1h0m3.1 3.1h0m3.2 1.5h0m0-2.6h0m0.4 1.2h0m0.5 2.7h0m0.1-1.1h0m1.9-3.1h0m3.5 0.6h0m16.2 3.1h0m2.9-3.9h0m1.3 3.3h0m0.9 0.8h0m4.5-1.2h0m1.4-1.8h0m1.2-0.9h0m1.9 3.7h0m1.1-2.1h0m-111.2 3.7h0m3.8 0.6h0m8.2 1.5h0m6-1.8h0m1.2-0.6h0m4.3-0.4h0m2.7 1h0m0.2 1.8h0m1.4-2.1h0m4.9 4.4h0m0.2-1.4h0m0.9-4h0m2.3 5.5h0m4.7-1.2h0m3.4-0.9h0m1.8-3.3h0m1.4 2.5h0m1.5 0.2h0m0.1-0.5h0m3.9 0.3h0m0.4-1.6h0m0-0.8h0m1.3 3.1h0m0.6 1.6h0m0-3h0m1.2-1.3h0m0.1 1.3h0m0.5 3.4h0m1-3.4h0m9.3 0.9h0m1.8-1.1h0m3.9-0.2h0m2.9-1.5h0m3.1 5.4h0m0.6-0.8h0m7.5 1.1h0m9.9-0.6h0m1.4-1.2h0m1.1-3h0m5.2 0.1h0m2.1 0.2h0m2.3 0h0m3.8-1.1h0m-125.7 7.1h0m9.9 3.5h0m12.7-4.5h0m17.7 0.9h0m4.1 0h0m1.2 4h0m2.2-2.1h0m0.5-2.2h0m7.5 2.3h0m0.1-2.4h0m2 1.2h0m0.5-0.5h0m1.4 3.1h0m1.5-2.5h0m2.7-1.5h0m0.1 0h0m2.5 2.8h0m0.6-2.1h0m3.2-0.3h0m0.2 1.2h0m0.3-0.9h0m3.1 1h0m1.7-0.9h0m0.9 2.4h0m0.8 0h0m0.4-3.4h0m2.8 5.3h0m1.5-3.5h0m4.6-1.7h0m0.7-0.2h0m6.5 5.6h0m9.9-3.9h0m3.1-1.3h0m6.2 1.5h0m0.5 0.3h0m5.2 0.3h0m3.6-2.1h0m1.8 3.2h0m2.2-3h0m-132.8 7.8h0m6.4 2.4h0m1.7-2.4h0m1.3-1.8h0m34.1-0.5h0m1.4 2.4h0m3.1-2.6h0m8.4 2.6h0m1.2 0h0m17.8 2.6h0m11.6-1.6h0m0.6-0.2h0m1-3.1h0m3.5 5.2h0m6.2-4.9h0m15.3 1.7h0m0.4-1.8h0m1 1.9h0m-117.6 4.1h0m10.4 1h0m5.2 4h0m4.3-5.4h0m35.5-0.1h0m2.8 3.4h0m8.8 1.4h0m4.9-1.3h0m3.3-0.9h0m15.5 2h0m1.3-4.2h0m-78.1 8.1h0m5.5-0.8h0m35.4 0.2h0m5.4 0.8h0m7 2.4h0m9.8-1.9h0m1.8 0.9h0m8.6-0.4h0m-74 7.8h0m0.5-2.8h0m8.1 2.9h0m26-4.6h0m1-0.5h0m8.9 0.9h0m3.6 3.4h0m3.1-2.6h0m13.4 3h0m6-3.9h0m3.4 0.3h0m1.1 3.9h0m2.5-3.3h0m15.8-0.9h0m-93.2 9.8h0m44.9-5.1h0m6.6 0.8h0m7.7 1.1h0m1.1 0.6h0m10.8 2.7h0m1.7-3.9h0m-46.5 9.8h0m13.4-4.3h0m11.3 2.9h0m0.5 1.2h0m4.9-3.9h0m3.9-0.7h0m9.7 0.2h0m10-0.3h0m-40.1 7h0m29.9-0.4h0m-10.4 5.5h0"/>
<path id="f31" d="M942.6 227.6h0m0.6-1.1h0m0.3-1h0m0.5-2.5h0m2.3 2.9h0m0 1h0m0 0.2h0m0.8-2.7h0m0.4 1.3h0m1.3 0.3h0m-63.1 20.2h0m-54.5 11.3h0m77.7-0.8h0m4 9.2h0m6.8 0.9h0m-35.8 5.6h0m46.7-1.2h0m-72 8.1h0m5.9 0h0m36.2 2.3h0m38.6-0.5h0m-101.2 6.4h0m4.5-4.7h0m55.9 3.1h0m2 1.3h0m2.5 0.2h0m4.1-2.4h0m12.1 0.8h0m-101 7.8h0m20.3-5.1h0m43 4.4h0m19-3.1h0m35.6 0.7h0m-87.3 9.1h0m1.4 0.2h0m13.8-1.7h0m44.1-3.6h0m4.7 2.2h0m-79.7 3.4h0m7 4.5h0m0.3 0.4h0m4-0.3h0m15.9-0.8h0m7.5-0.8h0m9 1.6h0m2.4 1h0m2-3.2h0m1.6 3h0m12.4-1.5h0m13.7-1.1h0m7.4 1.1h0m5.2-1.1h0m81.9 0.6h0m3.2 0.5h0m1.7 1.6h0m-180.6 4h0m7.1 0.4h0m3.8-0.3h0m0.5-1.5h0m4.5-2.1h0m6.9 5.6h0m5.3-3.3h0m2.1 2.5h0m8.7-0.8h0m1.3-0.7h0m3.3-0.8h0m4.2 2.4h0m1.1-1.3h0m0.3 1.7h0m0.6-5.2h0m0.6 2.4h0m3.5 0.1h0m2.1-0.2h0m0.2 0.3h0m2.3-1h0m0.1 0.2h0m3.3 3.6h0m8.3 0.1h0m4.3-2.2h0m3.7-1h0m2-2.1h0m0.8-0.2h0m1.8 4.3h0m0.2-0.5h0m-86.3 5.5h0m6.6-1.4h0m1.1-1.3h0m3.2 3.2h0m2.5-0.9h0m3.1 0.3h0m5.6 1.4h0m3-2.6h0m0 0.1h0m9.3 3.2h0m4.3-3.2h0m2.4-2.1h0m0.4 2.8h0m1.1 1.5h0m0.2-3.8h0m6.9 1h0m0.8 1.8h0m1.9 2h0m0.8-5.4h0m0.7 0.6h0m5.2 3.6h0m1.9-0.7h0m17.3-1.3h0m4.9 2.3h0m2.7-0.3h0m14.9-1.9h0m22.2 0.1h0m-129.2 5.2h0m4.2 0.8h0m10.5 3.3h0m4.2-1h0m3.6 1.1h0m3.6-4.2h0m2.6 1.7h0m9.1 0.6h0m0.3-3.1h0m1.6 1.1h0m3-1.2h0m4.4 5.1h0m0.2-4.3h0m2.5 3.4h0m3.5-0.4h0m1-1.8h0m2.9 0.8h0m0.7 1.3h0m0.2-3.1h0m2.3 1.1h0m1.6 2.2h0m2.4-3.9h0m3.2 0h0m2 1.9h0m0.9-0.8h0m6 2.2h0m5.9-3h0m15.7 2.2h0m0.5-0.8h0m-95.9 8.8h0m1-1.3h0m4-3.5h0m2.1 2h0m3.2-0.8h0m2.8-0.5h0m1.6 3.6h0m0.4 0.5h0m0.1-0.5h0m0.6-2.8h0m1.1 3.3h0m0.3-0.2h0m0.9-2.1h0m0.6-2.3h0m2 3.5h0m0.2 1.1h0m1.3-1.4h0m0.1 0.8h0m1 0.8h0m0.2-0.9h0m0.1 0.9h0m3.5-0.1h0m1.8-5.3h0m2.4 0.1h0m3.7 5.4h0m0.5-5.4h0m5.9 0.9h0m0.2 1.7h0m4.7-1.1h0m5.7 0.9h0m0.8-2.4h0m0.4-0.5h0m2.3 0.2h0m3.6 0.7h0m1.8 3.9h0m0.3-1.5h0m1-3.1h0m1 2.8h0m0.6 2.2h0m3.8-1h0m0.1-4h0m0.1 0.1h0m0.1 4.2h0m0.1-4h0m1.1 4.8h0m3.6-3.1h0m0.2-0.8h0m1.4 2.4h0m0.3 0.9h0m0.1-2.1h0m3.6 0.8h0m1.4-1.3h0m6.6-2.2h0m2.5 4.5h0m2.9-0.8h0m-98.5 8h0m2.7-3.7h0m1.9 1.6h0m0 0.5h0m3.8 0.8h0m1.9-0.2h0m0-1.6h0m0 1.7h0m0.2 0.7h0m0-0.1h0m0.6-1.8h0m0.2-0.5h0m0.8-2.6h0m6.2 5.1h0m0.3-1.8h0m1.4 0.3h0m0.5-1.7h0m1.1 1.1h0m0.7-2.4h0m0.1 3.4h0m0.1 0.9h0m0.1-4.8h0m0.3 1.8h0m0.1 0.8h0m0.6-0.3h0m0.2 1.8h0m0-3.2h0m0.2 1.3h0m0.5 1.6h0m0.1 1.5h0m0.9-1.3h0m0-2h0m0 1.7h0m0.3 0.5h0m0.1-0.5h0m0.2-0.3h0m0.1-1.9h0m0 0.8h0m0.3-0.5h0m0.1 3.3h0m0.1-0.4h0m0.5-1.6h0m0.4-1.1h0m0.2 2.2h0m0.4 0h0m1.1-3.3h0m0.4-0.1h0m0.3-0.6h0m0.9 0.3h0m0.1 2.9h0m0.1 0.7h0m0-1.4h0m0-2.3h0m0.1 3.5h0m0.3-0.2h0m0.2 0.5h0m0.1-3.5h0m0.9 0.3h0m0.6 2.3h0m0.3 1.2h0m0.3-1.2h0m0.8-2.2h0m1.6 2.8h0m3-2.6h0m1.5 2.5h0m2.6 0.9h0m1.9-3.6h0m1.8 1.8h0m0.5-0.5h0m0.1 2.7h0m2.3-3.2h0m0.5-2.3h0m1.5 0h0m1.1-0.1h0m3.1 2.8h0m3.8-1.9h0m5.4 2.9h0m9.1-2.6h0m1.5-0.8h0m2.1 5h0m0.1-4.7h0m0.1 0h0m0.2 0.5h0m0.5 1.8h0m3.9 0.8h0m0.2 1.5h0m0.4-3.7h0m0.4 2.8h0m3.5-1.1h0m0.5 0.3h0m6.1-2.5h0m1.5 3.2h0m13.2-1h0m-111.7 7h0m2.6 1.4h0m1.4-3.5h0m0.2 2.2h0m0-0.5h0m0.1-0.2h0m0.4 1.8h0m0.1-1.4h0m0.4-0.6h0m0.4-1.1h0m0.2-1.3h0m0.1 2.3h0m0.4 0.8h0m0.1-2.2h0m0.6-1.9h0m0.2 2.9h0m0 1.3h0m0.2-4.1h0m0.2 5h0m0-2.5h0m0.3 1.2h0m0.1-0.6h0m0.2 2.3h0m0.2-2.7h0m0.5 2.6h0m0.3-4.2h0m0 2.6h0m0.2 0.4h0m0.3-1.5h0m0-0.2h0m0.4-2.1h0m0 0.2h0m0.1-0.3h0m0 1.3h0m0.8 1.8h0m0.2-3.3h0m0.1 5.4h0m0.1-3.6h0m0.5 3.8h0m0.1-1h0m0.1-4.3h0m0.3 1.3h0m0.2 0.9h0m0.4-0.4h0m0.9 3.1h0m0.1-0.2h0m0.1-2.5h0m0.5-1.7h0m0.2 4.8h0m0-0.5h0m0.1-0.7h0m0.4-2h0m0.4-0.6h0m0 0.5h0m0.1-0.7h0m0.4 0.3h0m0.8 0.6h0m0-1h0m0.1-1.2h0m1.6 0.3h0m0.1 1.6h0m0.2-0.6h0m1.7 2.2h0m0.6-1.7h0m3.6 0.2h0m0-2.5h0m0.4 2.9h0m0.4-2.9h0m1.5 1.8h0m0.1 3.9h0m0-2.2h0m0.6-3.2h0m0.4 2h0m0.1-0.2h0m0.4-1.4h0m0.5 2.6h0m0.5-2.4h0m1.2-0.9h0m0.1 1.9h0m0-0.3h0m0.4 0h0m0 0.5h0m0.6 2.9h0m0.1-5.1h0m0.1 1.9h0m0.8-0.7h0m1.7-0.7h0m0-0.5h0m1.9 1.7h0m1.1-0.1h0m0.8-1.4h0m1.5 2.6h0m1.8-1.3h0m0.4 0.6h0m0.6-0.9h0m0.5 0.1h0m0.7-1h0m4.9 0.5h0m0.6 2.2h0m1.8-0.4h0m0.2 2h0m0.1-0.9h0m4.3 0.8h0m3.5 0.8h0m2.1-4.8h0m2.1 2.3h0m4.8 1.5h0m12.2 0.2h0m1.2-4.5h0m2.7 4.6h0m2.4-1.5h0m0.4 0.1h0m8.5 1h0m6 0.1h0m13.5-3.5h0m4.8 4.1h0m-118.5 2.9h0m1.2-0.8h0m2.6 4.7h0m0.4-1.3h0m0.1-4.1h0m0.4 1.4h0m0.3 2.9h0m0-0.9h0m0.3 0h0m0.7 0.3h0m0.1-1.6h0m0.3 0.4h0m0.4-2.5h0m0.2 2.5h0m0.6 0.7h0m0.3-2.8h0m0.3 0.5h0m0 2h0m0.1-2.6h0m0.3 1.9h0m0.4 2.3h0m0.1-2.8h0m0.1 2.4h0m0.3-3.8h0m0.6 1.1h0m0.2 3.1h0m1-4.2h0m0.4 0.6h0m0.3 0h0m1.8 1.7h0m1-1.4h0m0.4 1.5h0m0.4-0.5h0m0-1.9h0m2.3-0.3h0m0.1 5h0m2.3-3.8h0m3.5-1h0m0 0h0m1.8 1.4h0m0.5-0.6h0m0.6-0.5h0m2 4h0m3.9-1.8h0m1.1 2.7h0m0.8-5.3h0m8.3 3.6h0m0.6-0.5h0m2.3 0h0m5.3 0h0m3.5 0.8h0m0.5-3.9h0m2.4 3.4h0m0.1-0.3h0m0.5 1.3h0m3.7-3.7h0m0 2.3h0m4 0.5h0m1.8-2.8h0m2.8 2.6h0m0.7-1.9h0m2.3-1.3h0m0 4.3h0m0.4-4.8h0m2.4 3.6h0m2.2 1.7h0m0.6-1h0m2.1-2h0m1 2.4h0m1.4-0.1h0m4.7 0.3h0m3.4-2.7h0m2.7 3.2h0m3.3-3.3h0m4.9-1.7h0m-95.8 10.5h0m0.2-0.9h0m1.4-3.3h0m0.9 2.2h0m0.4-1.9h0m0.2 2.4h0m0.2 2.2h0m2.2-0.3h0m0.1-2.5h0m0.3 2.3h0m4.9-2.5h0m2-1h0m1.7-0.6h0m0.4 0h0m3.5 1h0m1-0.5h0m4.5 0.7h0m2.6 0.6h0m0.7 0.7h0m0.6 0.4h0m1.3-1.4h0m3.1 2.2h0m4.2-4.3h0m10.3 2.2h0m2.2 2.4h0m0.8-4h0m3.5 3.1h0m0.7-0.2h0m4.5-3.5h0m1 3.1h0m0.8-0.8h0m4.1-2.5h0m3.7 0h0m3.3 4.1h0m0-2.9h0m0.1 4.5h0m13.3-1h0m13.2-1.8h0m0.7-0.5h0m2.3 2.5h0m1.5-1.9h0m26.7-0.9h0m-133.6 6.2h0m1.7-1.9h0m8.1-0.3h0m6.5 4h0m7.9-2.9h0m0.2-0.5h0m1.3 3.5h0m0.3-3.5h0m0.2-0.3h0m1.9 1.6h0m2.9-1.8h0m1 0.8h0m1.6 1.5h0m2 2.8h0m1.3-2h0m0.2-1.3h0m1.4 0.2h0m0.1-0.6h0m1.3 2.2h0m1.6-0.4h0m3.7-0.6h0m1.8 2.5h0m2.7-0.4h0m3.3-0.9h0m3.6-1.2h0m0.2 0.9h0m2.6-3.8h0m2.3 2.3h0m2.6-0.1h0m5.8 3.4h0m2.1-0.4h0m2-1.5h0m2.6 1.6h0m0.8-5.2h0m2.6 5.2h0m1.9-4.8h0m0.1 1.8h0m0.6-0.8h0m7.6 2.4h0m5.9 0.7h0m1.4-1.5h0m3.2 0.3h0m-94.6 3.9h0m2.1 1.1h0m1.9 2.7h0m0.1-3.5h0m1.3 1.7h0m2.6-1.7h0m6.1-1.6h0m2.6 4.9h0m0.6-1.5h0m1.6-2.7h0m5.1 3.3h0m1.9-3.4h0m3.7 0.8h0m0.9 1.1h0m0.8 1.3h0m1.8-0.4h0m0.6-2.6h0m1 1.5h0m0.9 0.8h0m0.9 0.1h0m0.1-0.6h0m0.3-1.9h0m4.9 3.6h0m0.6-0.6h0m0.8-3.4h0m1.7 3.4h0m0.7-3.5h0m0.9-0.1h0m1.1 1.5h0m3.3-0.9h0m2 0.2h0m3.7 0.7h0m9 1.9h0m1-3.4h0m3.9 4.7h0m1.5-1h0m0.8-1h0m0.7 2h0m1.9-3.5h0m13 0.7h0m8.1-1.8h0m15.5 5h0m-113.9 3.8h0m14.4-0.2h0m3.1-1.5h0m4.5 3.4h0m3.3-4h0m0.6 5.1h0m0.7-1.3h0m0-1.9h0m1.2 0.8h0m0.2-3.1h0m1.2 5h0m1.1-0.8h0m1.2-2.5h0m0.2 0.3h0m5.7-1.7h0m0.1 3.3h0m1.5 1.1h0m0.5-3.4h0m0 3.9h0m2.5-2h0m2.7 1.3h0m0.2-3.8h0m0.1-0.4h0m1.9 4h0m0.5-1.5h0m0.6-1h0m0.8 2.3h0m1.6-0.9h0m0.2-3.4h0m2 1.1h0m1.5-0.5h0m0.7-0.1h0m0.5 0.3h0m1.4 3.7h0m1.5 0.3h0m0.1-0.9h0m0.2 0.1h0m1.7 1.1h0m3.5-1.6h0m2.4-0.4h0m2.6-2h0m2 1.6h0m0.5-1.9h0m0.1 3.4h0m2.6 0.2h0m2.4-0.7h0m1.9-3.4h0m0.1 2.5h0m0.1 1.9h0m2-4h0m9.4-0.3h0m2.9 2h0m0.5 0.7h0m1.8-2.2h0m2.6 4.2h0m-92.2 5.4h0m4.7-3.7h0m7-0.7h0m5.1 1h0m5.5 2.2h0m0.3 2.1h0m2.3-2.8h0m0.8-2.6h0m0 4.1h0m0.1-2h0m1.9 1.1h0m1.2-0.4h0m1.2-2.1h0m5.9-0.5h0m0.2 3h0m3.6-0.7h0m0.3 0h0m1.3 0.6h0m0 2.6h0m0.1-3.9h0m0.6-1.1h0m0.9 4.9h0m0.7-5.2h0m2.4 4.7h0m0.4-2.5h0m3.1-0.3h0m0.2-0.3h0m0 0.7h0m0.4 2.2h0m0.1-0.3h0m4.7-3.3h0m2.4-0.9h0m0.8-0.6h0m0.2 2.9h0m0.2 1.1h0m0.4-3.7h0m3 3.7h0m4.6-0.6h0m0.4-0.2h0m2.6-1.6h0m1.2 0.7h0m1.9 3h0m1.5 0h0m42.8-4.2h0m-114.3 6.2h0m22.9-0.3h0m1.3-0.4h0m1.3 0.5h0m0.3 3.8h0m2 1.1h0m1.5-3.1h0m3.3-1.3h0m0 3h0m0.6-4.5h0m0.4 5.1h0m1.4-3.5h0m1.7 0.7h0m1.3 1h0m1 1.2h0m0.5-3.6h0m1 4.8h0m0.7-1.3h0m0.7 0.2h0m3.7-0.9h0m0.9 1.3h0m2.7-5h0m0.7 3.9h0m1.5 0.3h0m0.1-0.8h0m2.5 2.2h0m8.8-1.2h0m1.7-2.4h0m0.2-0.1h0m0.6-1.5h0m5.7 2.7h0m1.4 1.8h0m9.8-0.1h0m85.6-4.6h0m-143 11.2h0m1.3-2.8h0m1-1.7h0m5.6 0.3h0m1.3 3h0m2.8-3.4h0m0.4 4h0m0.8 1h0m0.4-0.8h0m1.6-0.6h0m1.2-1.8h0m0.6-0.3h0m0-0.8h0m0.5-0.7h0m2.3 3.2h0m0.6-2.7h0m2 0.5h0m0 2.5h0m2.1 0.9h0m0.5-0.6h0m2.1 0.3h0m2.6-1.8h0m1.8-1.4h0m1.5 0h0m1.2 1.5h0m0.9 0h0m0 1.1h0m0 0.3h0m0.4-4.5h0m1.4 4.3h0m2.1-0.9h0m4.9 2.3h0m18.4-2.3h0m0.7 1.8h0m7.6-3.4h0m54.4 2.9h0m4.1-0.3h0m5.2-2h0m-134.3 9.2h0m3-3.5h0m19.3-1h0m3.9-0.7h0m0.2 5.2h0m3.6-1.3h0m0.5-2.1h0m5.6 0.7h0m1.2 2.4h0m5.8-5.3h0m1.2 2h0m0.7 2.9h0m3.2-1.1h0m17.2 0.3h0m3.7-3.4h0m10.9 4.2h0m0.6-5.1h0m8.2 2.6h0m45.1 2.1h0m5.6-4.1h0m-124.3 7.2h0m2.6 2.8h0m1.4-1.4h0m6.9-2.6h0m1.6 0.5h0m10.4-0.2h0m3.8 0.2h0m2-0.3h0m1.5 3.8h0m1.4-3.1h0m79.6 3.7h0m-106 2.7h0m5.8 0h0m10.2-0.6h0m14-0.9h0m12.7 1.4h0m2.7 4.1h0m39.3-3.8h0m38.5-1.3h0m-129.9 11.1h0m5.6-0.7h0m0.6-1.4h0m0.7-0.6h0m3.4 1.5h0m2.1-0.9h0m0.9 2.1h0m1.8-1.8h0m0.2-2.1h0m0.3 0.2h0m1.2 3.5h0m1.6-0.6h0m0.2-0.1h0m0.6-1.3h0m3.5-1.8h0m2.9 1.9h0m7.1-1h0m1.1-1.2h0m32.2 2.8h0m-74.4 5.6h0m2.9 0.1h0m1.5 1.8h0m4-2.5h0m2.8-1.9h0m1.3 0.7h0m0.2 3.4h0m0.2-1.6h0m2.6-2.4h0m4.1-0.2h0m0.3 4.3h0m3.4-4h0m0.1 0.6h0m0.7-0.8h0m0.6 1.4h0m0.6-0.9h0m0.1 0.2h0m0.3-0.9h0m0.6-0.6h0m1 0.9h0m1.4 1.8h0m0 0.3h0m5.1-3h0m0.9 0.1h0m4.4 5.1h0m6.4-1.5h0m41.4-4.4h0m-91.4 9h0m4-1.6h0m1.4 0.4h0m1.4-0.7h0m0.4-0.3h0m0.3 1.9h0m1.8-1.7h0m0.6-0.5h0m0.1 3.2h0m2 1.3h0m0.5-3h0m4.7-0.7h0m0.5 4.1h0m0.1-2.5h0m1.9-0.7h0m0.2 0.3h0m1.1 2.2h0m3.3-2.8h0m1 1.4h0m3-2.1h0m0.6 3.1h0m2.3-4.2h0m1.3 5.2h0m0.5-1h0m0.3-3.5h0m2.6 4.6h0m3.5-1.5h0m0.1-2.8h0m0.1 0.1h0m2.4 2.5h0m0.4 0.8h0m1.1-0.4h0m-46.7 3.8h0m6.9 0.1h0m2.7 0.7h0m0.4-1.2h0m2.3-1.3h0m0 0.1h0m4.1 4.7h0m0.4-3.4h0m0.7-1h0m1.8 1.3h0m1.3 2.1h0m0.2-3.4h0m1 4.2h0m0.7-2.2h0m1.1-1.8h0m1.9 2.4h0m3.1-1.1h0m6.3 0.6h0m9.1-0.6h0m-37.5 6.8h0m2.7 1.8h0m1.8-0.4h0m0.8 0h0m0-1.3h0m5.5 0.2h0m1.8 1.9h0m1.2-1.3h0m0.9 0.4h0m3.8-1.5h0m1.4 3.2h0m0.9-5.8h0m1.7 1.2h0m0.9 1.1h0m2.5-0.4h0m1.1 3.5h0m0.3 0.3h0m1.8-2.9h0m0-1.7h0m0.2-0.9h0m1 2.7h0m1.7-2.2h0m0.7 1h0m4.7-0.7h0m23.9 0.9h0m-56.9 5.3h0m0.7-0.3h0m4.5 0.2h0m0.6 1.5h0m1.2-1.2h0m1.3-0.8h0m2.6 4.3h0m6.1 0.1h0m0.1-3.4h0m0.3 2.9h0m5.3-3.7h0m1.4-0.7h0m1.7 2.4h0m1.8-1.2h0m0.9 1.3h0m36-2.2h0m-53.9 6.4h0"/>
<path id="f41" d="M899.2 266.1h0m70.3 21.5h0m-12.1 27.9h0m-15.5 11.2h0m-159.8 24.1h0m0.9 1.5h0m0.2 1.3h0m1.2-1.4h0m1.1 0.5h0m0.3-3.1h0m0.8 4.3h0m0 0.1h0m0.3-0.4h0m0.2-3.1h0m0 1.3h0m0.9-3.3h0m0.9 2.5h0m0-0.6h0m0.7 1.9h0m0.6-0.7h0m0.2-0.6h0m0.2 0.8h0m0.5 0.8h0m0.2-0.9h0m0.2 1.9h0m0.2 0.4h0m1.7-1h0m0.8 0.2h0m49.3-1.5h0m63.5-2.6h0m-125.5 7.3h0m0.1-0.8h0m1.6 3.8h0m0.8-2.1h0m0-1.8h0m0-0.6h0m0.2 1.3h0m0.7-2.2h0m0.3 3.3h0m0 0h0m0.1-1.5h0m0.2 1.4h0m0.6 2.4h0m0.2-2.2h0m0.1 2.5h0m0-2.9h0m0.5 1.4h0m0.1-4.1h0m0.2 2h0m0.3-0.3h0m0.5 0.4h0m0.1 0.5h0m0.1 2.4h0m0.1-1.6h0m0 0.7h0m0.6-0.8h0m0.3-1.5h0m0.4 1.9h0m0-2h0m0.6 1h0m0.2-2.9h0m0.5 1.6h0m0.1 1.9h0m0-2.8h0m0.4 0.7h0m0.2 2.1h0m0.4-2.8h0m0 4.6h0m0.3-3.8h0m0.1-0.7h0m0.2 4.8h0m0.1-4.8h0m0.3 1.5h0m0.2-1h0m1.1-0.2h0m48.3 2.7h0m1.2-2.6h0m0.1 1.3h0m0.5 2.3h0m1-2.3h0m0.5 3h0m0.4-4.7h0m0.3 2.4h0m0.8-0.1h0m0.6-0.5h0m16.5 0.7h0m-79 2.7h0m0.3 1.8h0m0.3-1.8h0m2 0.4h0m0.3 1.9h0m0.1-1.1h0m1.5-0.3h0m1.6 2.4h0m3.8 1h0m0.7 1.5h0m0.1-0.4h0m0.9-2.4h0m0.1-0.5h0m0.1 0.5h0m0.3 0.6h0m0.4 2.3h0m1.7-4.1h0m0.8 2.3h0m0 0.2h0m30.7 0.7h0m1.9 0.1h0m2.7-3.2h0m0.6-0.6h0m0.3 2.5h0m0.5 1.3h0m0.7-3.8h0m0 2.1h0m0.4 2.2h0m1.4-2.5h0m4.9 2.3h0m-47.2 0.5h0m30.4 2.7h0m2.6 3.1h0m1.6-2.5h0m1.6-2h0m0.7 0.8h0m0.2 2.4h0m0.2 1h0m0.2-3.7h0m0.4 3.6h0m0.5-3.9h0m1.5 3.8h0m0.3-3.9h0m0.6-0.3h0m0-0.2h0m0.6 2.7h0m0.2-0.6h0m0.4-0.4h0m0.4 0h0m0.3 3h0m0-3.8h0m0 1.7h0m0.8 2h0m2-3.9h0m1.3 4.3h0m0.9-1.8h0m0 0.4h0m0-0.3h0m0.2-0.1h0m0.6 1.7h0m-19.9 2.6h0m3.5-0.2h0m0.2-0.9h0m1.2 4.2h0m0.4-3.6h0m0-1.6h0m0.1 0.6h0m0.9 4.2h0m0.1-4h0m0.9 1.6h0m0.5-2.1h0m0.1 2.3h0m0.6-0.2h0m0.3 1.1h0m0.1 1h0m0.3 1.1h0m0.3-2.1h0m0-1.9h0m0.1 0.5h0m0.1-0.9h0m0.3-0.2h0m0.4 3.4h0m0.2-3.5h0m0.2 2.8h0m0.4-2.4h0m0-1.4h0m0.4-0.1h0m0.2 5.6h0m0.6-5h0m0.2 2.6h0m0.7-1.5h0m0 1.6h0m0.1 2.5h0m0-2.1h0m0.1-0.8h0m0.7-2.3h0m0.4 4.1h0m0-3.9h0m0.2 1.2h0m0.2 0.7h0m0.2-1.2h0m0.1 2.1h0m0.2-3.5h0m0.8 2.9h0m0.3 0.1h0m0.1 1.3h0m0.2-2h0m0.2-0.7h0m1.7 0.1h0m1.4 2.7h0m1.2-2.2h0m0.3-1h0m1.5 0.8h0m-16.9 3.9h0m0.1 2.3h0m0.4-1.6h0m2.2-0.1h0m0.2 0h0m0.8-0.2h0m1.2 0.9h0m0.2 1.5h0m1.6 2.3h0m0.6-4.6h0m0.8 1.7h0m0.5-0.7h0m0.7-1.6h0m0 5.2h0m0.7-1.2h0m0.4-1.9h0m2.5-1.8h0m-3 6.5h0m75.5 1.3h0m-32.9 4.3h0m57.5 0.7h0m-116.6 7.9h0m0.9 2.2h0m1.2-1.2h0m0.1-2.7h0m0.1 3.5h0m0.3-2h0m0.4 2.3h0m0.4-1.4h0m0.1 0.6h0m0.3-1.2h0m0.2-1.4h0m0.2 1.2h0m0.6 2.4h0m0.4 0.2h0m1-1.7h0m0.4-1.7h0m0.3 2.8h0m1.6-1.1h0m-9.7 4.1h0m1.4 1h0m0.4-1.9h0m0.8 0.7h0m0.6 1.8h0m0.3-1.2h0m0.3-1h0m0.1-0.6h0m0.1 2.6h0m0.2-2.5h0m0.5 3.4h0m0.1-3.6h0m0.9-0.4h0m0.2 3.9h0m0.9-0.3h0m1.3-2h0"/>
<path id="f12" d="M828 275.7h0m11.6 2.8h0m5 6.6h0m-10 4.8h0m5.3 5.6h0m6.3 5.6h0m68.6 20.6h0m1.7 6.4h0m17.5 0.8h0m-49.3 3.3h0m0.5 2.3h0m5-3.2h0m9.5 0.4h0m8.9 0.9h0m21.6 1h0m-42 4.2h0m8 1.2h0m18.1-1.3h0m7 3.6h0m-41.6 4.3h0m4.1 2.2h0m5.5-4.2h0m1.4-0.7h0m16.3 4.8h0m1-4.8h0m1.5 2.3h0m8.5 2.5h0m-35.6 1.8h0m6.8 2.3h0m3.3 0.8h0m1.4-1h0m7-0.3h0m0.6 0.7h0m3-2.9h0m3 3.2h0m3 0.7h0m1-0.9h0m4.5-2h0m2.9-0.4h0m10.3-1h0m3.3 2.8h0m13.3-2.9h0m40.3 3.7h0m-108.6 6.1h0m3.6-1.5h0m1 1.6h0m7.9-4.3h0m2.1 2.9h0m4.4 1.6h0m1.2-2.4h0m2.2 1.7h0m1.6-0.4h0m0.4 1.7h0m3.7-4.2h0m0.3 0h0m4.3 4.7h0m0-4.4h0m2.9 3.2h0m1.4-2.9h0m0.4 4h0m2.7-3.3h0m12.4 0.6h0m2.8 0.5h0m7.2-2.1h0m3.6 0.5h0m10.5-0.9h0m1.3 4.1h0m1.8-3.1h0m0.3-0.8h0m14.8 3.9h0m6-0.4h0m-101.8 3.7h0m4.4 3.2h0m8.8-2.4h0m3.1-1.1h0m1.4 2.5h0m1-0.2h0m1.1 0.9h0m3.3-4h0m5-0.8h0m2.5 5.2h0m4.2-1.1h0m4.9-3.8h0m0.3 1.9h0m0.7-0.2h0m0.5 1.3h0m5.3 0.6h0m0.3-0.1h0m1.5 0.5h0m0.1-0.7h0m4.9 1.5h0m1.7-0.6h0m0.4-2.1h0m4.1 0.1h0m3.2-1.8h0m0.3-0.6h0m2.7 0.4h0m3.6 0.3h0m0.1 1.3h0m0.2 1h0m0.5 2.2h0m0.1-3.9h0m7.7 0.1h0m3.2-0.6h0m0.8 3.3h0m23.5 0.4h0m-99.9 4.3h0m21.1-3.3h0m1.2 0.6h0m3.2 5.2h0m3.1-1h0m1.7-4.8h0m0.4 4.8h0m11.8 0.5h0m2.1 0.5h0m4.4-0.2h0m4.5-4.3h0m3.2 2.9h0m1.2-3.9h0m9 5.4h0m5.3-1.1h0m2.9-1.6h0m10 0.3h0m8.6 0.7h0m7.9-0.6h0m-108.2 3.4h0m8.4 4.9h0m3.8-1h0m4-2.3h0m2 1h0m1.9-1.2h0m0.5 2.2h0m0.5 0.8h0m3.9 0.6h0m0.1-0.3h0m0.1-2.9h0m2.9 0.6h0m4.3 0.9h0m5.9 0.7h0m5.4 1h0m2-0.7h0m1.2-3.7h0m2.9-1.4h0m7.8 4.2h0m3.9-1.7h0m0.1 1.6h0m1.4-2.2h0m0.3 0.9h0m8.4-1.7h0m3 0.6h0m0.6 1.2h0m5.5 0.8h0m2.5-2.7h0m0.3 3.5h0m2.5-0.2h0m10.6 1.2h0m0.9-2.6h0m1.5 0h0m2.9-1.4h0m0.3 0.8h0m4.2 2h0m-105.8 6.8h0m4.7-3.6h0m2 1.4h0m5.2 0.4h0m0.1-0.1h0m0 0.4h0m12.6-0.8h0m0.4-0.3h0m8.7-1.9h0m4.5 3.9h0m0.1-2.6h0m0.4-0.6h0m3.3 0.4h0m3-1.3h0m0.4-0.4h0m3.2 1.8h0m15.9-1.4h0m0.7 0.5h0m1 3.8h0m0.1-2.9h0m1.2 0.1h0m0.6 3.4h0m3.4-2h0m0.9-0.3h0m4.6-0.3h0m3.9-2.4h0m2 2.5h0m0.3-2.9h0m0.2 4.9h0m0.2-2h0m4.2 3h0m2.5-2.2h0m1.3-2.7h0m-87.4 8.5h0m8.2-3.2h0m0.1 4.8h0m1-0.5h0m4.3-4.4h0m2.5 3.5h0m5.6-3.7h0m0.5 1.4h0m7.6 0.5h0m4.8 3.9h0m8.7-5.7h0m0.4 4.6h0m0.6-2.3h0m10-1.8h0m2.4 4.8h0m1.9-5.2h0m4.7 1h0m0.5 3h0m5.9-3.3h0m0.5 4.8h0m2.3-5.3h0m4.5 2.4h0m5-1.1h0m12.5 2.4h0m6.3 0.1h0m2.8-3h0m-124.4 10.4h0m11.3-1.5h0m5 0.5h0m0.5-4h0m0.4 2.6h0m2.7 2.1h0m1.9-3.6h0m0.5 0.4h0m0.8 2.5h0m2.9-3.4h0m4.2 1.7h0m3.2 1.8h0m3.6-2.8h0m0.6 2.9h0m6.2-0.6h0m0.5-0.4h0m0.2-2.8h0m0.2 2.9h0m0.2-0.9h0m1-0.8h0m0.8-1.9h0m0.4 3.8h0m3.9-0.3h0m0.7 1.9h0m4.9-3.5h0m0.6-0.2h0m5.8 1.7h0m3.9-2.7h0m2.1 0.1h0m2.1 0.2h0m0.9 3.2h0m2.2-0.6h0m0.6 0.6h0m1.5-0.9h0m0.6 1.7h0m0.1-4.6h0m9 0.5h0m0.6 1.8h0m10.6-2.5h0m5.2-0.3h0m6.6 4.9h0m7.8-4.3h0m2.9 1h0m7.3-0.9h0m-130.1 10.5h0m5.2 0h0m1.7 0.5h0m13.5-1.3h0m2.9-2.7h0m2.7 1.6h0m1 1.3h0m1.4-4.6h0m5.8 5.8h0m1.3-2.3h0m1.6-1h0m0.3 1.8h0m4.4 0.1h0m1.1 0.7h0m3.8-3.6h0m2.6 3.2h0m0.9-0.2h0m3.7-2h0m0.9-1.1h0m4.7 1h0m5.2 3.2h0m0.7-3.1h0m4.1 3h0m3.6-0.4h0m0.8-3.5h0m1.4-1.5h0m0.8 1.9h0m8.2-0.3h0m0.2-0.3h0m0.1-0.6h0m0.6 3.5h0m0.1-3.4h0m0.6 4.7h0m2.6-2.6h0m3.9-1.1h0m1.8 2.5h0m3.6-3.1h0m1.5-1.4h0m-100.5 8.9h0m5.2-2.2h0m0.4 0.9h0m0 1.3h0m1-0.7h0m0.8 0.8h0m0-0.1h0m0.2-2.5h0m1.4 1.3h0m1.1 0.2h0m0.1 0.8h0m1.1-0.4h0m14.4-0.5h0m3.3 0.9h0m4.5 1.3h0m1.7 0.3h0m2.9-1.2h0m1.1-1.9h0m0.9 0.7h0m1.1-0.3h0m3 2.8h0m1.6-2h0m0.6 3.1h0m0.7-5h0m0.4 3.7h0m4.4-3.1h0m0.8 0.9h0m4.4 1.7h0m4-1h0m2.7 1.3h0m0.4 1.6h0m4.2-3.9h0m0.6-0.5h0m5.4 4.1h0m2.5-3.5h0m4.1-1.2h0m3.7 4.1h0m6-0.4h0m1.7-2.7h0m3.1 1.4h0m0.2 0h0m11.2-0.4h0m7.7 0.9h0m4.4 1.1h0m1.9-2.7h0m-118 5.1h0m5.3-1h0m0.2 2.2h0m2.9-1.2h0m1.7 2.5h0m12.8-2.4h0m1.9-0.2h0m3.1 2.4h0m4.4 1h0m4.7-1.8h0m0.1-0.5h0m1.4 3.5h0m0.6 0h0m0.6-5.6h0m1.4 1.4h0m0.2 0.2h0m1.8 2.9h0m2.6-3.8h0m0.4 0.5h0m0.5 1.3h0m5.6 0.5h0m4.1-2.8h0m2.1 5.7h0m0.8-1.1h0m0.7-2.1h0m0.8 0.9h0m6.4 2.1h0m2.5-1.9h0m4.6-0.3h0m0 1.2h0m3.8-0.5h0m7.8-3.6h0m7-0.5h0m0 2.2h0m4.6 2h0m0.7-2.2h0m4.5 0.1h0m6-1.1h0m-63.8 6.5h0m1.3 2.1h0m2.8-2.3h0m1.6-0.8h0m4.1 3h0m0.4-1.8h0m10.2 0.8h0m2.8 1.4h0m7-2.2h0m2 4h0m20.1 0.1h0m1-4.8h0m0.3 0.6h0m1.5 1.9h0m1.2 2.1h0m2-2.1h0m-68.3 6.5h0m9-3.6h0m5.5 0.2h0m0.7 4.7h0m2.2-3h0m3 0.1h0m3.5 1.4h0m1.2-3.9h0m2.9 2.2h0m2.4 0.1h0m6.7 0.9h0m3.1 0h0m1.7-0.1h0m0.7-2.3h0m6.4 2.3h0m0.4 1.2h0m4.5-0.2h0m16 1h0m-58.4 1.5h0m0.6 1.6h0m1.6 3.3h0m7.2-3.8h0m0.1 0.5h0m10.6 3.2h0m3.4-0.7h0m1.1-3.8h0m0.6 1.2h0m4.3 3.7h0m2.2-1.3h0m9 0.1h0m1 1.1h0m8.6-0.2h0m-56.3 1.6h0m1.9-1h0m3 2.3h0m5.5-1.3h0m2.7 4h0m7 0.7h0m0.9-2.7h0m5.1-0.9h0m2 0.7h0m2.5 1.5h0m4.6-0.1h0m1.1 0.6h0m0.2-3.5h0m3 3h0m9.7 0.3h0m-44.9 3.5h0m1.3 0.3h0m2.4-0.8h0m0.9-0.3h0m10.6 4.1h0m2.3-3h0m5.4 0.4h0m1.3 1.3h0m9.3-0.3h0m-30.7 2.5h0m6 1.7h0m3.9 0.5h0m9.4-1.7h0m0.9 2.7h0m4.7-0.2h0m1.7 1.1h0m-16.8 5.2h0m1.6 0.8h0m0.3-1.1h0m1.8 0.1h0m5.2-0.6h0m9.6 0h0m1.9-0.6h0m1.3-1h0m-24 5.6h0m14.9 5.8h0"/>
<path id="f22" d="M884.3 217.1h0m2.6-0.4h0m0 1.2h0m1.2-1h0m0.1 0.8h0m0.8 4h0m1.4-4.8h0m0.1 3.7h0m8 1.2h0m-24.8 5.1h0m6.6-4h0m2.5-0.1h0m1.1-0.7h0m2.1 4.1h0m1-1.8h0m0.6 0.5h0m1.1 2.8h0m1.1-4.5h0m2.8 2.2h0m0.7-0.4h0m1.9 0.4h0m1.8-2.2h0m1.1 3.1h0m2.3-2.4h0m0.1 2.8h0m0.1-3.9h0m0.3 3h0m0.5-2.2h0m9.8 1.5h0m8.3 1.8h0m3.7 0.4h0m23.7 0.3h0m-78.6 6h0m2.1-3.6h0m11.9-0.2h0m4.7-0.2h0m1.1 1h0m1.8-2.2h0m4.3-0.4h0m0.5 5.5h0m1.3-3.6h0m2.5-1.3h0m1.2 2.2h0m0.2-2.1h0m10.2-0.5h0m4 1.8h0m0.4 3h0m2.6-2.6h0m2.9 2.6h0m1.7-1.1h0m6.4 0.7h0m2.4-0.5h0m11.6-1.8h0m1 1h0m4.6-0.9h0m0.7 2.7h0m0.3-0.9h0m0.7 1.1h0m0.5-4.3h0m-85.9 9.4h0m19.9-3.4h0m3.4 1.9h0m0 1.8h0m4.7-2.3h0m1.6 0.9h0m5-1.6h0m6.5 1.5h0m1.1 2.3h0m1.8-4.6h0m2.9 2.7h0m2 0.6h0m3.4-4.1h0m1.1 2h0m1.3 2.3h0m0.8-1.8h0m0.3-2.4h0m1.1 2h0m0.2 1.3h0m1.4 0.3h0m0-3.5h0m0 2.9h0m1.3-0.9h0m13.2 2.5h0m9.8-3.9h0m0.3 0.1h0m5.9 3.8h0m0.3-1.9h0m-91.7 8.9h0m21.2-3.5h0m0.3 3.3h0m3.2-5.1h0m0.7 3.5h0m2.4-1h0m7.6 1.9h0m4.4-0.4h0m4.8 1.3h0m9.7-5.4h0m0.3 0.5h0m2.4-0.5h0m0.1 1.3h0m2-0.1h0m2 1.1h0m1.9-0.5h0m9.3 0.4h0m6.2 1.7h0m6.6-4.2h0m2.9 4.7h0m0.1-4.4h0m3.5-0.2h0m-76.8 5.9h0m1.3 3.7h0m17.9-1.7h0m4-1.3h0m0.7-0.7h0m1 5.5h0m1.4 0.2h0m0.2-4.3h0m4 0.7h0m0.8 0h0m1.8 1.7h0m9.1-3.8h0m5.8 3.2h0m6.6-0.6h0m1.1 2.9h0m3.3-2.2h0m0.9-0.4h0m16.1 0.6h0m3.3-1.4h0m-86.7 6.5h0m0.6 1.7h0m1.3 1.3h0m8.8-1.9h0m4.7-2.9h0m1.9 4h0m5.1-2.3h0m6.6 0h0m0.7 2.1h0m26-0.5h0m0.3-0.3h0m5 0.5h0m2.6-2h0m1.1 0.2h0m0.7-0.5h0m7 3h0m0.7 0.7h0m0.3-3.9h0m1.1-1.3h0m8.3 3.5h0m5.4-0.9h0m1.3-1.9h0m2.7 2.9h0m0.6 0.4h0m1.9-3h0m1.2 2.4h0m0.2-2.2h0m2-1.7h0m0.9 2.3h0m-105.9 3.6h0m2.1 4.4h0m7.2-3.9h0m5.8 4.5h0m16.3-4.7h0m27.6 1.5h0m2.9-1.2h0m0.9 3.1h0m1.6-0.2h0m13.3 2.3h0m0.6-4.7h0m10.9 0.8h0m1.5 3.4h0m1.3-3.1h0m1.4-0.9h0m1.3 1.7h0m6.7 2.9h0m1.8-3.6h0m8.7-0.1h0m-121 5.5h0m11.9 3.7h0m15.6-3.1h0m19.4 1.9h0m2.3-3.9h0m1.5 5.4h0m6.1-4.5h0m0.7-1h0m1.8 4.8h0m2.7 0.5h0m4.7 0.3h0m4.9 0h0m0.6-3h0m0.2-1.8h0m0.6 2.8h0m0.5 0.5h0m2.3-3.3h0m5 1.9h0m1.4-1h0m1-0.3h0m0.6 2.8h0m6.8-1.3h0m10.5-1.8h0m0.3 1h0m9.2-0.7h0m0.2-1.2h0m6.5 5.4h0m0.4-4.3h0m-124.4 9.6h0m3.4-0.8h0m1 1.4h0m2-4.7h0m4.3-0.9h0m7.6 1.4h0m2.1 1.2h0m6.2 2.2h0m11.5 0.7h0m14-1.1h0m5-4.4h0m6.6 5.7h0m4-1.5h0m2.4-1.2h0m4.3-1.7h0m5.5 0.5h0m3.6-1.1h0m1.5 2h0m5.8 0.4h0m2.5-1.8h0m5.4 1h0m2-1.7h0m7.7 0h0m1.2 0.4h0m0.6 1.8h0m2.8 1.7h0m0.8-1.5h0m3.3-3h0m1.5 0.3h0m0.6 0.3h0m0.5 4.5h0m2-4.4h0m0.5 0.6h0m1.8 0.8h0m0.6 3.5h0m3 0.1h0m7.6-5.7h0m-128.4 10.8h0m1.9-4.6h0m26.3 5.5h0m1.3-3.5h0m1.7-1.8h0m1.7-0.2h0m5 2.8h0m2.2-0.2h0m0.4-0.9h0m0.5-1.5h0m2.8 1.7h0m1.1 3.2h0m1.1-2.2h0m3.3-2h0m1.3-1.2h0m2.9 2.2h0m3.2 3.5h0m7.5-0.8h0m2.3-3.2h0m3.6 0.7h0m8.2-0.3h0m3.5-1.2h0m0.4 0.1h0m0.9 2.7h0m0.3-2.8h0m0.6 2.3h0m1 0.8h0m1.2-1.5h0m3.6-0.5h0m0.5-0.5h0m3.7 3.6h0m0.6-4.8h0m0.4 3.9h0m4.9 0.9h0m1.3-0.7h0m10-1.4h0m3.2-1.2h0m3.9-0.5h0m0.4 1.1h0m0.1-1.2h0m0.3-0.4h0m0.1-0.1h0m-119.8 10.5h0m0.9-3.6h0m1.9 1.7h0m8.6 2.7h0m0.1-1h0m13.1-0.2h0m2.8-3.2h0m2.6 2.7h0m4.6-2.1h0m7.1 1.6h0m3.4 0.9h0m2.3-0.5h0m1.2 0.8h0m2 0.4h0m7-1.5h0m1.2-3.3h0m3.9 2.1h0m2-1.7h0m0.1 4h0m1.2 0.3h0m1.9-2.2h0m0.4-2.4h0m1.2 2h0m9 0h0m2.5-1h0m2.6-1.7h0m0.3 1.6h0m1.3 0.8h0m0.2 1.2h0m3.4-2.9h0m0.9 2.6h0m5.5 0.6h0m1.3-0.9h0m2.6-2.5h0m4.3 1.6h0m0.6-1.1h0m8.9 3.6h0m6.1-2.7h0m5.3-0.2h0m4.2 4.3h0m2.8-0.1h0m-136.6 4.9h0m3.8-1.5h0m5.8-0.3h0m9.7 2.5h0m10.6-0.1h0m3.8-2.9h0m0.4-1.7h0m7.6 2h0m0.4 0.8h0m2.1-1.5h0m4.7 0.7h0m0.6 3h0m4.2-0.7h0m7.7 0.4h0m0.1 0.2h0m0.5 0.3h0m2.7-0.2h0m6-0.7h0m0.4-3.6h0m5 1.3h0m1.6 0.7h0m0.6 2.3h0m0.4-0.6h0m3.9-0.7h0m5.8-0.7h0m4.6-2.6h0m2.3 0.5h0m2.1-1.4h0m2.2 4.8h0m7.3-4h0m0.5 1.3h0m4.4-0.2h0m3.5 1.2h0m3.4-1.5h0m1.3 1.6h0m0.9 2h0m2.1-5.4h0m0.2 3.8h0m0.3 0h0m3.3-0.1h0m0.4 1.7h0m3.6-0.5h0m2.1-1.1h0m-120.9 4h0m7.1-1h0m6.7 3.8h0m5.1-0.6h0m0.6-0.9h0m1.8 1.7h0m3.6-1.9h0m0.3 0.4h0m1 1.4h0m0.1-1.2h0m0.7 0.5h0m1.1-0.9h0m1.7 2.7h0m0.3-1.2h0m1.9-1h0m3.4-3.3h0m3.9 5h0m1.5 0.4h0m2.8-0.2h0m0.6 0.3h0m2.6-3.7h0m5.5 3.4h0m0.6-3.6h0m7.1-1.7h0m8.8 5.2h0m2.3 0.2h0m1 0.2h0m2.3-1.5h0m5.4-3.4h0m2.4 1.7h0m2.8-0.8h0m2.7 1.9h0m5.7-1.9h0m3.3 3.6h0m0.7 0h0m0.8-1h0m0.1-2.5h0m4.7 1.7h0m1 0.1h0m3.6 0.2h0m0.3-3.1h0m0.4 2.5h0m7.5-0.7h0m2.2-0.2h0m3.5 2.5h0m2.6-3.8h0m-120.1 7.2h0m1.5 0.5h0m3.4 0.3h0m1.6 1.4h0m0.5 0.2h0m2.1-2.4h0m0.5-1.9h0m11.1 5h0m0.3-3h0m5.7-2.4h0m5.2 0.2h0m1.4 3.4h0m0.2 0.4h0m0.7-2.9h0m4 3.2h0m1.4-0.3h0m4.1 1.8h0m0.8-1h0m2.5-0.6h0m3.2 1.2h0m1.5-3.1h0m0.1-1.8h0m1.7 3.2h0m0.7-2.5h0m1.1-0.2h0m0.9-0.2h0m2.6 0.7h0m0.8 3.7h0m3.3-0.3h0m6.8-3.5h0m6.7 0.2h0m2.9 2h0m2.5-3.7h0m4.1 2.4h0m1.9 0.6h0m0.6-1.4h0m3.3 0.5h0m1.4 0.8h0m4.1-1.3h0m2.1 3.3h0m13.2 1h0m3-1h0m3.8-0.2h0m0.4-3.3h0m14.5 4.5h0m0.7-1.4h0m0.1 1.2h0m2.3-3.7h0m0.1 1.1h0m-143.4 7h0m9.4 1.7h0m2.1-5.4h0m2.5 4.5h0m2.1 0.5h0m17-0.7h0m2.9-4.3h0m1.1 3.4h0m1.9-3.6h0m4.5 3.8h0m1.4-2.5h0m4.2-0.6h0m1.5 3.3h0m3.2-1.6h0m0.8 2.9h0m0.2-0.1h0m0-5.1h0m0.9 2.8h0m1.8-1.5h0m2.5-1.1h0m5.1 2.8h0m0.4 0h0m1.8 2.5h0m0.7 0.1h0m0.2-1.4h0m0.2-3.2h0m4.6-0.1h0m0.8-1.1h0m0.8 1.8h0m1.1 0.9h0m2.7-1.2h0m1.6 0.3h0m0.1 3.1h0m9.9-2.3h0m0.2 2.1h0m2.4-2.4h0m0.6 1.7h0m1.6-1.8h0m0.6 2.3h0m1.7-2.5h0m1.5 1.2h0m1.5-2.9h0m0.2 5.2h0m0.4-3.5h0m0.1 0h0m1.5-0.6h0m7.5-0.9h0m2.7 1.2h0m27.4-0.8h0m0.1-0.9h0m-137.2 8.1h0m7.1 0.1h0m7.4 0.8h0m2.3-2.8h0m1.2 3.8h0m0.7-0.1h0m0.7 0.3h0m0.7 0.3h0m1.8-4.3h0m0.2 2.7h0m2.7-0.8h0m3 3.3h0m0.9 0h0m0.6-3.3h0m1.6 3.1h0m5.4-4.1h0m10.3 1.6h0m0.2-0.1h0m7.5 0.1h0m6.2-2.5h0m6.6 1.1h0m3.7 4.6h0m5.9-2h0m0.5-4h0m2.1 1h0m0.2 2.4h0m6.7 0.3h0m8.1-2.4h0m1.3 0.7h0m0.3-0.3h0m8.9 2.7h0m12.7 0h0m1.6-0.3h0m2.2 0.5h0m-117.9 3.8h0m16.2 0h0m1.9 0.7h0m0-1.5h0m0.9-1.1h0m7 1.1h0m4.4-1.5h0m1.1 3.7h0m0.5 0.1h0m1.5-1.2h0m2.3 0.9h0m2.4-2.9h0m1.1 4.4h0m2.5-2.1h0m0.9 0.4h0m2.9-0.9h0m1.4 2.3h0m4.6-0.8h0m2.5-3.6h0m2-0.1h0m1.5 1.6h0m1 3.6h0m7.5-2.9h0m0.7-1.7h0m2 2h0m0.2 0.6h0m1.7 1.3h0m0.2-1.7h0m0.9-2h0m1.1-0.8h0m1-0.1h0m3.8 1.8h0m2-1.2h0m4.3 1.8h0m0.4 1.3h0m0.5-3.6h0m0.9 0.4h0m0.4 4.9h0m3.8-2.6h0m0.1-2h0m0.9 2.8h0m12.3-0.3h0m9.8 1.1h0m0.6 0.7h0m9.5-2.7h0m-105.8 7.7h0m0.2 0.6h0m7.9-1.1h0m0.3-1.7h0m0.9-0.2h0m0.9 3.6h0m10.1-0.5h0m0.4 0.3h0m7.8-2.4h0m1.4-1.4h0m8.3-0.1h0m3.7 3.6h0m10.4-4.3h0m2.4 1h0m0.2 1.4h0m2.9 1.8h0m3-2.8h0m7.5 1.3h0m0.5 0.5h0m0.6 1.3h0m0.9-0.6h0m0.3-2.9h0m2.4 3.3h0m13.4-3.5h0m2.3-0.3h0m11.2 2.5h0m-112.9 4.1h0m8.1 0.6h0m3.2-1.6h0m7 4.5h0m3.1-1.2h0m2.2-0.5h0m4 1.2h0m0.1 0.8h0m2.1-0.5h0m0.5-4.8h0m9 4.8h0m0.1-4.4h0m4.6 0.6h0m5.3 4h0m3.4 0.7h0m0.1-0.8h0m1.9-1.6h0m3.6 0.2h0m0.4 0.2h0m0-3.4h0m0.3 0.8h0m3.4 0.9h0m4.5-2.2h0m1.3 2.9h0m0.1 1.6h0m1.9-3.2h0m1.5 0.8h0m0.8 1h0m1.4 1.3h0m3.2-2.2h0m5.2-2h0m5.3 5.6h0m6.3-0.5h0m2.2-2.7h0m7.2-0.7h0m0 3.9h0m5.4-1.2h0m4.5-3.3h0m-115.9 9.6h0m7-2.7h0m26.4 0.7h0m0.6 1.6h0m4.2-1.8h0m6.3-2.6h0m3.2 5.4h0m0.5 0.3h0m3-3.4h0m3.4 3h0m4.4-0.3h0m0.3-1.9h0m1.7-1.7h0m4.6 3.3h0m0.1-3.2h0m0.9-0.3h0m5.9 2.4h0m0.3 1.5h0m0.5-0.2h0m1.4-0.2h0m2.4-4.1h0m0.8 1.5h0m1.2-1.7h0m0.1 1h0m10.9 1.9h0m4.6 0.4h0m1.4 0.1h0m7.3 1.7h0m3.5-1.5h0m2.7-2.5h0m2.2 3.1h0m0.8 0.9h0m0.5-0.7h0m1.8-3.4h0m2.4 1h0m-121.2 7.9h0m7.2 1.3h0m10.4-4h0m9.2 0.8h0m0.1 0.9h0m12.1 0.9h0m15.6-0.5h0m1.1 0.7h0m4.7 0.6h0m0.3-3.7h0m0.1 3.1h0m1.1-0.7h0m1.6-3.7h0m0.2 0.6h0m1 5h0m0.5-3.9h0m1.8 2.3h0m3.1 0.4h0m0.7-1.4h0m0.9-2.6h0m2.8 1.8h0m1.7 1.9h0m11.4 1.5h0m0.7-5.5h0m0.7 3.1h0m2.8-1.2h0m2.3-0.6h0m12.2-0.2h0m4 1.1h0m7.5 1.5h0m10.5-3.5h0m-120.7 7.3h0m27.4-0.4h0m8.2 4.1h0m15.7-3.3h0m1.5 1h0m9-2.7h0m1.5 0.3h0m22.9 0.7h0m2.5-0.8h0m1.7 3.7h0m-97.9 4.8h0m9.7 1.9h0m3.7-1.8h0m12.7 2.7h0m24.4-5h0m3.1 2.5h0m11.9-2.2h0m0.6 3.9h0m-58.2 4.1h0m3-3.2h0m0.3 5.5h0m36.6-2.7h0m4.9 2.6h0m20.4-4.8h0m-75.5 8.3h0m14.9-0.6h0m22.6 0.1h0m5.9-0.9h0m8.1-0.7h0m12 3.8h0m16.1-2.9h0m1-0.3h0m-76.8 7.5h0m8.2-0.6h0m13.1 2.8h0m7.6-4.3h0m29.3 4.7h0m6.1-4.8h0m1.5 3.5h0m8.9 1.5h0m8.1-3.6h0m4.5 0.9h0m-28.1 6h0"/>
<path id="f32" d="M942.3 226.1h0m1.7 0.1h0m0.1 1.7h0m1.2-0.7h0m0.8-0.6h0m0-0.5h0m2.2 1h0m1.7-1.4h0m-49 25.2h0m-10.6 2h0m18 17.2h0m23.3 1.7h0m12.5 2h0m-112.9 5.4h0m0.9 2h0m76.3-2h0m31.4-2.4h0m-118.6 6.9h0m12.6 3.3h0m71-1.4h0m2.7-0.2h0m29.5 1.9h0m-109.2 2.2h0m20-0.2h0m56 0.8h0m15.7 2.4h0m13.8-1.5h0m-98.4 5.7h0m39.6-0.7h0m30.1 1.3h0m11.3 1.5h0m4.7-1.8h0m19.8-2.4h0m-94.6 6.2h0m8.2 0.9h0m2.1 0.4h0m8.9 1.7h0m21.4 1h0m46.1-2h0m72.8 2h0m0.4-1h0m0.8-0.7h0m0.1 1.4h0m-178.8 7.1h0m5.2-0.8h0m0.9 0.2h0m1.5-2.8h0m8.7 1.6h0m2.7-1.6h0m1.5 3.5h0m14.6-1.4h0m0.5-0.9h0m3.4 0.9h0m1.1 0.2h0m5.9-0.5h0m0.9-0.5h0m2.9-0.3h0m3.3 0.6h0m7 1.4h0m2.9 0.7h0m17.4-3.7h0m12.6 2.7h0m15.4-4h0m-121.8 9.9h0m18.3-0.9h0m10.6-1.5h0m6.6-1.7h0m4.6 1.4h0m0.9-1.7h0m2 3.6h0m1-2.1h0m0.2 2.7h0m0 0.7h0m2.1-0.8h0m11.8 1.3h0m3-0.9h0m2.2-0.8h0m0.8-3.4h0m2.8 1.9h0m0.7 1h0m0.6 0.4h0m2.6-3.8h0m4 4.6h0m19.2-2.9h0m2.7 1.2h0m16.3 1.7h0m-99.6 4.6h0m6.6 0.1h0m5.3 2h0m5.3-0.5h0m2.8-1.7h0m9.6 0.6h0m2.5-3.7h0m1.2 3.1h0m2.8-2h0m1.1 2.7h0m0.6 1.6h0m1.8-2.1h0m6.6-1.9h0m13.7 0.4h0m1.5 3.8h0m0.3-5.6h0m7.5 0.7h0m4.7 1.3h0m13.5-2.2h0m0.8 0.5h0m19.6 0.2h0m12.5 5.1h0m-129.5 2.8h0m5.7-2.2h0m0.2 4.9h0m9.4-0.5h0m1.4-0.3h0m1.2-3h0m2.5 4h0m0.8 0.4h0m1.9-2h0m1.3-0.7h0m1.2 0.8h0m7.8-1.9h0m0.5 0.8h0m6 1.1h0m1.1-2.2h0m8.3 1.4h0m1.6-2.8h0m13 1.5h0m3.1-1h0m0.9 3.6h0m0.9-3.6h0m1.2 2.7h0m0-1.6h0m3.1 2.2h0m1.6 1.1h0m2.5-1.3h0m0.9-1.1h0m1.6-2.2h0m14.9 0.9h0m-99.3 8.2h0m5.8 1.7h0m0.6-4.2h0m0.4 2.3h0m0.6 0.8h0m0.7-0.2h0m1.8-0.2h0m2.5 0.3h0m1.6 1h0m3.7 0.6h0m2.9-3.9h0m0.6 1.5h0m0-1.8h0m0.3 2.6h0m0.1 0.9h0m1-4.2h0m1.2 0h0m0.6 0.9h0m0.9 4h0m0.4-0.9h0m1.5-0.5h0m0.1-4.4h0m0.2 4.8h0m0.3-3.3h0m0.7 0.9h0m1.1-1.3h0m0.6 2.7h0m0.3-3h0m0.7 1.9h0m1.9-0.3h0m1.3-2.3h0m0.5 2.3h0m1.6 3.1h0m0-0.4h0m1.2-3.4h0m4.2-0.9h0m2.1 4h0m2.7-2.9h0m0.3 3.9h0m0.7-2.6h0m3.1-0.6h0m5.1-0.2h0m2.5 0.5h0m2.5-0.7h0m1.3 2.8h0m2.8-0.9h0m0.9 0.8h0m10.7-0.6h0m20.8-3.3h0m-95.7 7.8h0m0.1 0.1h0m0.4-0.8h0m0.2-1.8h0m0.3 4.5h0m0.2-3.6h0m0.6 1.7h0m0.2-1.5h0m0.1-0.1h0m0.1 0.8h0m0 3.3h0m0.9-0.6h0m1.1-0.9h0m0.4-0.2h0m0.4-3.5h0m0.1 2.4h0m0.2 0.4h0m0.3-0.5h0m0.1 3.2h0m0.1-0.7h0m0.1-1.2h0m0.4-0.4h0m0.1-1.8h0m0.1 3.6h0m0.2-0.7h0m0.4-0.7h0m0.3 0.2h0m0.2-2h0m0.1 1.4h0m0.1 2.3h0m0.1-4h0m0.1 0.4h0m0.4 1.9h0m0.7-0.2h0m0.6-3.1h0m0.1 4.7h0m0.7-2.9h0m0.2-1.2h0m0.4 3.9h0m1-0.5h0m0.9-0.6h0m1.1-3.7h0m2.8 1.2h0m1.6 1.1h0m0.6 0.2h0m0.4-0.2h0m0.3 0.4h0m1.2-0.1h0m0.2-1.2h0m0.6 3.9h0m1-0.8h0m1-1.5h0m0.1 1.9h0m0.3-4h0m0.7 1.4h0m1.6-2h0m0.1 0.3h0m0.6 0.2h0m0.2 0.8h0m0.5 1.9h0m1.2-1.4h0m0.4-2.1h0m0.8 1.6h0m0.3-1.9h0m2.5 0.6h0m4.1 2.5h0m3.8-2.2h0m0.1-0.7h0m1.8 3.8h0m4.6-2.8h0m0.8 0.7h0m0.9 2.7h0m0.9 0h0m2.9 1.1h0m4.9-1.1h0m5.9-0.9h0m9-1.5h0m0.5 2.5h0m2.6-3.7h0m4.2 2.8h0m15.6-1.1h0m-100.3 6.2h0m3.4 0.7h0m1.2-1.7h0m1.8-0.6h0m0.3 1.9h0m0.7 0.2h0m0-2.8h0m0.5 3.2h0m0.1-0.9h0m0.3-2.8h0m0.1 5.2h0m0.7-2.5h0m0.8-2.5h0m0.5 4h0m0.8-0.4h0m0.3-2.7h0m0-1.2h0m0.1 0h0m0.3 1.3h0m0.2 0.2h0m0.1-0.7h0m0.1 4.8h0m0.7-5.1h0m0-0.3h0m0.2 3.9h0m0.9-2.3h0m0.3 2.4h0m0.3-0.9h0m1-3h0m0.1 3h0m1.6-1.9h0m0.6 3.1h0m7.3-4.4h0m1.4 2.3h0m1.4-2h0m0.5 4.3h0m0.1-1.5h0m0.4-1.8h0m1.1 1.1h0m3.8 0.2h0m7.8 1.3h0m3.6 1.6h0m1.6-4.9h0m2.8-0.4h0m4.6 0h0m12.2 2.8h0m0.5-1.5h0m1.4 1.3h0m2.6 2.4h0m5.8-3.9h0m14.3 4.4h0m0.3-2.1h0m7.6-2.3h0m22.1 1.4h0m-115.5 4.5h0m5.6-0.9h0m2.7 2.1h0m0.1-1.7h0m0.8 0.7h0m13.9-0.6h0m0.9-1.1h0m0.3 3.6h0m2.2-0.5h0m4.1 1h0m2.4-3.9h0m2.3 2.4h0m10 1h0m0.5 1h0m3-3.1h0m3.1 3.5h0m0.4 0.7h0m4-2.2h0m2.3-3.1h0m0.9 1.5h0m1.5-0.3h0m5.3-0.2h0m6.3-0.9h0m1.2 4h0m5-0.2h0m29.4-4h0m-105.2 10.3h0m0.9 1.1h0m0.8-5h0m2.1 0.9h0m0.1 0.2h0m2.1 2.4h0m3.7 0h0m2.6 0.5h0m1.5 0.5h0m3.3-4.8h0m3.7 4h0m2.2-4.1h0m1.5 4.1h0m10.3-2.1h0m7.6 1.8h0m0.1 1.7h0m4.8-5h0m2 2.3h0m1.6 1.8h0m0.6-3.9h0m1.4 2.8h0m1.1-0.2h0m0.9 1.6h0m5.1-1h0m7.7-4.1h0m5.1 4h0m0.1-0.8h0m2.4-2h0m0.7-0.2h0m11.2 1.9h0m1.4-0.9h0m-89.1 8.4h0m2.3 0.3h0m6.2-0.9h0m2.2-3.6h0m0 3.5h0m4.4 0.6h0m13.4-1.6h0m1.6 3.1h0m4.2-1.3h0m4.1 0.9h0m1.1-4.7h0m1.1 0.2h0m2.7-0.3h0m1.6-0.5h0m1.1 4.4h0m3.2-0.7h0m1.6 1.9h0m2.5-1.6h0m4.1-2.8h0m0.9 3.2h0m0.4 0.9h0m10.2-3.2h0m0.7-0.3h0m0.3 0.4h0m8.9 2.6h0m1.6-0.1h0m4-1.8h0m26.6-1.1h0m14.4 2.8h0m-121.4 3h0m8.4 3.2h0m0.7-3.8h0m4.1 2.1h0m4.3 0.4h0m1.6-2.7h0m0.7 4.9h0m0-1.2h0m2 0.6h0m4.2-5.2h0m4.2 3.3h0m3.1-2h0m0.1 0.1h0m4.4-0.3h0m0.8 0.1h0m1.4 0.5h0m0.9 1.6h0m0.9-2.1h0m1-0.1h0m0.1 3h0m0.1 0.8h0m2.1-4h0m0.4 3h0m2.1 0.9h0m0.3-1.8h0m2.7-2.3h0m0.3-0.3h0m1.8 0.9h0m1.5 1.1h0m3.2 2.9h0m3.6-1.2h0m0.1 1.6h0m1.2-3.6h0m1.2 1.9h0m0.1-2.2h0m1.5 2.2h0m0.3-4h0m1.5 1.9h0m4.2-1.1h0m0.1 1.6h0m1.4-1.6h0m1.3 1.9h0m6.5-2.2h0m6.4 5.3h0m-67.5 0.3h0m9.9 1.6h0m14.2 4.1h0m7.1-2.8h0m6.5 0.9h0m0.3-3.7h0m5.6 0h0m6.6 2.6h0m3.1-0.2h0m0 1.1h0m8.5 0.7h0m28.6-2.4h0m13.9 3h0m-94.2 5h0m4.7 0.6h0m1.7-0.7h0m4.8-3.4h0m0.7 2h0m0.2 2.4h0m2.7-0.2h0m3.6-3.1h0m0.1 2.6h0m3.6 0.1h0m1 1.2h0m3.9-0.3h0m0.5-3.4h0m5.6 1.8h0m0.9-0.2h0m8.1 2.1h0m0.9-0.5h0m0-2.7h0m1.9-0.1h0m13 0.9h0m2-0.3h0m70.9 2.4h0m-126.1 5.3h0m1-2.4h0m0.7-0.6h0m0.8 1.2h0m1.9-1.5h0m1.1 2.9h0m4.3 0.5h0m0.3-2.4h0m5.2 0.5h0m7.4-2.2h0m2.1 3h0m5.2 0.5h0m6-0.4h0m2.2 0.8h0m1.8-1.9h0m2.4-1h0m2.9 2h0m9.2-0.3h0m-67.1 4.5h0m10.5-0.7h0m3.5-0.5h0m4.3 4.6h0m0.7-4.6h0m1.9 3.3h0m0.4 0h0m26.3-2.8h0m8.9 0.3h0m0.1-1.2h0m25.1 5.5h0m1.9-4.8h0m3.7-0.3h0m49.3 4.2h0m-120 2h0m7 0.6h0m4.9 0.8h0m0.3 3.8h0m0.9-4.2h0m3.4 3.6h0m0.2-4.5h0m1.6 0h0m4 2.2h0m1.9-3h0m19.6 0.2h0m-33 6.2h0m2.8 0.2h0m3.2 2.1h0m0.6 0.8h0m1.4-1h0m5.7-0.1h0m6.3-1.2h0m4.2-0.5h0m18.4 2.9h0m17.5-0.5h0m30.2 1.3h0m-95.1 7.3h0m5.1-0.8h0m0.4 0.3h0m0.3 0.3h0m0.3-0.6h0m2.5-4h0m6.5 2.6h0m0.7-2.9h0m1.7 5h0m14.2-4.7h0m-39.7 7.9h0m0.7 0.1h0m4.3-2.5h0m7.4 2.4h0m2.1-0.3h0m0.2-0.8h0m4.8 4.1h0m0.5-4.1h0m3.1 4h0m1.5-0.9h0m3.3-2.8h0m4.2 0.9h0m0.1 0.6h0m0.2-2.3h0m1.5 3.4h0m10.6-3.4h0m8 2.5h0m13.6 0.7h0m26.2-1.1h0m-92.4 6.3h0m2.8-2.7h0m1.1 1.1h0m5.5 1.1h0m2.6-1.3h0m0.4 3.8h0m3-2.2h0m1.9-1.6h0m1.6-1.1h0m0.9 1.9h0m1.8 3h0m2.3-2.2h0m0.8 1.3h0m4.1-1.1h0m2.7 0.7h0m0.4-4.2h0m1.1 2.1h0m-32 7.4h0m0.8-1.2h0m0.9 3.5h0m0.4-4.7h0m6.5 0.5h0m0.4 2.8h0m0.6-0.3h0m0.4-3h0m0.8 2.4h0m2.7-1.6h0m1.3-1.8h0m2.3 0h0m3.2 1.5h0m2-0.6h0m6.1 3h0m0.3-1.7h0m0.1-1.1h0m0.7 1.5h0m1.9 1.7h0m0.8-1.8h0m2 2h0m-40 2.4h0m1.9 3.3h0m1.5-1.7h0m1.3-1.6h0m0.4 0.4h0m2.7 3.6h0m4.8-0.3h0m3.7 0.9h0m1.9-2.9h0m2.6-2.8h0m5.6 5.1h0m1.5-1.9h0m2.2-2.1h0m5.7 0.3h0m4.6-1.4h0m-29.1 6.9h0m0.9 1.4h0m0.7-0.4h0m0 0h0m3.6 1.4h0m4-3.1h0m3.4 2.4h0m6.3 0.4h0m0.1-0.2h0m0.4 0.2h0m1.8 1.5h0m1.4-2.5h0m-16.9 4h0m10.2 0.1h0"/>
<path id="f42" d="M948.1 228h0m-12.7 16.2h0m-0.4 25.2h0m-52.7 24.9h0m8.9 22.7h0m-1.1 2.5h0m-108.6 33.4h0m3.9-0.1h0m0-2.2h0m0.7-2.3h0m0.4 0.6h0m0.9 1.1h0m0.1-1.4h0m0.1 4.2h0m0.6 1.2h0m0.5-1.5h0m0-0.2h0m1 0.9h0m0.7-1.2h0m1.3-0.1h0m0.3-0.8h0m1.9-0.4h0m1.8 2.5h0m0.3-0.1h0m-11.7 4.8h0m0.4-0.4h0m1.7 0.9h0m0.1-1.9h0m0.1 0.2h0m0.4 0.4h0m0.4 1.8h0m0.5-2.8h0m0.2 2.8h0m0.1-1.5h0m0.4-3h0m0.2 4.5h0m0.3-3.1h0m0.2-1.2h0m0 0.7h0m0 0h0m0.2 2.4h0m0.1-2.1h0m0.1-0.8h0m0 3.1h0m0.2-2.1h0m0.5 0.8h0m0.2-0.6h0m0 2.5h0m2.7 0h0m1.4-2.4h0m46.7-0.7h0m0.1-0.8h0m3.9 1.4h0m0.6-0.2h0m-60 4.2h0m0.8 0.2h0m7.5 4.7h0m2.6-0.2h0m0.7 1.1h0m0.2-3.5h0m1.1 0.2h0m0.5 1.5h0m1.3 1.9h0m29.8-0.1h0m0.6-2.3h0m1.3-3h0m1 5.1h0m1.4-2.2h0m0.4-0.3h0m0.8-2.5h0m0.2 3.1h0m0.3 0.4h0m2-1.7h0m3.7-2.2h0m1.6 2.1h0m1.8 3.7h0m-14.5 2.6h0m1.2 3.4h0m0.4-4.6h0m0.1 4.6h0m0.1-0.1h0m0.1-2.6h0m0.5-0.2h0m0.8-0.9h0m0.3-0.2h0m1.3 2.4h0m0.5-1h0m0.1 1.3h0m0.1-2.2h0m0.2 0.9h0m0.1-0.9h0m0.2-2.1h0m0.6 1.8h0m0.4 1.7h0m0.8 0.4h0m0.1-0.9h0m0.5-1.2h0m0.2-2h0m0.2 5.5h0m1-3.6h0m0.4 3.6h0m0.2-1.7h0m0.2-3.5h0m0.2-0.3h0m0.1 4.7h0m0.6-0.9h0m1.8 0.3h0m0.9-1.8h0m2.3-0.8h0m-20.7 7.4h0m1.9-0.5h0m0.9 3.1h0m1.4-3.7h0m0.1-1.8h0m0.4 4.9h0m0.8 0.6h0m0.9-3.4h0m1.6 2.9h0m0-3.4h0m0.1 1.5h0m1.9 1.2h0m0.4-1.4h0m0.9-2.6h0m0.2-0.1h0m0.8 2.2h0m0.3 0.4h0m0.1 2.2h0m0.8-5.1h0m0.5 1.4h0m0.2 1.8h0m0-0.8h0m0.3-2.2h0m0.4 2.5h0m1.3 1.5h0m0.1 0.4h0m0.2-1.3h0m0.8-1.6h0m0.2 4.1h0m0.7-5.2h0m1.8 1.2h0m1.1 1.2h0m1.1-1.2h0m0 1h0m-15.4 6.3h0m0.2 0.6h0m1.1-3.1h0m1.1 1.5h0m1.5-2.1h0m0.3 4.6h0m0.9-4.7h0m0.3 3.2h0m36.6 2.2h0m-38.4 1.5h0m-11.6 16.4h0m1.3-2.8h0m1 1.9h0m1.1 0.9h0m0.2-1.4h0m1.9 0.9h0m2 0.2h0m0-1h0m1 0.1h0m-10.8 2.5h0m4 1.3h0m0.2-0.2h0m0.1-1h0m0.9 0.9h0m2.5 1.7h0m0.1-3.2h0"/>
<clipPath id="cb"><rect x="774.1" y="207" width="259" height="260"/></clipPath>
<clipPath id="cd"><rect x="97.3" y="688.2" width="240.7" height="241"/></clipPath>
<linearGradient id="zg" x1="0" y1="0" x2="0" y2="1"><stop offset="0" stop-color="#CD2626"/><stop offset="0.5" stop-color="#fff"/><stop offset="1" stop-color="#000080"/></linearGradient>
<linearGradient id="hg" x1="0" y1="0" x2="0" y2="1"><stop offset="0" stop-color="#8B0A50"/><stop offset="0.25" stop-color="#B2527A"/><stop offset="0.5" stop-color="#F2D2BC"/><stop offset="0.72" stop-color="#A9B0BC"/><stop offset="1" stop-color="#114B8B"/></linearGradient>
<linearGradient id="ig" x1="0" y1="0" x2="0" y2="1"><stop offset="0" stop-color="#FF1800"/><stop offset="0.18" stop-color="#FF8C00"/><stop offset="0.36" stop-color="#FFFF10"/><stop offset="0.5" stop-color="#8C8C70"/><stop offset="0.66" stop-color="#1010FF"/><stop offset="0.85" stop-color="#000070"/><stop offset="1" stop-color="#000010"/></linearGradient>
<filter id="bl" x="-10%" y="-60%" width="120%" height="220%"><feGaussianBlur stdDeviation="1.3 0.9"/></filter>
<filter id="bl2" x="-10%" y="-60%" width="120%" height="220%"><feGaussianBlur stdDeviation="2 1.4"/></filter>
</defs>
<g id="panel-a">
<text x="54.5" y="190.7" font-size="48.5" font-weight="bold">a</text>
<line x1="162" y1="258.3" x2="419.9" y2="258.3" stroke="#d9d9d9" stroke-width="1" stroke-dasharray="4 4"/>
<line x1="162" y1="327.5" x2="419.9" y2="327.5" stroke="#d9d9d9" stroke-width="1" stroke-dasharray="4 4"/>
<line x1="162" y1="396.3" x2="419.9" y2="396.3" stroke="#d9d9d9" stroke-width="1" stroke-dasharray="4 4"/>
<g filter="url(#rough)">
<path d="M192.1 326.6L199.8 324.4L208.6 321.1L226.3 316.5L238.3 310.4L244.3 308.4L249.3 313.5L263.6 326.6L274.6 334.3L279 347.5L290 350.8L312 348.6L334 354.1L345 357.4L347.2 362.9L352.7 364L352.7 369.5L345 375L345 381.6L340.6 388.2L341.7 392.6L336.2 398.1L330.7 399.2L326.3 395.9L318.6 399.2L313.1 403.6L313.1 411.3L309.8 412.4L304.3 406.9L296.6 406.9L292.2 403.6L285.6 408L282.3 414.6L288.9 415.7L296.6 417.9L293.3 422.3L285.6 426.2L273.5 426.2L268 421.2L261.4 419L255.9 415.7L252.6 408L246 402.5L240.5 403.6L235 406.9L233.9 410.8L228.4 408L221.8 405.8L216.3 401.4L206.4 398.1L203.1 391.5L202 383.8L195.4 378.3L191 373.9L187.7 367.3L189.9 356.3L191 344.2L196.5 336.5L193.2 331Z" fill="#EFAD3C"/>
<path d="M236.3 226.4L239.6 224.2L247.3 223.1L255 221.5L259.4 217.6L266 214.3L274.8 214.9L281.4 218.7L283.6 215.4L279.2 212.1L285.8 209.9L291.3 211L292.4 206.1L296.8 209.9L303.4 211L310 213.2L315.5 216.5L315.5 222L312.2 225.3L312.2 231.9L308.9 235.2L311.1 240.7L306.7 246.2L305.6 252.8L303.4 257.2L299 261.6L294.6 264.9L290.2 266L283.6 264.9L277 266L270.4 266L266 263.8L262.7 259.4L260.5 253.9L255 247.3L252.8 241.8L248.4 237.4L241.8 235.2L237.4 231.9Z" fill="#A1289E"/>
<path d="M253.9 290.2L258.3 284.7L263.8 281.4L267.1 275.9L270.4 277L271.5 281.4L271.5 288L266 293.5L258.3 294.6Z" fill="#A1289E"/>
<path d="M218.7 249.5L224.2 246.8L233 246.2L240.7 247.3L247.3 251.7L252.8 253.9L258.3 259.4L262.7 264.9L263.8 270.4L259.4 275.9L252.8 281.4L244 285.8L238.5 288L236.3 292.4L239.6 297.9L237.4 301.8L231.9 302.9L225.3 300.1L220.9 294.6L219.8 286.9L220.9 279.2L223.7 273.7L221.5 267.1L218.7 259.4Z" fill="#23B574"/>
<path d="M272.6 268.2L279.2 266L286.9 269.3L288 277L286.9 283.6L282.5 286.9L279.2 281.4L275.9 275.9Z" fill="#23B574"/>
<path d="M311.1 244L314.4 239.6L319.9 240.7L324.3 247.3L325.4 251.7L321 257.2L323.2 262.7L332 262.7L338.6 263.8L345.2 262.7L350.7 267.1L354 274.8L352.9 283.6L354 291.3L355.1 299L356.2 305.6L354 312.2L350.7 317.7L346.3 321L341.9 325.4L339.7 332L338.6 338.6L338.4 342L341.7 347.5L343.9 356.3L339.5 354.1L328.5 353L317.5 350.8L309.8 346.4L301 348.6L290 349.7L282.3 347.5L275.7 339.8L275.7 326.6L274.8 318.8L271.5 312.2L273.7 305.6L277 299L281.4 291.3L285.8 285.8L291.3 279.2L296.8 271.5L304.5 266L310 262.7L311.1 255Z" fill="#EE3B45"/>
<path d="M356.2 321L365 315L371.6 322.1L377.1 330.4L369.4 326.5L359.5 329.8Z" fill="#EE3B45"/>
<path d="M351.8 269.3L358.4 270.4L361.7 268.2L365 270.4L364.5 279.2L361.7 277L359.5 271.5Z" fill="#EE3B45"/>
<path d="M260.5 302.3L266 300.1L270.4 304.5L268.2 311.1L262.7 310Z" fill="#EE3B45"/>
<path d="M341.9 242.9L348.5 244L345.2 248.4L343 247.3Z" fill="#EE3B45"/>
<path d="M354 291.3L361.7 284.7L365 282.5L368.3 286.9L371.6 293.5L376 292.4L382.6 283.6L387 286.9L393.6 286.9L403.5 285.8L409 290.2L413.4 296.8L416.7 300.1L411.2 299.6L406.8 301.2L401.3 305.6L398 312.2L393.6 318.8L387 322.1L381.5 316.6L376 312.2L371.6 305.6L367.2 305.6L362.8 307.8L357.3 303.4L355.1 296.8Z" fill="#FBF236"/>
<path d="M384.6 337.6L389 335.4L394.5 338.7L397.8 337.6L397.3 340.4L392.3 343.7L389 348.6L389 353L393.4 356.3L396.7 357.4L397.3 362.9L398.9 367.3L397.3 371.7L393.4 376.1L389 381.6L386.8 388.2L384.6 394.8L380.2 402.5L374.7 408L367 412.4L360.4 416.8L356 421.2L349.4 420.7L346.1 419L348.3 414.6L353.8 410.2L358.2 404.7L360.4 397L361.5 390.4L359.3 384.9L361.5 378.3L361.5 373.9L367 369.5L372.5 366.2L376.9 360.7L379.1 355.2L382.4 349.7L386.8 343.1Z" fill="#F0814C"/>
<path d="M172.1 306.4L176.1 299.4L186.1 296.4L192.1 288.4L193.1 280.3L197.2 276.3L200.2 284.4L204.2 292.4L208.2 300.4L204.2 305.4L190.1 307.4Z" fill="#C5C2E8"/>
<path d="M284.5 442.1L290 438.8L296.6 436.6L302.1 435.5L304.3 438.8L307.6 443.2L306.5 446.5L302.1 449.8L297.7 452.6L291.1 452L286.7 448.7Z" fill="#C5C2E8"/>
<path d="M263.8 316.6L270.4 315.5L275.9 319.9L277 326.5L275.9 330.9L270.4 330.9L266 324.3Z" fill="#5BCEF0"/>
<path d="M349.6 337.5L356.2 333.1L362.8 335.3L367.2 341.9L371.6 344.1L365 347.4L356.2 347.4L351.8 341.9Z" fill="#5BCEF0"/>
<path d="M304.5 319.9L310 313.3L312.2 314.4L308.9 321Z" fill="#5BCEF0"/>
<path d="M316.6 259.4L322.1 258.9L323.2 264.9L317.7 266Z" fill="#5BCEF0"/>
<path d="M319.9 340.8L324.3 334.2L329.8 331.5L335.3 333.7L336.4 339.7L332 344.1L324.3 344.1Z" fill="#2DD8B0"/>
<path d="M320.8 414.1L325.2 412.4L326.3 408L329.1 407.5L329.6 413.5L334 417.4L331.8 421.2L327.4 417.9L323 416.8Z" fill="#2DD8B0"/>
<path d="M330.7 423.4L333.5 422.9L334 426.7L338.4 425.1L342.8 422.9L341.7 425.6L337.3 428.9L334 432.2L332.4 430Z" fill="#2DD8B0"/>
<path d="M313.1 427.3L316.4 426.2L319.7 427.3L322.5 429.5L320.8 431.1L315.3 431.1Z" fill="#6A4CD8"/>
<path d="M324.1 440.5L326.3 439.9L328 444.3L326.3 445.4Z" fill="#6A4CD8"/>
</g>
<path d="M281.6 339h0m6.8 1.6h0m15 12h0m2.9-10.3h0m-56.8-21.8h0m40.3 23.2h0m-2.4 1.3h0m41.7 2.6h0m-90.5-37.7h0m13.7 12.2h0m0.1-0.6h0m19.4 11.3h0m-23.2-17.4h0m88.9 38.6h0m-80.7-36.5h0m59.7 29.9h0m20 9.7h0m-38.9-15.2h0m-46.5-25.6h0m77.6 39.5h0m-85.2-46.6h0m59.9 35.4h0m-43.8-18h0m41.9 23.8h0m-29.1-10.9h0m61.5 13.3h0m-19.3 1.3h0m-9.8-5.9h0m-61.3-33.1h0m46 33.4h0m39.6-2h0m-64.7-17.9h0m-5.2 5.4h0m-9.2-14.3h0m6.9-1.8h0m15.4 12.6h0m44.6 23.1h0m-29.1-7.3h0m-38.4-35.8h0m44.4 25.9h0m-45-18.1h0m17.5 15.3h0m-16.2-17.6h0m85.5 37.1h0m-18.2-1.4h0m18.6 5.9h0m-24.7-6.5h0m-43.2-17.4h0m36.3 9h0m7.7 8.1h0m-10.5-1.4h0m-43.9-19.6h0m41.7 20.8h0m-8.7-9.4h0m-11.9-7h0m1.7 11.1h0m18.2-2h0m39.7 14.3h0m-79-26.4h0m34.3 12h0m-21.8-8.9h0m-19.9-7.9h0m65.4 28.8h0m-82-41.8h0m30.7 25h0m-30.2-27.1h0m79.1 35.5h0m-49.9-17.1h0m-8.4-2.2h0m14.3 0.1h0m21.9 11.9h0m-56.4-28.3h0m50.2 26.5h0m27.8 9.9h0m12.9-2.4h0m3.3 8.1h0m-40.3-5.5h0m-41.6-28.7h0m0.1 3.7h0m41.9 13.6h0m22.8 5.3h0m-68.1-26.1h0m20.2 5.9h0m64.1 32.8h0m-37-17.3h0m-28.4-12.5h0m7.9 13.3h0m-9.5-11.7h0m-5.1-8h0m-14.2-6.2h0m65.7 35.8h0m-63.7-34h0m43.4 30.4h0m31.2 10.1h0m-13-12.4h0m-37.7-6.2h0m27.4 11.4h0m-26.3-13.6h0m22.3 5.7h0m15.6 10.3h0m-35.4-8.5h0m29.6 5.6h0m16.5 3.7h0m9.8 6h0m-52.6-24.5h0m14.3 5.3h0m-26.8-7.6h0m-7.7-5.6h0m79.7 30.1h0m-71.9-18.5h0m72.6 21.6h0m-82.9-32.7h0m-5.2-4.2h0m59.2 32.3h0m-53.3-28.5h0m25.9 13.3h0m14.1 6.8h0m28.2 8.5h0m-23.2-4.5h0m-51-32.7h0m47.6 22.7h0m-48.6-16.7h0m80.7 30.9h0m-8.3-3h0m-65.3-28h0m16.4 4.8h0m-18.2 0.6h0m-6.3-8.3h0m17.7 14.2h0m-15.5-10.8h0m71.5 26.8h0m-54.3-19.7h0m-1.2 2.3h0m50.6 14.1h0m-70.8-26.9h0m17.7 8.2h0m4.4 8.9h0m9.1-1.3h0m-7.4-3.1h0m2.6 9h0m32.4 2.6h0m-39.1-15.2h0m-14.2-7.7h0m36.9 24.6h0m6.7-1.5h0m18 3.6h0m-25.1-7.2h0m-31-18.3h0m-21.3-10.5h0m95.4 44.2h0m-16.6-11.9h0m15.2 10.4h0m-3.7 2.1h0m-63.3-26h0m40.9 21.8h0m-54.2-38.3h0m-15.2-2.5h0m74.2 32.5h0m-65.9-31.9h0m23.4 25.6h0m59 12.8h0m4.4 1.9h0m-88.4-36.4h0m29.9 16.8h0m19 8h0m11.7 0.3h0m-0.9 1.2h0m42.1 13.7h0m-59.2-17.1h0m49.1 13.7h0m1.2 3.7h0m-91.5-38h0m93 31.8h0m-65.8-24h0m32.3 22.1h0m-51.7-33h0m-6.3-0.7h0m22.1 17h0m12.1 2.8h0m50.4 22.9h0m-28.1-17.7h0m9.8 3.5h0m-33 2.9h0m-23.5-16.6h0m50.6 21.6h0m13.2 2h0m-23.8-14.1h0m-28.7-1.5h0m-21.1-24.4h0m33.9 30.5h0m40.2 5.8h0m-49.7-13h0m4.8-3.5h0m7.7 1.3h0m-8 8.5h0m29.8-0.5h0m-36-5.3h0m-32-23.6h0m24.3 10.4h0m65.7 21.6h0m-82.7-30.5h0m46.6 33.3h0m-35.7-20h0m22.8 13.3h0m5.4 2.5h0m16.6-3.9h0m-33.7-17.4h0m-2.5 1.9h0m71.9 33.2h0m-0.5-4.1h0m-45.1-13.2h0m12.7 7.4h0m2.7-4.2h0m26.5 4.4h0m-37.9-6.3h0m29.1 13.2h0m-51.7-26.8h0m-19.5-11.4h0m1 4.7h0m14.4 5.7h0m52 20.1h0m-59-26.6h0m15.4 8.1h0m51.3 24.8h0m-24-2.4h0m-6.5-10.1h0m-9.9 2h0m4.9 2.9h0m-3.2-1.7h0m-19.1-15.5h0m12.2 10.7h0m63.5 18.2h0m-72-17.1h0m16.4 4.8h0m42.5 9.1h0m-41.5-18.4h0m-35.9-15.5h0m78.1 34.2h0m-18.3-0.4h0m3.3 0.7h0m19.1-2.3h0m-26.2 0.3h0m-41.4-29.2h0m2.2 0.4h0m-11.3 2.8h0m14 11.6h0m9.5 9.2h0m40.8-2.2h0m-23.7 5.6h0m-20.8-5.5h0m34.1-1.9h0m-67.7-32.7h0m43.8 31h0m-14.8-8.7h0m11 2.1h0m24.5 11.4h0m-27-0.9h0m47.3 10.7h0m-52.6-14.4h0m39.2 10h0m-18.4-12.7h0m16 8.5h0m-51.2-19.3h0m-3-10.5h0m-16.1-5.4h0m82.8 38h0m3 7.1h0m-30.5-14.6h0m-28-9.9h0m66.3 25.2h0m-80.3-29.6h0m38.8 12.8h0m-58.9-28h0m14 9.9h0m60 24.6h0m-42.2-13.3h0m4.1-6.2h0m-13.1-4h0m78.2 26.9h0m-32.4-5.5h0m-11.5-7.3h0m41.6 17.6h0m-22.6-8.4h0m-35.1-8.1h0m63.6 16.5h0m-39.8-14.8h0m-1.7 2.9h0m29 5.4h0m-82.5-30.4h0m22.1 3.3h0m38.4 20.7h0m-48.4-19.5h0m-0.3 0.6h0m74.4 23.9h0m-56.4-9.9h0m28.8 12.5h0m17.3-1.3h0m-75.1-32.6h0m5.3-2.9h0m-2.8 3.2h0m27.5 21.8h0m-13.2-14.5h0m57 28.6h0m12.6-1.1h0m-60.1-9.3h0m-12.2-14h0m-12.3-19.2h0m-12.7 3.7h0m93.8 34h0m-81.2-36.1h0m62.4 38.7h0m-19.8-12.7h0m12 10h0m-38.8-13.2h0m38.2 18h0m-57.5-36.6h0m92.8 35.7h0m1.2 2.4h0m0.4 0.3h0m-19.6-2.1h0m-49.8-19.7h0m44 17.9h0m-73.5-32.5h0m61.5 25.8h0m-23.5 2.1h0m-3.9-13.9h0m-2.7-3.4h0m60.5 26.1h0m-72.9-28.2h0m12.4 9.2h0" stroke="#EE3B45" stroke-width="2.1" stroke-linecap="round" fill="none"/>
<path d="M250.9 332.9h0m27.3-1h0m26.3 44.2h0m-38.3-51.5h0m-25.3-9.6h0m82.3 44.3h0m9.3-2.5h0m-94.3-40.6h0m80.8 46.7h0m-27.9-19.6h0m-1.7 25.2h0m21.2-12h0m-73-35.8h0m42.4 27h0m40.4 10.5h0m-12.5-14.9h0m-64.8-18.2h0m48.4 32.4h0m27.3 19.9h0m-77.8-55.1h0m73.4 51.6h0m-34.6-27h0m3.7-7.3h0m-12.1-4.9h0m-23.6-17.4h0m1.6 17.7h0m71 35.5h0m-57.1-24h0m6.4 1.7h0m-6.4-2.5h0m65.7 20.1h0m3.2-14.4h0m-70.1-7.7h0m79.5 14.9h0m-73.7-31h0m-33.9-14.9h0m42.7 41.8h0m9.7-14.2h0m-23.8-6.7h0m-22.3-22.7h0m40.3 41.8h0m41.8 2.6h0m-35.8-17.9h0m31.6 13.4h0m-9.4-3.5h0m-17.2 9.9h0m-1 20.3h0m27.7-17.1h0m-18.8 24.6h0m-13.4-14.6h0m54.6-17.5h0m-64.2-4.6h0m-22.3-19.3h0m46.3 8.9h0m-45.2-9h0m58.7 19.4h0m3.7 24.8h0m-27.2-8.8h0m-38.4-36.8h0m63.7 51.4h0m-6.8-14.4h0m15.5-17.1h0m-14.9 7.2h0m-34.6-25.5h0m-21-2h0m84 38.4h0m-37.2 4.6h0m0.6-31.8h0m6.6 21.2h0m-6.5 2.8h0m30.4-2.3h0m-4 1.1h0m-53.3-29.5h0m-10.9 10.1h0m5.3-9.3h0m57.1 40.9h0m-14.1-14.7h0m20.3 12.3h0m-29.6-11.5h0m-44.6-32.6h0m-22.6-10h0m78.6 36.1h0m12.4-2.6h0m-35.8 36.1h0m23.8-18.8h0m-17.4-24.3h0m-50.9-30.7h0m55 48.3h0m-46.4-33.8h0m-10.5-16.3h0m42.4 33h0m23.7 34.9h0m-40.5-53.1h0m-13.8 16h0m38 12.1h0m6.4-5.1h0m-57.5-28.9h0m56 43h0m10.7 13.9h0m10.1-28.3h0m6.6 22.5h0m-3.5-14.3h0m-82-41.4h0m86.6 44.8h0m4.9-4.8h0m-86.6-23.4h0m83.2 26h0m-23.6 4h0m36.4-3.4h0m-47.1-15.4h0m-54.6-31.1h0m19.6 27.3h0m42.8 18.4h0m-36.6-17.1h0m39 40.9h0m-11.7-29.2h0m7.2 2.9h0m8.9 0.4h0m-19.6-8.7h0m-29.3-21.1h0" stroke="#EE3B45" stroke-width="2" stroke-linecap="round" fill="none"/>
<path d="M248.1 298.3h0m13.2 2.2h0m4.8 10.3h0m-0.7-2.8h0m-0.5-4.5h0m-6 9.5h0m-9.9 1.1h0m14.8 5.8h0m1.2-10.3h0m6.1-6.3h0m-15.8 3.5h0m14.5 6.9h0m-22.1 5.7h0m32-11.1h0m0.6 3.1h0m-24.6-12.9h0m-14.7 12.1h0m28.1 0.6h0m2.6-4.3h0m-1.6 4h0m-4.3-1.3h0m1.3 0.3h0m-23.2 2.8h0m24.6-6h0m10.7 1.3h0m-32.2 0.7h0m7.7-8.3h0m21.3 0.3h0m-7.1-0.2h0m-7.8 19.9h0m-17.2-3.3h0m-3.4 2.8h0m36.3-12.7h0m-10.9 0.3h0m-19-2.5h0m11.1 12.3h0m-13.1-7.9h0m14.3 0.3h0m12.9 1.1h0m-18.8 8.6h0m11-16.5h0m-2 14.4h0m-20.1-5.3h0m17.7-8.7h0m-13.2-1.3h0m11.2 4.6h0m6.5-3.7h0m0.8 4.9h0m7 8h0m-22.4 4.1h0m12.4-15.4h0m-11.7 9.1h0m7.3-0.7h0m-7.2 4.2h0m0.3 0.2h0m7-11.2h0m5.6 2.9h0m-1.2 0.9h0m16.1 4.4h0m-34.4 5.9h0m-3.1-22.5h0m32.3 5.3h0m-31.7-2.4h0m18.7 16.1h0m-19.1-16.3h0m-0.3-2.7h0m12.2 10.5h0m26.2 3.8h0m-4.6-1.4h0m2.2 2h0" stroke="#EE3B45" stroke-width="2.1" stroke-linecap="round" fill="none"/>
<path d="M335.3 248.1h0m8.6-8.4h0m16.1 12h0m-26.2 0.3h0m21.9-7h0m-7.9-5.9h0m-12.5 3.1h0m9.6 16.1h0m-10.1 0h0m13 2h0m14.8-13.4h0m0 3.9h0m-17.6-8.9h0m-15.3 15h0" stroke="#EE3B45" stroke-width="2.1" stroke-linecap="round" fill="none"/>
<path d="M244.2 323.4h0m-1.8 42.8h0m10.8-23.5h0m55 15.4h0m-59.7 19.6h0m81.6-4.8h0m-52.9-7.1h0m24.8 25.3h0m8-49.7h0m-0.6-12.2h0m-62.8 34.1h0m5.5 4.5h0m9.5 32.2h0m14.4-10.8h0m49.3-30.6h0m-17 3.4h0m-35.5-31h0m24.9 67.2h0m2.8-51h0m-15.6 3.3h0m-12.9 35.1h0m-37.1-24.5h0m48.7-28.2h0m21.2 9h0m-31.7-0.5h0m18.7 15.4h0" stroke="#2DD8B0" stroke-width="2.1" stroke-linecap="round" fill="none"/>
<path d="M287.1 268.2h0m3.6 3.5h0m-24.5-1.6h0m5.3-5.5h0m25.1 5.1h0m-7.5-9.1h0m-4-1h0m-14.7 0.2h0m-7.1 22h0m33.9-15.2h0m-34.4 10.3h0m23.5-19.4h0m3.8 0.7h0m-19.3 19.9h0m19.3-15.3h0m-9.4 15.9h0m3.5-7.7h0m-15.1-12.8h0m0.1 12.8h0m14.7-1.8h0m1.5 2.9h0m0.3-4.3h0m7.1 3.4h0m1.4 12.8h0m-1.9-6h0m-5-6.2h0m-16-12.7h0m15 4.1h0m-1.8 8.5h0m-0.2-3.4h0" stroke="#A1289E" stroke-width="2" stroke-linecap="round" fill="none"/>
<path d="M273.1 270.4h0m12.9 11.7h0m-10.6-11.5h0m3.6 2.3h0m5.2 6.6h0m3.8 1h0m-1.2 3.3h0m-7.8-10.5h0m5.7-2.7h0m5 2.1h0m-7.7 2h0m-5.4-10.2h0m-2.4 9.3h0m18.9-6.8h0m-1.3 16.8h0m-3.2-13.9h0m-21.7 12.1h0m1.4-11.7h0m24.5 7.5h0m-3.3 3.2h0m-18.1-6.6h0m-2.3-2.5h0m11.2 8.8h0m-5.8-3h0m-4.1-8.3h0" stroke="#23B574" stroke-width="2" stroke-linecap="round" fill="none"/>
<path d="M357.6 294.3h0m8.5 3.2h0m-2.7 5.4h0m4.9-8.9h0m2.4-9.3h0m-9.3 8.9h0m4.9 9.7h0m1.3-21.8h0m4.3 10.1h0m-11.9 7.1h0m6.8 2.2h0m-1.2-14.4h0m-1.3 5.1h0m-1.9 2.7h0m-3.3-7.9h0m-0.5-5.4h0m6.5 17.1h0m-1.9 4h0m3.3-5.9h0m-5.2 5.8h0m1-1.3h0m-1.7 2.6h0" stroke="#EE3B45" stroke-width="2" stroke-linecap="round" fill="none"/>
<path d="M331.6 274.3h0m2.9-1.3h0m-20.8 12.6h0m-3.1-1h0m-10.5 2.2h0m-4 22.2h0m15.7-4.7h0m4.4 14.7h0m27.2-15.1h0m-2.3 11.7h0" stroke="#A1289E" stroke-width="2" stroke-linecap="round" fill="none"/>
<path d="M339.5 361.9h0m-90.9-8.5h0m9.4 15.7h0m67.3 14.8h0m-111.5 3.4h0m14.1-4.9h0m34.3-34.7h0m-16.1-2.9h0m29.9 42.9h0m-33 5.3h0m26.7-3.2h0m-71.5-51.5h0m40.7 0.5h0m-2.7-6.9h0m-41.9 41.2h0m11 20.4h0m-2.4-59h0m66 15.8h0m47.3 21h0m-42-13.3h0m-21.5 45.5h0m-45.6-39.7h0m70.4 30.2h0m9.2-25.6h0m-69 16.5h0m43.6 3.7h0m-64.4-38.6h0m11.3 47h0m58.9-47.8h0m48.5 23.5h0m-78.8-12.8h0m94.4 15.2h0m10-0.5h0m-81 7.2h0m-4.4 4.2h0m-10.5 0.2h0m-21.8-16.6h0m35.3 3.7h0m-59.8-28.5h0m67.6 75.5h0m21.4-26.2h0m-35.6-33.9h0m13-12.5h0m14.1 46.3h0m48.9-22.7h0m-39.5-1.6h0m-16.7-7.9h0m-53.3-21.5h0m98.8 31.9h0m5.8 13.6h0m-104.2-14.3h0m44.7-34.4h0m-31 2.1h0m-16-14.6h0m76.8 62.7h0m-35.7-21h0m80.9 19.3h0m-74.1 9.8h0m44.1-44h0m1.2 29.3h0m-101.3 14.5h0m9.4 5.3h0m71.7-16.1h0m-87.8-27.3h0m-5.9 4.8h0m130.7 21.8h0m-99.9-55h0m-9.3 23.9h0m-1.8 41.5h0m93-8.5h0m14.6 11.1h0m-52.7 21.8h0m-6.6-53.3h0m28.1 34.4h0m-58.7 10.8h0m97.4-55.2h0m-41.5 61.6h0m-9.9-23.7h0m17.5-28.6h0m-72.4-16.5h0m23.6 46.2h0m30.4-41.6h0m32.4 51.8h0m-75.9-37.5h0m2.5 36.2h0m-14.8-81.2h0m64.2 53h0m-85.8 1.8h0m72.7-25.7h0m-48.1-14.9h0m41.7 21.2h0m16.4 30.8h0m-49.6-6.7h0m-2.9 13.9h0m-8.7-15.2h0m85.4 20.6h0m-32.9 11.3h0m-27.7-64.8h0m-29.2-17.2h0m76.1 29.3h0m-19.1-4.6h0m-33.9-29h0m-3.6-4.4h0m76.5 44.6h0m-48.4 19.5h0m-21.6 3.1h0m-41.7-60.2h0m112.1 43.1h0m0.9 12.7h0m-102.7-55.4h0m46.4 20.8h0m-34.1 30.7h0m58.6-19.7h0m-37.7-25.9h0m55.5 23.2h0m-15.2 44.8h0m-84.3-39.6h0m10 8.5h0m64.2-29.7h0m7.3 9.9h0m41.4 13.8h0m-107.3-15.8h0m38.2-21.9h0m7.3 89.2h0m-43.3-78.6h0m57.8 46.3h0m-64.8-42.2h0m26.8 38.2h0m49.1 2.6h0m-60.6-54.3h0m-29 49.8h0m-8.3-19.9h0m57-7.4h0m-47.2-6.6h0m-8 20.6h0m74.6-21.8h0m2.8 57.2h0m-23.4-4.9h0m68.1-40.2h0m-6-0.1h0m-91.1 6.8h0m-9.5 30h0m22.2-22.1h0m89.4 10.1h0m16 12.8h0m-34.7 1.5h0m-15.7-8h0m-7.2-12.7h0m-57.7-3.3h0m19.5 21.3h0" stroke="#fff" stroke-width="1.8" stroke-linecap="round" fill="none"/>
<path d="M254.6 242.9h0m14.7 3.4h0m23 16.5h0m-6-20.3h0m-8.4-5.9h0m-5.6 17.2h0m18.2-0.5h0m-34.5-17.9h0m28.2 22.9h0m2.2-7.9h0m-25.1-25.1h0m26 24.4h0m-35.4-27.1h0m31.1 3.6h0m9 27.7h0m-44-16.9h0m32.1 16.7h0m18.8-4.2h0m-33.8-13.8h0m47.7-19.2h0m-59.7 17.4h0m47 5.9h0m-10.2-28.8h0m-36 30h0m41.1-27.8h0m-49.6 12.6h0m25.3 1h0m18.1 34.9h0m-0.9-2h0m-21-4h0" stroke="#fff" stroke-width="1.8" stroke-linecap="round" fill="none"/>
<path d="M245.9 279.5h0m-21.3-9.6h0m4 14.2h0m6-37.5h0m-4 27.8h0m-9.7 13.7h0m26-34.9h0m-4.2-1.9h0m-11.5 19.3h0m12.2 11.1h0m17.6-17.3h0m-26.6-6.8h0m17.9 8.5h0m-24.3-9.5h0m12 21.1h0m-10-9.3h0m9.2-8.5h0m-7.5 4.6h0m-4.3 13h0m-7.3-18.4h0m10.3-3.1h0m-3.5 7.2h0m6.9 6.3h0m-9.7 24.1h0m3.8-30.1h0" stroke="#fff" stroke-width="1.8" stroke-linecap="round" fill="none"/>
<path d="M288.5 325.3h0m45-49.5h0m-8.1-12.8h0m-11.9 63.8h0m-19.6 12.2h0m-2.8-2.6h0m47.2-21.9h0m11.3-44.4h0m-13.2 24.2h0m-22.8-1.3h0m-7.5 32.7h0m6.8-79.3h0m-17.4 71.3h0m13.2-19.5h0m10.4 16.7h0m-12 24.8h0m-12.1-24.2h0m-14.2 16.5h0m37.4-74.4h0m21.6 71.2h0m-54.9-0.1h0m66.5-52.8h0m-13.5 36.6h0m-18-33.4h0m-20.4 43h0m37.8 13h0m-57.4-37.7h0m-3.8 32.5h0m61-18.2h0m-36-27.5h0m31.3 27h0m-20.8 24.6h0m13.5-6.9h0m-35.1-47.7h0m7.9 9h0" stroke="#fff" stroke-width="1.8" stroke-linecap="round" fill="none"/>
<path d="" stroke="#fff" stroke-width="1.8" stroke-linecap="round" fill="none"/>
<path d="" stroke="#fff" stroke-width="1.8" stroke-linecap="round" fill="none"/>
<rect x="162" y="198.1" width="257.9" height="257.8" fill="none" stroke="#6e6e6e" stroke-width="1.3"/>
<line x1="158.5" y1="258.3" x2="162" y2="258.3" stroke="#444" stroke-width="1"/>
<text x="156.5" y="263.3" font-size="14.5" text-anchor="end" fill="#333">20</text>
<line x1="158.5" y1="327.5" x2="162" y2="327.5" stroke="#444" stroke-width="1"/>
<text x="156.5" y="332.5" font-size="14.5" text-anchor="end" fill="#333">0</text>
<line x1="158.5" y1="396.3" x2="162" y2="396.3" stroke="#444" stroke-width="1"/>
<text x="156.5" y="401.3" font-size="14.5" text-anchor="end" fill="#333">-20</text>
<line x1="221.6" y1="455.9" x2="221.6" y2="459.4" stroke="#444" stroke-width="1"/>
<text x="221.6" y="473.4" font-size="14.5" text-anchor="middle" fill="#333">-20</text>
<line x1="291.1" y1="455.9" x2="291.1" y2="459.4" stroke="#444" stroke-width="1"/>
<text x="291.1" y="473.4" font-size="14.5" text-anchor="middle" fill="#333">0</text>
<line x1="360.3" y1="455.9" x2="360.3" y2="459.4" stroke="#444" stroke-width="1"/>
<text x="360.3" y="473.4" font-size="14.5" text-anchor="middle" fill="#333">20</text>
<text x="297.5" y="498.5" font-size="19" text-anchor="middle">tSNE_1</text>
<text x="129" y="328" font-size="19" text-anchor="middle" transform="rotate(-90 129 328)">tSNE_2</text>
<rect x="429.3" y="197.8" width="6.4" height="6.4" fill="#EFAD3C"/>
<text x="439.3" y="207" font-size="15.3" fill="#222">fibroblast</text>
<rect x="429.3" y="216.2" width="6.4" height="6.4" fill="#5BCEF0"/>
<text x="439.3" y="225.4" font-size="15.3" fill="#222">pericyte</text>
<rect x="429.3" y="234.7" width="6.4" height="6.4" fill="#EE3B45"/>
<text x="439.3" y="243.9" font-size="15.3" fill="#222">macrophages/Monocytes</text>
<rect x="429.3" y="253.1" width="6.4" height="6.4" fill="#23B574"/>
<text x="439.3" y="262.3" font-size="15.3" fill="#222">Monocytes</text>
<rect x="429.3" y="271.5" width="6.4" height="6.4" fill="#FBF236"/>
<text x="439.3" y="280.7" font-size="15.3" fill="#222">Endothelial cell</text>
<rect x="429.3" y="289.9" width="6.4" height="6.4" fill="#A1289E"/>
<text x="439.3" y="299.1" font-size="15.3" fill="#222">macrophages</text>
<rect x="429.3" y="308.4" width="6.4" height="6.4" fill="#2DD8B0"/>
<text x="439.3" y="317.6" font-size="15.3" fill="#222">MSC</text>
<rect x="429.3" y="326.8" width="6.4" height="6.4" fill="#F0814C"/>
<text x="439.3" y="336" font-size="15.3" fill="#222">T cells</text>
<rect x="429.3" y="345.2" width="6.4" height="6.4" fill="#6A4CD8"/>
<text x="439.3" y="354.4" font-size="15.3" fill="#222">DC</text>
<rect x="429.3" y="363.7" width="6.4" height="6.4" fill="#C5C2E8"/>
<text x="439.3" y="372.9" font-size="15.3" fill="#222">B cells</text>
</g>
<g id="panel-b">
<text x="716" y="190.5" font-size="48.5" font-weight="bold">b</text>
<line x1="774.1" y1="269.3" x2="1033.1" y2="269.3" stroke="#dcdcdc" stroke-width="1" stroke-dasharray="4 4"/>
<line x1="774.1" y1="337.3" x2="1033.1" y2="337.3" stroke="#dcdcdc" stroke-width="1" stroke-dasharray="4 4"/>
<line x1="774.1" y1="405.5" x2="1033.1" y2="405.5" stroke="#dcdcdc" stroke-width="1" stroke-dasharray="4 4"/>
<g clip-path="url(#cb)">
<g filter="url(#rough2)">
<use href="#k0" fill="#EFAD3C"/>
<use href="#k1" fill="#1E9AD0"/>
<use href="#k2" fill="#EE3B45"/>
<use href="#k3" fill="#EE3B45"/>
<use href="#k4" fill="#EE3B45"/>
<use href="#k5" fill="#2DBE78"/>
<use href="#k6" fill="#2DBE78"/>
<use href="#k7" fill="#2DBE78"/>
<use href="#k8" fill="#1E9AD0"/>
</g>
<g fill="none" stroke-linecap="round" stroke-width="2.5">
<use href="#f20" stroke="#1E9AD0"/>
<use href="#f10" stroke="#EFAD3C"/>
<use href="#f30" stroke="#EE3B45"/>
<use href="#f40" stroke="#2DBE78"/>
<use href="#f11" stroke="#EFAD3C"/>
<use href="#f21" stroke="#1E9AD0"/>
<use href="#f31" stroke="#EE3B45"/>
<use href="#f41" stroke="#2DBE78"/>
<use href="#f12" stroke="#EFAD3C"/>
<use href="#f22" stroke="#1E9AD0"/>
<use href="#f32" stroke="#EE3B45"/>
<use href="#f42" stroke="#2DBE78"/>
<use href="#wsp" stroke="#fff" stroke-width="1.8"/>
</g></g>
<rect x="774.1" y="207" width="259" height="260" fill="none" stroke="#6e6e6e" stroke-width="1.3"/>
<line x1="770.6" y1="269.3" x2="774.1" y2="269.3" stroke="#444" stroke-width="1"/>
<text x="767.6" y="274.8" font-size="15.5" text-anchor="end" fill="#333">20</text>
<line x1="770.6" y1="337.3" x2="774.1" y2="337.3" stroke="#444" stroke-width="1"/>
<text x="767.6" y="342.8" font-size="15.5" text-anchor="end" fill="#333">0</text>
<line x1="770.6" y1="405.5" x2="774.1" y2="405.5" stroke="#444" stroke-width="1"/>
<text x="767.6" y="411" font-size="15.5" text-anchor="end" fill="#333">-20</text>
<line x1="837.3" y1="467" x2="837.3" y2="470.5" stroke="#444" stroke-width="1"/>
<text x="837.3" y="485.8" font-size="15.5" text-anchor="middle" fill="#333">-20</text>
<line x1="903.9" y1="467" x2="903.9" y2="470.5" stroke="#444" stroke-width="1"/>
<text x="903.9" y="485.8" font-size="15.5" text-anchor="middle" fill="#333">0</text>
<line x1="970.2" y1="467" x2="970.2" y2="470.5" stroke="#444" stroke-width="1"/>
<text x="970.2" y="485.8" font-size="15.5" text-anchor="middle" fill="#333">20</text>
<text x="909.8" y="511.2" font-size="19.3" text-anchor="middle">tSNE_1</text>
<text x="738.5" y="339.5" font-size="19.3" text-anchor="middle" transform="rotate(-90 738.5 339.5)">tSNE_2</text>
<rect x="1045.5" y="208" width="9" height="9" fill="#EFAD3C"/>
<text x="1061.5" y="220.5" font-size="19.5" fill="#111">Fib1</text>
<rect x="1045.5" y="233.2" width="9" height="9" fill="#1E9AD0"/>
<text x="1061.5" y="245.7" font-size="19.5" fill="#111">Fib2</text>
<rect x="1045.5" y="258.4" width="9" height="9" fill="#EE3B45"/>
<text x="1061.5" y="270.9" font-size="19.5" fill="#111">Fib3</text>
<rect x="1045.5" y="283.6" width="9" height="9" fill="#2DBE78"/>
<text x="1061.5" y="296.1" font-size="19.5" fill="#111">Fib4</text>
</g>
<g id="panel-d">
<text x="47" y="637.5" font-size="48.5" font-weight="bold">d</text>
<line x1="97.3" y1="746" x2="338" y2="746" stroke="#dcdcdc" stroke-width="1" stroke-dasharray="4 4"/>
<line x1="97.3" y1="809" x2="338" y2="809" stroke="#dcdcdc" stroke-width="1" stroke-dasharray="4 4"/>
<line x1="97.3" y1="872.2" x2="338" y2="872.2" stroke="#dcdcdc" stroke-width="1" stroke-dasharray="4 4"/>
<g clip-path="url(#cd)">
<g filter="url(#rough2)"><g transform="matrix(0.9255 0 0 0.9266 -618.77 496.47)">
<use href="#k0" fill="#3636A4"/>
<use href="#k1" fill="#3636A4"/>
<use href="#k2" fill="#CC0000"/>
<use href="#k3" fill="#CC0000"/>
<use href="#k4" fill="#CC0000"/>
<use href="#k5" fill="#CC0000"/>
<use href="#k6" fill="#CC0000"/>
<use href="#k7" fill="#CC0000"/>
<use href="#k8" fill="#3636A4"/>
<path d="M884.6 334.6L948.8 337.3L956.9 353.3L940.8 364L898 361.4L881.9 353.3Z" fill="#3636A4"/>
</g></g>
<g fill="none" stroke-linecap="round" stroke-width="2.6" transform="matrix(0.9255 0 0 0.9266 -618.77 496.47)">
<use href="#f20" stroke="#3636A4"/>
<use href="#f10" stroke="#3636A4"/>
<use href="#f30" stroke="#CC0000"/>
<use href="#f40" stroke="#CC0000"/>
<use href="#f11" stroke="#3636A4"/>
<use href="#f21" stroke="#3636A4"/>
<use href="#f31" stroke="#CC0000"/>
<use href="#f41" stroke="#CC0000"/>
<use href="#f12" stroke="#3636A4"/>
<use href="#f22" stroke="#3636A4"/>
<use href="#f32" stroke="#CC0000"/>
<use href="#f42" stroke="#CC0000"/>
<use href="#wsp" stroke="#fff" stroke-width="1.8"/>
</g></g>
<rect x="97.3" y="688.2" width="240.7" height="241" fill="none" stroke="#6e6e6e" stroke-width="1.3"/>
<line x1="93.8" y1="746" x2="97.3" y2="746" stroke="#444" stroke-width="1"/>
<text x="90.8" y="751.5" font-size="15" text-anchor="end" fill="#333">20</text>
<line x1="93.8" y1="809" x2="97.3" y2="809" stroke="#444" stroke-width="1"/>
<text x="90.8" y="814.5" font-size="15" text-anchor="end" fill="#333">0</text>
<line x1="93.8" y1="872.2" x2="97.3" y2="872.2" stroke="#444" stroke-width="1"/>
<text x="90.8" y="877.7" font-size="15" text-anchor="end" fill="#333">-20</text>
<line x1="156.3" y1="929.2" x2="156.3" y2="932.7" stroke="#444" stroke-width="1"/>
<text x="156.3" y="947.7" font-size="15" text-anchor="middle" fill="#333">-20</text>
<line x1="217.8" y1="929.2" x2="217.8" y2="932.7" stroke="#444" stroke-width="1"/>
<text x="217.8" y="947.7" font-size="15" text-anchor="middle" fill="#333">0</text>
<line x1="279.3" y1="929.2" x2="279.3" y2="932.7" stroke="#444" stroke-width="1"/>
<text x="279.3" y="947.7" font-size="15" text-anchor="middle" fill="#333">20</text>
<text x="218.5" y="970.7" font-size="19.3" text-anchor="middle">tSNE_1</text>
<text x="61" y="824" font-size="19.3" text-anchor="middle" transform="rotate(-90 61 824)">tSNE_2</text>
<rect x="344.5" y="699" width="8" height="8" fill="#3636A4"/>
<text x="363" y="709.3" font-size="19.4" fill="#111">Fib a</text>
<rect x="344.5" y="724" width="8" height="8" fill="#CC0000"/>
<text x="363" y="734.3" font-size="19.4" fill="#111">Fib b</text>
</g>
<g id="panel-c">
<text x="1204.5" y="121.7" font-size="48.5" font-weight="bold">c</text>
<g shape-rendering="crispEdges">
<rect x="1347.7" y="91.4" width="51.3" height="20.9" fill="#9696CB"/>
<rect x="1398.8" y="91.4" width="51.3" height="20.9" fill="#5555AA"/>
<rect x="1449.8" y="91.4" width="51.3" height="20.9" fill="#F7DBDB"/>
<rect x="1500.8" y="91.4" width="51.3" height="20.9" fill="#D23C3C"/>
<rect x="1347.7" y="112" width="51.3" height="20.9" fill="#6666B3"/>
<rect x="1398.8" y="112" width="51.3" height="20.9" fill="#7777BB"/>
<rect x="1449.8" y="112" width="51.3" height="20.9" fill="#F1C2C2"/>
<rect x="1500.8" y="112" width="51.3" height="20.9" fill="#D54A4A"/>
<rect x="1347.7" y="132.6" width="51.3" height="20.9" fill="#FAE9E9"/>
<rect x="1398.8" y="132.6" width="51.3" height="20.9" fill="#000080"/>
<rect x="1449.8" y="132.6" width="51.3" height="20.9" fill="#E48B8B"/>
<rect x="1500.8" y="132.6" width="51.3" height="20.9" fill="#F0BEBE"/>
<rect x="1347.7" y="153.3" width="51.3" height="20.9" fill="#F1C2C2"/>
<rect x="1398.8" y="153.3" width="51.3" height="20.9" fill="#000080"/>
<rect x="1449.8" y="153.3" width="51.3" height="20.9" fill="#F4D1D1"/>
<rect x="1500.8" y="153.3" width="51.3" height="20.9" fill="#E9A1A1"/>
<rect x="1347.7" y="173.9" width="51.3" height="20.9" fill="#DDDDEE"/>
<rect x="1398.8" y="173.9" width="51.3" height="20.9" fill="#111188"/>
<rect x="1449.8" y="173.9" width="51.3" height="20.9" fill="#E89D9D"/>
<rect x="1500.8" y="173.9" width="51.3" height="20.9" fill="#E48B8B"/>
<rect x="1347.7" y="194.5" width="51.3" height="20.9" fill="#FFFFFF"/>
<rect x="1398.8" y="194.5" width="51.3" height="20.9" fill="#111188"/>
<rect x="1449.8" y="194.5" width="51.3" height="20.9" fill="#FAE9E9"/>
<rect x="1500.8" y="194.5" width="51.3" height="20.9" fill="#DA6060"/>
<rect x="1347.7" y="215.1" width="51.3" height="20.9" fill="#8888C4"/>
<rect x="1398.8" y="215.1" width="51.3" height="20.9" fill="#FCF3F3"/>
<rect x="1449.8" y="215.1" width="51.3" height="20.9" fill="#D03434"/>
<rect x="1500.8" y="215.1" width="51.3" height="20.9" fill="#6E6EB7"/>
<rect x="1347.7" y="235.7" width="51.3" height="20.9" fill="#4C4CA6"/>
<rect x="1398.8" y="235.7" width="51.3" height="20.9" fill="#FCF1F1"/>
<rect x="1449.8" y="235.7" width="51.3" height="20.9" fill="#D44343"/>
<rect x="1500.8" y="235.7" width="51.3" height="20.9" fill="#BBBBDD"/>
<rect x="1347.7" y="256.3" width="51.3" height="20.9" fill="#4444A2"/>
<rect x="1398.8" y="256.3" width="51.3" height="20.9" fill="#F2C5C5"/>
<rect x="1449.8" y="256.3" width="51.3" height="20.9" fill="#D95959"/>
<rect x="1500.8" y="256.3" width="51.3" height="20.9" fill="#9999CC"/>
<rect x="1347.7" y="277" width="51.3" height="20.9" fill="#FFFFFF"/>
<rect x="1398.8" y="277" width="51.3" height="20.9" fill="#4444A2"/>
<rect x="1449.8" y="277" width="51.3" height="20.9" fill="#D44343"/>
<rect x="1500.8" y="277" width="51.3" height="20.9" fill="#D4D4EA"/>
<rect x="1347.7" y="297.6" width="51.3" height="20.9" fill="#F3CBCB"/>
<rect x="1398.8" y="297.6" width="51.3" height="20.9" fill="#AAAAD5"/>
<rect x="1449.8" y="297.6" width="51.3" height="20.9" fill="#D95959"/>
<rect x="1500.8" y="297.6" width="51.3" height="20.9" fill="#333399"/>
<rect x="1347.7" y="318.2" width="51.3" height="20.9" fill="#DDDDEE"/>
<rect x="1398.8" y="318.2" width="51.3" height="20.9" fill="#BBBBDD"/>
<rect x="1449.8" y="318.2" width="51.3" height="20.9" fill="#CF2D2D"/>
<rect x="1500.8" y="318.2" width="51.3" height="20.9" fill="#6666B3"/>
<rect x="1347.7" y="338.8" width="51.3" height="20.9" fill="#D4D4EA"/>
<rect x="1398.8" y="338.8" width="51.3" height="20.9" fill="#A2A2D0"/>
<rect x="1449.8" y="338.8" width="51.3" height="20.9" fill="#CF2D2D"/>
<rect x="1500.8" y="338.8" width="51.3" height="20.9" fill="#8080C0"/>
<rect x="1347.7" y="359.4" width="51.3" height="20.9" fill="#E38484"/>
<rect x="1398.8" y="359.4" width="51.3" height="20.9" fill="#EEB7B7"/>
<rect x="1449.8" y="359.4" width="51.3" height="20.9" fill="#000080"/>
<rect x="1500.8" y="359.4" width="51.3" height="20.9" fill="#FCF3F3"/>
<rect x="1347.7" y="380" width="51.3" height="20.9" fill="#E38484"/>
<rect x="1398.8" y="380" width="51.3" height="20.9" fill="#E48B8B"/>
<rect x="1449.8" y="380" width="51.3" height="20.9" fill="#8888C4"/>
<rect x="1500.8" y="380" width="51.3" height="20.9" fill="#4444A2"/>
<rect x="1347.7" y="400.7" width="51.3" height="20.9" fill="#D44343"/>
<rect x="1398.8" y="400.7" width="51.3" height="20.9" fill="#F8E2E2"/>
<rect x="1449.8" y="400.7" width="51.3" height="20.9" fill="#C4C4E1"/>
<rect x="1500.8" y="400.7" width="51.3" height="20.9" fill="#333399"/>
<rect x="1347.7" y="421.3" width="51.3" height="20.9" fill="#B2B2D9"/>
<rect x="1398.8" y="421.3" width="51.3" height="20.9" fill="#E9A1A1"/>
<rect x="1449.8" y="421.3" width="51.3" height="20.9" fill="#E17D7D"/>
<rect x="1500.8" y="421.3" width="51.3" height="20.9" fill="#222291"/>
<rect x="1347.7" y="441.9" width="51.3" height="20.9" fill="#F7DBDB"/>
<rect x="1398.8" y="441.9" width="51.3" height="20.9" fill="#E69292"/>
<rect x="1449.8" y="441.9" width="51.3" height="20.9" fill="#F2C5C5"/>
<rect x="1500.8" y="441.9" width="51.3" height="20.9" fill="#000080"/>
<rect x="1347.7" y="462.5" width="51.3" height="20.9" fill="#F7DBDB"/>
<rect x="1398.8" y="462.5" width="51.3" height="20.9" fill="#DE6E6E"/>
<rect x="1449.8" y="462.5" width="51.3" height="20.9" fill="#FCF1F1"/>
<rect x="1500.8" y="462.5" width="51.3" height="20.9" fill="#080884"/>
<rect x="1347.7" y="483.1" width="51.3" height="20.9" fill="#9999CC"/>
<rect x="1398.8" y="483.1" width="51.3" height="20.9" fill="#CF2D2D"/>
<rect x="1449.8" y="483.1" width="51.3" height="20.9" fill="#E6E6F2"/>
<rect x="1500.8" y="483.1" width="51.3" height="20.9" fill="#6E6EB7"/>
<rect x="1347.7" y="503.7" width="51.3" height="20.9" fill="#F8E2E2"/>
<rect x="1398.8" y="503.7" width="51.3" height="20.9" fill="#D44343"/>
<rect x="1449.8" y="503.7" width="51.3" height="20.9" fill="#C4C4E1"/>
<rect x="1500.8" y="503.7" width="51.3" height="20.9" fill="#3C3C9E"/>
<rect x="1347.7" y="524.4" width="51.3" height="20.9" fill="#F8E2E2"/>
<rect x="1398.8" y="524.4" width="51.3" height="20.9" fill="#D44343"/>
<rect x="1449.8" y="524.4" width="51.3" height="20.9" fill="#5555AA"/>
<rect x="1500.8" y="524.4" width="51.3" height="20.9" fill="#9090C8"/>
<rect x="1347.7" y="545" width="51.3" height="20.9" fill="#F0BEBE"/>
<rect x="1398.8" y="545" width="51.3" height="20.9" fill="#D75151"/>
<rect x="1449.8" y="545" width="51.3" height="20.9" fill="#6666B3"/>
<rect x="1500.8" y="545" width="51.3" height="20.9" fill="#6E6EB7"/>
</g>
<g font-size="17">
<text x="1556.8" y="107.9">WNT_BETA_CATENIN_SIGNALING</text>
<text x="1556.8" y="128.5">G2M_CHECKPOINT</text>
<text x="1556.8" y="149.1">TGF_BETA_SIGNALING</text>
<text x="1556.8" y="169.8">HEDGEHOG_SIGNALING</text>
<text x="1556.8" y="190.4">NOTCH_SIGNALING</text>
<text x="1556.8" y="211">UV_RESPONSE_DN</text>
<text x="1556.8" y="231.6">GLYCOLYSIS</text>
<text x="1556.8" y="252.2">HYPOXIA</text>
<text x="1556.8" y="272.8">PI3K_AKT_MTOR_SIGNALING</text>
<text x="1556.8" y="293.5">EPITHELIAL_MESENCHYMAL_TRANSITION</text>
<text x="1556.8" y="314.1">DNA_REPAIR</text>
<text x="1556.8" y="334.7">P53_PATHWAY</text>
<text x="1556.8" y="355.3">UV_RESPONSE_UP</text>
<text x="1556.8" y="375.9">TNFA_SIGNALING_VIA_NFKB</text>
<text x="1556.8" y="396.5">APOPTOSIS</text>
<text x="1556.8" y="417.2">APICAL_SURFACE</text>
<text x="1556.8" y="437.8">CHOLESTEROL_HOMEOSTASIS</text>
<text x="1556.8" y="458.4">XENOBIOTIC_METABOLISM</text>
<text x="1556.8" y="479">FATTY_ACID_METABOLISM</text>
<text x="1556.8" y="499.6">KRAS_SIGNALING_DN</text>
<text x="1556.8" y="520.2">IL2_STAT5_SIGNALING</text>
<text x="1556.8" y="540.9">INFLAMMATORY_RESPONSE</text>
<text x="1556.8" y="561.5">KRAS_SIGNALING_UP</text>
</g>
<path d="M1347.7 101.7H1337V122.3H1347.7M1347.7 142.9H1334V163.6H1347.7M1347.7 184.2H1332V204.8H1347.7M1334 153.3H1324.8V194.5H1332M1337 112H1306.6V173.9H1324.8M1347.7 246H1337V266.6H1347.7M1347.7 225.4H1330.3V256.3H1337M1347.7 328.5H1342.8V349.1H1347.7M1347.7 307.9H1325.8V338.8H1342.8M1347.7 287.3H1317.3V323.3H1325.8M1330.3 240.9H1298.5V305.3H1317.3M1306.6 142.9H1273.4V273.1H1298.5M1347.7 390.3H1325.6V411H1347.7M1347.7 369.7H1301.9V400.7H1325.6M1347.7 452.2H1335.8V472.8H1347.7M1347.7 431.6H1316.9V462.5H1335.8M1347.7 534.7H1336.7V555.3H1347.7M1347.7 514H1327.5V545H1336.7M1347.7 493.4H1313.6V529.5H1327.5M1316.9 447H1291V511.5H1313.6M1301.9 385.2H1270.4V479.3H1291M1273.4 208H1258.4V432.2H1270.4M1373.2 91.4V37.3H1424.3V91.4M1475.3 91.4V18H1526.4V91.4M1398.8 37.3V2H1500.8V18" fill="none" stroke="#111" stroke-width="1.3"/>
<text x="1347" y="606" font-size="19" transform="rotate(-30 1347 606)">Fib1</text>
<text x="1403" y="607" font-size="19" transform="rotate(-30 1403 607)">Fib2</text>
<text x="1455" y="606" font-size="19" transform="rotate(-30 1455 606)">Fib3</text>
<text x="1506" y="607" font-size="19" transform="rotate(-30 1506 607)">Fib4</text>
<line x1="1340.7" y1="618.8" x2="1407" y2="618.8" stroke="#111" stroke-width="1.7"/>
<line x1="1443.6" y1="617.9" x2="1510" y2="617.9" stroke="#111" stroke-width="1.7"/>
<text x="1376.8" y="645.8" font-size="19.5" text-anchor="middle">Fib a</text>
<text x="1476.8" y="646.3" font-size="19.5" text-anchor="middle">Fib b</text>
<rect x="1849.1" y="341.8" width="17.7" height="224.7" fill="url(#zg)"/>
<text x="1873.5" y="384.4" font-size="16.3">1</text>
<text x="1873.5" y="422.6" font-size="16.3">0.5</text>
<text x="1873.5" y="460.3" font-size="16.3">0</text>
<text x="1873.5" y="498" font-size="16.3">−0.5</text>
<text x="1873.5" y="535.7" font-size="16.3">−1</text>
<text x="1858.8" y="583.3" font-size="19.4" text-anchor="middle">z-score</text>
</g>
<g id="panel-e">
<text x="451.5" y="624.5" font-size="48.5" font-weight="bold">e</text>
<path d="M566.8 768.3L520.1 708M566.8 768.3L569.2 696.8M566.8 768.3L482.7 724.5M566.8 768.3L462.4 754.2M566.8 768.3L504.2 779.2M566.8 768.3L488 819.3M566.8 768.3L573.3 816.6M566.8 768.3L513 855.8M566.8 768.3L601.6 836.6M566.8 768.3L619.8 800.7M566.8 768.3L699.6 702.1M566.8 768.3L785.8 737.2M797 806.6L569.2 696.8M797 806.6L699.6 702.1M797 806.6L619.8 800.7M797 806.6L785.8 737.2M797 806.6L840.8 739.2M797 806.6L881.4 773.3M797 806.6L902.3 811M797 806.6L926.2 853.7M797 806.6L942.1 890.5M797 806.6L913.2 913.1M797 806.6L868.8 934M797 806.6L817 924.6M797 806.6L772.8 940.2M797 806.6L741.7 839.9M681.9 889.9L513 855.8M681.9 889.9L566.8 880.2M681.9 889.9L598 906.7M681.9 889.9L601.6 836.6M681.9 889.9L631.9 835.7M681.9 889.9L619.8 800.7M681.9 889.9L669 825.7M681.9 889.9L696.3 825.7M681.9 889.9L902.3 811M681.9 889.9L942.1 890.5M681.9 889.9L913.2 913.1M681.9 889.9L817 924.6M681.9 889.9L772.8 940.2M681.9 889.9L724.3 932.3M681.9 889.9L593.3 953.2M681.9 889.9L612.5 978.2M681.9 889.9L649 982M681.9 889.9L677.5 954M681.9 889.9L699.3 975.5M566.8 768.3L797 806.6" fill="none" stroke="#3c3c3c" stroke-width="0.85"/>
<g fill="#D29BC6">
<circle cx="520.1" cy="708" r="12.4"/>
<circle cx="569.2" cy="696.8" r="7.1"/>
<circle cx="482.7" cy="724.5" r="7.1"/>
<circle cx="462.4" cy="754.2" r="7.1"/>
<circle cx="504.2" cy="779.2" r="7.1"/>
<circle cx="488" cy="819.3" r="7.1"/>
<circle cx="573.3" cy="816.6" r="7.1"/>
<circle cx="513" cy="855.8" r="10.6"/>
<circle cx="601.6" cy="836.6" r="10.6"/>
<circle cx="619.8" cy="800.7" r="10.6"/>
<circle cx="699.6" cy="702.1" r="7.1"/>
<circle cx="785.8" cy="737.2" r="7.1"/>
<circle cx="840.8" cy="739.2" r="7.1"/>
<circle cx="881.4" cy="773.3" r="8.8"/>
<circle cx="902.3" cy="811" r="12.4"/>
<circle cx="926.2" cy="853.7" r="8.8"/>
<circle cx="942.1" cy="890.5" r="7.1"/>
<circle cx="913.2" cy="913.1" r="7.1"/>
<circle cx="868.8" cy="934" r="7.1"/>
<circle cx="817" cy="924.6" r="8.8"/>
<circle cx="772.8" cy="940.2" r="7.1"/>
<circle cx="741.7" cy="839.9" r="10.6"/>
<circle cx="669" cy="825.7" r="10.6"/>
<circle cx="696.3" cy="825.7" r="7.1"/>
<circle cx="631.9" cy="835.7" r="7.1"/>
<circle cx="566.8" cy="880.2" r="7.1"/>
<circle cx="598" cy="906.7" r="10.6"/>
<circle cx="724.3" cy="932.3" r="12.4"/>
<circle cx="593.3" cy="953.2" r="7.1"/>
<circle cx="612.5" cy="978.2" r="7.1"/>
<circle cx="649" cy="982" r="7.1"/>
<circle cx="677.5" cy="954" r="7.1"/>
<circle cx="699.3" cy="975.5" r="12.4"/>
</g>
<g fill="#9B0018" stroke="#fff" stroke-width="1.8">
<circle cx="566.8" cy="768.3" r="13.3"/>
<circle cx="797" cy="806.6" r="15.3"/>
<circle cx="681.9" cy="889.9" r="19.4"/>
</g>
<g font-family="'DejaVu Sans',Verdana,sans-serif" font-size="13.1" text-anchor="middle" fill="#111">
<text x="522.1" y="693.2" textLength="24.1" lengthAdjust="spacingAndGlyphs">LBP</text>
<text x="488.9" y="873.6" textLength="41.7" lengthAdjust="spacingAndGlyphs">CXCL8</text>
<text x="574.5" y="854.4" textLength="50" lengthAdjust="spacingAndGlyphs">CXCL12</text>
<text x="622.8" y="791.2" textLength="28.3" lengthAdjust="spacingAndGlyphs">IL1B</text>
<text x="704" y="692.6" textLength="47.5" lengthAdjust="spacingAndGlyphs">NFKBIA</text>
<text x="885.3" y="761.7" textLength="44.2" lengthAdjust="spacingAndGlyphs">SOCS3</text>
<text x="905.9" y="796.2" textLength="41.7" lengthAdjust="spacingAndGlyphs">CXCL1</text>
<text x="929.4" y="842.1" textLength="32.1" lengthAdjust="spacingAndGlyphs">JUNB</text>
<text x="816.4" y="946.2" textLength="26" lengthAdjust="spacingAndGlyphs">FOS</text>
<text x="737.5" y="826.5" textLength="41.7" lengthAdjust="spacingAndGlyphs">CXCL3</text>
<text x="674.8" y="814.1" textLength="68.2" lengthAdjust="spacingAndGlyphs">HLA-DQA1</text>
<text x="600.1" y="895.6" textLength="67" lengthAdjust="spacingAndGlyphs">HLA-DRB1</text>
<text x="724.9" y="955.1" textLength="41.7" lengthAdjust="spacingAndGlyphs">CXCL6</text>
<text x="705.2" y="998" textLength="67" lengthAdjust="spacingAndGlyphs">HLA-DRB5</text>
</g>
<circle cx="699.6" cy="649.7" r="12.4" fill="#9B0018"/>
<circle cx="808.8" cy="649.7" r="6.8" fill="#1F45A0"/>
<circle cx="904.1" cy="649.7" r="7.1" fill="#D29BC6"/>
<text x="721.5" y="652.4" font-size="17" fill="#111">p&lt;0.05</text>
<text x="820" y="652.4" font-size="17" fill="#111">p&gt;0.05</text>
<text x="922.4" y="652.4" font-size="17.1" fill="#111">up-regulated genes</text>
<text x="595.5" y="673.7" font-size="27.3" font-weight="bold">Fib a</text>
<text x="1098" y="673.7" font-size="27.3" font-weight="bold">Fib b</text>
<path d="M1082.9 791.8L1079.2 739.9M1082.9 791.8L1007.5 803.9M1082.9 791.8L1161.9 904.5M1183.5 816.5L1131.6 741.3M1183.5 816.5L1195.9 743.1M1183.5 816.5L1252.6 773.9M1183.5 816.5L1208.4 853.4M1083.5 899.7L978.9 836M1083.5 899.7L1067.4 842.1M1083.5 899.7L988.2 899.7M1083.5 899.7L1161.9 904.5M1083.5 899.7L1058.3 937.7M1183.5 816.5L1083.5 899.7" fill="none" stroke="#3c3c3c" stroke-width="0.85"/>
<g fill="#D29BC6">
<circle cx="1079.2" cy="739.9" r="9.1"/>
<circle cx="1131.6" cy="741.3" r="7.2"/>
<circle cx="1195.9" cy="743.1" r="7.2"/>
<circle cx="1252.6" cy="773.9" r="7.2"/>
<circle cx="1007.5" cy="803.9" r="9.1"/>
<circle cx="978.9" cy="836" r="9.1"/>
<circle cx="1067.4" cy="842.1" r="9.1"/>
<circle cx="1208.4" cy="853.4" r="9.1"/>
<circle cx="988.2" cy="899.7" r="9.1"/>
<circle cx="1161.9" cy="904.5" r="7.2"/>
<circle cx="1058.3" cy="937.7" r="7.2"/>
</g>
<g fill="#1F45A0" stroke="#fff" stroke-width="1.2">
<circle cx="1082.9" cy="791.8" r="7.6"/>
<circle cx="1183.5" cy="816.5" r="7.6"/>
<circle cx="1083.5" cy="899.7" r="7.6"/>
</g>
<g font-family="'DejaVu Sans',Verdana,sans-serif" font-size="13.1" text-anchor="middle" fill="#111">
<text x="1082.7" y="728.7" textLength="42.8" lengthAdjust="spacingAndGlyphs">TGFB1</text>
<text x="1134.6" y="731.6" textLength="33.5" lengthAdjust="spacingAndGlyphs">RELB</text>
<text x="1201.2" y="733.8" textLength="61.2" lengthAdjust="spacingAndGlyphs">CSNK2A2</text>
<text x="1257.4" y="764.3" textLength="61.2" lengthAdjust="spacingAndGlyphs">CSNK2A1</text>
<text x="1011.2" y="792.4" textLength="42.5" lengthAdjust="spacingAndGlyphs">VEGFA</text>
<text x="981" y="824.5" textLength="18.6" lengthAdjust="spacingAndGlyphs">LIF</text>
<text x="1036.1" y="844.5" textLength="46.9" lengthAdjust="spacingAndGlyphs">MMP14</text>
<text x="1211.9" y="870" textLength="43" lengthAdjust="spacingAndGlyphs">NFKB2</text>
<text x="990.6" y="887.9" textLength="31.7" lengthAdjust="spacingAndGlyphs">ATF4</text>
<text x="1165.4" y="919.5" textLength="42.1" lengthAdjust="spacingAndGlyphs">CCL20</text>
<text x="1063.4" y="952.4" textLength="59.2" lengthAdjust="spacingAndGlyphs">CREB3L2</text>
</g>
<g font-family="'DejaVu Sans',Verdana,sans-serif" font-size="14.6" font-weight="bold" fill="#8B1A22">
<text x="478" y="749.2" textLength="243.4" lengthAdjust="spacingAndGlyphs">NF-kappa B signaling pathway</text>
<text x="691.9" y="781.3" textLength="181.9" lengthAdjust="spacingAndGlyphs">TNF signaling pathway</text>
<text x="617.5" y="919.6" textLength="166.3" lengthAdjust="spacingAndGlyphs">Rheumatoid arthritis</text>
<text x="1004.5" y="777.1" textLength="166.7" lengthAdjust="spacingAndGlyphs">Rheumatoid arthritis</text>
<text x="1047.4" y="833.6" textLength="243.5" lengthAdjust="spacingAndGlyphs">NF-kappa B signaling pathway</text>
<text x="1009.9" y="891.1" textLength="181.9" lengthAdjust="spacingAndGlyphs">TNF signaling pathway</text>
</g>
</g>
<g id="panel-f">
<text x="1325.5" y="717" font-size="48.5" font-weight="bold">f</text>
<path d="M1424.5 763.6C1424.4 766 1424.3 772.6 1424 778C1423.7 783.4 1423.6 790.5 1422.8 796C1422 801.5 1421 806 1419.2 811C1417.4 816 1414.3 821 1412 826C1409.8 831 1407.2 836.3 1405.7 841C1404.2 845.8 1403 850 1403 854.5C1403.1 859 1404.5 863.3 1406 868C1407.5 872.8 1410.2 878 1412 883C1413.8 888 1415.8 893.5 1416.8 898C1417.8 902.5 1418 906.5 1418 910C1418.1 913.5 1417.3 916.3 1417.1 919C1417 921.8 1416.9 924.2 1417.1 926.5C1417.3 928.8 1418.1 931.8 1418.3 932.8L1430.9 932.8C1431.1 931.8 1431.9 928.8 1432.1 926.5C1432.3 924.2 1432.3 921.8 1432.1 919C1432 916.3 1431.2 913.5 1431.2 910C1431.3 906.5 1431.4 902.5 1432.4 898C1433.4 893.5 1435.4 888 1437.2 883C1439 878 1441.7 872.8 1443.2 868C1444.7 863.3 1446.2 859 1446.2 854.5C1446.3 850 1445 845.8 1443.5 841C1442 836.3 1439.5 831 1437.2 826C1435 821 1431.8 816 1430 811C1428.2 806 1427.2 801.5 1426.4 796C1425.6 790.5 1425.5 783.4 1425.2 778C1424.9 772.6 1424.8 766 1424.8 763.6Z" fill="#F40000" stroke="#222" stroke-width="0.7" stroke-linejoin="round"/>
<path d="M1486.3 786.4C1486.2 789 1486.1 796.4 1485.8 802C1485.5 807.6 1485.2 814 1484.6 820C1484.1 826 1483.2 832 1482.5 838C1481.8 844 1480.9 849.5 1480.4 856C1480 862.5 1480.2 871 1479.8 877C1479.4 883 1478.9 887.5 1478 892C1477.1 896.5 1475.9 900.5 1474.4 904C1472.9 907.5 1470.6 910 1469 913C1467.5 916 1465.7 919.5 1465.1 922C1464.5 924.5 1465.1 926.2 1465.4 928C1465.8 929.8 1466.9 932 1467.2 932.8L1505.6 932.8C1505.9 932 1507.1 929.8 1507.4 928C1507.8 926.2 1508.3 924.5 1507.7 922C1507.1 919.5 1505.4 916 1503.8 913C1502.3 910 1499.9 907.5 1498.4 904C1496.9 900.5 1495.7 896.5 1494.8 892C1493.9 887.5 1493.4 883 1493 877C1492.6 871 1492.9 862.5 1492.4 856C1492 849.5 1491 844 1490.3 838C1489.6 832 1488.8 826 1488.2 820C1487.7 814 1487.3 807.6 1487 802C1486.7 796.4 1486.6 789 1486.6 786.4Z" fill="#35699E" stroke="#222" stroke-width="0.7" stroke-linejoin="round"/>
<text x="1386.9" y="760.6" font-size="16" text-anchor="end" fill="#111">12</text>
<text x="1386.9" y="790" font-size="16" text-anchor="end" fill="#111">10</text>
<text x="1386.9" y="819.4" font-size="16" text-anchor="end" fill="#111">8</text>
<text x="1386.9" y="849.4" font-size="16" text-anchor="end" fill="#111">6</text>
<text x="1386.9" y="879.4" font-size="16" text-anchor="end" fill="#111">4</text>
<text x="1386.9" y="909.1" font-size="16" text-anchor="end" fill="#111">2</text>
<text x="1386.9" y="938.5" font-size="16" text-anchor="end" fill="#111">0</text>
<path d="M1393.4 752.5V932.8H1517M1393.4 754h-3.5M1393.4 783.4h-3.5M1393.4 812.8h-3.5M1393.4 842.8h-3.5M1393.4 872.8h-3.5M1393.4 902.5h-3.5M1393.4 931.9h-3.5M1424.6 932.8v4M1486.4 932.8v4" fill="none" stroke="#7a7a7a" stroke-width="1"/>
<path d="M1604.9 766C1604.6 767.5 1604 771 1602.8 775C1601.7 779 1599.8 784.5 1598 790C1596.2 795.5 1593.8 802 1592 808C1590.3 814 1588.7 820 1587.5 826C1586.4 832 1585.6 838 1585.1 844C1584.7 850 1584.6 856 1584.8 862C1585.1 868 1585.7 874 1586.6 880C1587.5 886 1588.9 892 1590.2 898C1591.5 904 1593.1 910.2 1594.4 916C1595.7 921.8 1597.4 930 1598 932.8L1614.8 932.8C1615.4 930 1617.1 921.8 1618.4 916C1619.7 910.2 1621.3 904 1622.6 898C1623.9 892 1625.3 886 1626.2 880C1627.1 874 1627.8 868 1628 862C1628.3 856 1628.2 850 1627.7 844C1627.3 838 1626.5 832 1625.3 826C1624.2 820 1622.6 814 1620.8 808C1619.1 802 1616.6 795.5 1614.8 790C1613 784.5 1611.2 779 1610 775C1608.9 771 1608.3 767.5 1607.9 766Z" fill="#F40000" stroke="#222" stroke-width="0.7" stroke-linejoin="round"/>
<path d="M1667.8 790.6C1667.6 793 1667.3 799.1 1666.7 805C1666.1 810.9 1665.1 819 1664.3 826C1663.5 833 1662.4 840.5 1661.9 847C1661.4 853.5 1661.2 859 1661.3 865C1661.4 871 1662.1 877.5 1662.5 883C1662.9 888.5 1663.6 894.3 1663.7 898C1663.8 901.8 1664.4 903 1663.1 905.5C1661.8 908 1658.2 910.3 1655.9 913C1653.6 915.8 1650.8 919.5 1649.3 922C1647.8 924.5 1647.4 926.2 1646.9 928C1646.4 929.8 1646.4 932 1646.3 932.8L1689.5 932.8C1689.4 932 1689.4 929.8 1688.9 928C1688.4 926.2 1688 924.5 1686.5 922C1685 919.5 1682.2 915.8 1679.9 913C1677.6 910.3 1674 908 1672.7 905.5C1671.4 903 1672 901.8 1672.1 898C1672.2 894.3 1672.9 888.5 1673.3 883C1673.7 877.5 1674.4 871 1674.5 865C1674.6 859 1674.4 853.5 1673.9 847C1673.4 840.5 1672.3 833 1671.5 826C1670.7 819 1669.7 810.9 1669.1 805C1668.5 799.1 1668.2 793 1668.1 790.6Z" fill="#35699E" stroke="#222" stroke-width="0.7" stroke-linejoin="round"/>
<text x="1569" y="760" font-size="16" text-anchor="end" fill="#111">5</text>
<text x="1569" y="795.7" font-size="16" text-anchor="end" fill="#111">4</text>
<text x="1569" y="831.4" font-size="16" text-anchor="end" fill="#111">3</text>
<text x="1569" y="867.1" font-size="16" text-anchor="end" fill="#111">2</text>
<text x="1569" y="902.8" font-size="16" text-anchor="end" fill="#111">1</text>
<text x="1569" y="938.5" font-size="16" text-anchor="end" fill="#111">0</text>
<path d="M1575.5 752.5V932.8H1698.5M1575.5 753.4h-3.5M1575.5 789.1h-3.5M1575.5 824.8h-3.5M1575.5 860.5h-3.5M1575.5 896.2h-3.5M1575.5 931.9h-3.5M1606.4 932.8v4M1667.9 932.8v4" fill="none" stroke="#7a7a7a" stroke-width="1"/>
<path d="M1783.1 769C1782.8 771 1782.4 776.5 1781.3 781C1780.2 785.5 1778.3 790.5 1776.5 796C1774.7 801.5 1772.4 808 1770.5 814C1768.7 820 1766.8 826 1765.4 832C1764.1 838 1763.1 844.5 1762.4 850C1761.8 855.5 1761.5 860 1761.5 865C1761.5 870 1761.8 874.5 1762.4 880C1763.1 885.5 1764.2 892 1765.4 898C1766.7 904 1768.4 910.1 1769.9 916C1771.4 921.9 1773.7 930.5 1774.4 933.4L1793.6 933.4C1794.4 930.5 1796.6 921.9 1798.1 916C1799.6 910.1 1801.4 904 1802.6 898C1803.9 892 1805 885.5 1805.6 880C1806.3 874.5 1806.5 870 1806.5 865C1806.5 860 1806.3 855.5 1805.6 850C1805 844.5 1804 838 1802.6 832C1801.3 826 1799.4 820 1797.5 814C1795.7 808 1793.3 801.5 1791.5 796C1789.7 790.5 1787.8 785.5 1786.7 781C1785.6 776.5 1785.2 771 1784.9 769Z" fill="#F40000" stroke="#222" stroke-width="0.7" stroke-linejoin="round"/>
<path d="M1848.7 780.4C1848.5 782.5 1848.4 788.4 1847.9 793C1847.4 797.6 1846.9 802.5 1845.8 808C1844.8 813.5 1843 820 1841.6 826C1840.2 832 1838.7 838 1837.4 844C1836.1 850 1834.7 856.5 1833.8 862C1833 867.5 1832.4 872.5 1832.3 877C1832.2 881.5 1832.8 885.5 1833.2 889C1833.7 892.5 1835.3 895 1835 898C1834.7 901 1832.7 904 1831.4 907C1830.1 910 1828.1 913.3 1827.2 916C1826.3 918.8 1825.9 920.6 1826 923.5C1826.2 926.4 1827.8 931.8 1828.1 933.4L1869.5 933.4C1869.9 931.8 1871.5 926.4 1871.6 923.5C1871.8 920.6 1871.3 918.8 1870.4 916C1869.5 913.3 1867.5 910 1866.2 907C1864.9 904 1862.9 901 1862.6 898C1862.3 895 1864 892.5 1864.4 889C1864.9 885.5 1865.4 881.5 1865.3 877C1865.2 872.5 1864.7 867.5 1863.8 862C1863 856.5 1861.5 850 1860.2 844C1858.9 838 1857.4 832 1856 826C1854.6 820 1852.9 813.5 1851.8 808C1850.8 802.5 1850.2 797.6 1849.7 793C1849.2 788.4 1849.1 782.5 1849 780.4Z" fill="#35699E" stroke="#222" stroke-width="0.7" stroke-linejoin="round"/>
<text x="1745.4" y="766.6" font-size="16" text-anchor="end" fill="#111">6</text>
<text x="1745.4" y="795.7" font-size="16" text-anchor="end" fill="#111">5</text>
<text x="1745.4" y="824.5" font-size="16" text-anchor="end" fill="#111">4</text>
<text x="1745.4" y="853.6" font-size="16" text-anchor="end" fill="#111">3</text>
<text x="1745.4" y="882.4" font-size="16" text-anchor="end" fill="#111">2</text>
<text x="1745.4" y="911.2" font-size="16" text-anchor="end" fill="#111">1</text>
<text x="1745.4" y="940" font-size="16" text-anchor="end" fill="#111">0</text>
<path d="M1751.9 745.6V933.4H1880.9M1751.9 760h-3.5M1751.9 789.1h-3.5M1751.9 817.9h-3.5M1751.9 847h-3.5M1751.9 875.8h-3.5M1751.9 904.6h-3.5M1751.9 933.4h-3.5M1784 933.4v4M1848.8 933.4v4" fill="none" stroke="#7a7a7a" stroke-width="1"/>
<line x1="1486.4" y1="786.4" x2="1486.4" y2="932.8" stroke="#2F5DA8" stroke-width="0.6"/>
<line x1="1667.9" y1="790.6" x2="1667.9" y2="932.8" stroke="#2F5DA8" stroke-width="0.6"/>
<line x1="1848.8" y1="780.4" x2="1848.8" y2="933.4" stroke="#2F5DA8" stroke-width="0.6"/>
<text x="1472.9" y="738.7" font-size="22.5" text-anchor="middle" fill="#111">PRG4</text>
<text x="1653.8" y="738.7" font-size="22.5" text-anchor="middle" fill="#111">SPARCL1</text>
<text x="1829.9" y="738.7" font-size="22.5" text-anchor="middle" fill="#111">INHBA</text>
<text x="1417.1" y="963.1" font-size="22" text-anchor="middle" fill="#111">Fib a</text>
<text x="1495.1" y="962.5" font-size="22" text-anchor="middle" fill="#111">Fib b</text>
<text x="1603.1" y="965.5" font-size="22" text-anchor="middle" fill="#111">Fib a</text>
<text x="1678.4" y="965.5" font-size="22" text-anchor="middle" fill="#111">Fib b</text>
<text x="1779.8" y="964" font-size="22" text-anchor="middle" fill="#111">Fib a</text>
<text x="1853.9" y="964" font-size="22" text-anchor="middle" fill="#111">Fib b</text>
</g>
<g id="panel-g">
<text x="47" y="1085.5" font-size="48.5" font-weight="bold">g</text>
<path d="M212.1 1138.6L121.1 1089M212.1 1138.6L157.6 1074.4M212.1 1138.6L209.4 1072.6M212.1 1138.6L255.9 1080.2M212.1 1138.6L309.5 1100.6M212.1 1138.6L343.6 1124M212.1 1138.6L312.5 1148.9M212.1 1138.6L106.5 1137.7M212.1 1138.6L120.2 1183.9M212.1 1138.6L146.7 1220.1M212.1 1138.6L203 1206.1M212.1 1138.6L254.4 1209.5M212.1 1138.6L280.9 1183.3M264.7 1328.2L254.4 1209.5M264.7 1328.2L280.9 1183.3M264.7 1328.2L312.5 1148.9M264.7 1328.2L343.6 1124M264.7 1328.2L375.2 1150.5M264.7 1328.2L392.6 1202.5M264.7 1328.2L146.7 1220.1M264.7 1328.2L106.5 1273.4M264.7 1328.2L179.2 1311.4M264.7 1328.2L173.5 1340.7M264.7 1328.2L203.9 1385.4M264.7 1328.2L238.3 1404.9M264.7 1328.2L284.2 1412.8M264.7 1328.2L382.8 1418.2M264.7 1328.2L384 1466.3M264.7 1328.2L335.6 1462.1M264.7 1328.2L241 1487.3M264.7 1328.2L511.2 1304.7M264.7 1328.2L461.6 1418.2M447 1256.4L375.2 1150.5M447 1256.4L417.8 1176.6M447 1256.4L452.8 1171.5M447 1256.4L489.3 1188.5M447 1256.4L392.6 1202.5M447 1256.4L503.6 1221.1M447 1256.4L532.2 1237.8M447 1256.4L534.7 1268.8M447 1256.4L522.5 1354.6M447 1256.4L507.3 1397.3M447 1256.4L241 1487.3M427.8 1343.1L254.4 1209.5M427.8 1343.1L280.9 1183.3M427.8 1343.1L343.6 1124M427.8 1343.1L312.5 1148.9M427.8 1343.1L146.7 1220.1M427.8 1343.1L392.6 1202.5M427.8 1343.1L503.6 1221.1M427.8 1343.1L511.2 1304.7M427.8 1343.1L522.5 1354.6M427.8 1343.1L507.3 1397.3M427.8 1343.1L461.6 1418.2M427.8 1343.1L382.8 1418.2M427.8 1343.1L384 1466.3M427.8 1343.1L335.6 1462.1M130.9 1372.6L106.5 1273.4M130.9 1372.6L61.5 1291.7M130.9 1372.6L32.3 1331.5M130.9 1372.6L42 1394.2M130.9 1372.6L76.7 1425.6M130.9 1372.6L122.6 1439.9M130.9 1372.6L169.8 1450.2M130.9 1372.6L144.2 1309.3M130.9 1372.6L241 1487.3M130.9 1372.6L335.6 1462.1M130.9 1372.6L264.7 1328.2M447 1256.4L264.7 1328.2" fill="none" stroke="#3c3c3c" stroke-width="0.85"/>
<g fill="#BC74B2">
<circle cx="121.1" cy="1089" r="6.7"/>
<circle cx="157.6" cy="1074.4" r="6.7"/>
<circle cx="209.4" cy="1072.6" r="6.7"/>
<circle cx="255.9" cy="1080.2" r="11.9"/>
<circle cx="309.5" cy="1100.6" r="11.9"/>
<circle cx="343.6" cy="1124" r="10"/>
<circle cx="312.5" cy="1148.9" r="9.7"/>
<circle cx="106.5" cy="1137.7" r="13.4"/>
<circle cx="120.2" cy="1183.9" r="11.9"/>
<circle cx="146.7" cy="1220.1" r="11.9"/>
<circle cx="203" cy="1206.1" r="10"/>
<circle cx="254.4" cy="1209.5" r="13.4"/>
<circle cx="280.9" cy="1183.3" r="11.9"/>
<circle cx="375.2" cy="1150.5" r="10"/>
<circle cx="417.8" cy="1176.6" r="8.2"/>
<circle cx="452.8" cy="1171.5" r="6.4"/>
<circle cx="489.3" cy="1188.5" r="8.2"/>
<circle cx="392.6" cy="1202.5" r="11.9"/>
<circle cx="503.6" cy="1221.1" r="6.7"/>
<circle cx="532.2" cy="1237.8" r="6.7"/>
<circle cx="534.7" cy="1268.8" r="6.7"/>
<circle cx="511.2" cy="1304.7" r="11.9"/>
<circle cx="522.5" cy="1354.6" r="6.7"/>
<circle cx="507.3" cy="1397.3" r="11.9"/>
<circle cx="461.6" cy="1418.2" r="13.4"/>
<circle cx="382.8" cy="1418.2" r="10"/>
<circle cx="384" cy="1466.3" r="10"/>
<circle cx="335.6" cy="1462.1" r="6.7"/>
<circle cx="241" cy="1487.3" r="6.7"/>
<circle cx="284.2" cy="1412.8" r="6.7"/>
<circle cx="238.3" cy="1404.9" r="8.2"/>
<circle cx="203.9" cy="1385.4" r="6.7"/>
<circle cx="173.5" cy="1340.7" r="6.7"/>
<circle cx="179.2" cy="1311.4" r="6.7"/>
<circle cx="144.2" cy="1309.3" r="6.7"/>
<circle cx="106.5" cy="1273.4" r="8.2"/>
<circle cx="61.5" cy="1291.7" r="6.7"/>
<circle cx="32.3" cy="1331.5" r="11.9"/>
<circle cx="42" cy="1394.2" r="11.9"/>
<circle cx="76.7" cy="1425.6" r="6.7"/>
<circle cx="122.6" cy="1439.9" r="8.2"/>
<circle cx="169.8" cy="1450.2" r="6.7"/>
</g>
<g fill="#C12525" stroke="#fff" stroke-width="1.8">
<circle cx="212.1" cy="1138.6" r="15.5"/>
<circle cx="447" cy="1256.4" r="14.6"/>
<circle cx="264.7" cy="1328.2" r="21"/>
<circle cx="427.8" cy="1343.1" r="15.5"/>
<circle cx="130.9" cy="1372.6" r="12.8"/>
</g>
<g font-family="'DejaVu Sans',Verdana,sans-serif" font-size="13.1" text-anchor="middle" fill="#111">
<text x="313.4" y="1085.9" textLength="50" lengthAdjust="spacingAndGlyphs">COL3A1</text>
<text x="110.8" y="1121.6" textLength="50" lengthAdjust="spacingAndGlyphs">COL5A1</text>
<text x="224.3" y="1230.5" textLength="50" lengthAdjust="spacingAndGlyphs">COL1A1</text>
<text x="304.3" y="1205.5" textLength="50" lengthAdjust="spacingAndGlyphs">COL1A2</text>
<text x="379.2" y="1137.7" textLength="40.8" lengthAdjust="spacingAndGlyphs">VEGFA</text>
<text x="421.2" y="1165.7" textLength="37.1" lengthAdjust="spacingAndGlyphs">MMP2</text>
<text x="493.6" y="1177.2" textLength="47.2" lengthAdjust="spacingAndGlyphs">TWIST1</text>
<text x="511.2" y="1416.1" textLength="42.5" lengthAdjust="spacingAndGlyphs">HSPG2</text>
<text x="465" y="1438.9" textLength="36.9" lengthAdjust="spacingAndGlyphs">COMP</text>
<text x="111.4" y="1262.4" textLength="51.3" lengthAdjust="spacingAndGlyphs">PDGFRB</text>
<text x="32.9" y="1316.3" textLength="35.1" lengthAdjust="spacingAndGlyphs">MCT4</text>
<text x="17.3" y="1380.5" textLength="33.3" lengthAdjust="spacingAndGlyphs">PDK1</text>
<text x="126.3" y="1455.7" textLength="44.6" lengthAdjust="spacingAndGlyphs">PGAM1</text>
</g>
<g font-family="'DejaVu Sans',Verdana,sans-serif" font-size="14.6" font-weight="bold" fill="#8B1A22">
<text x="98.3" y="1164.2" textLength="256.2" lengthAdjust="spacingAndGlyphs">Protein digestion and absorption</text>
<text x="359.4" y="1278.6" textLength="167.1" lengthAdjust="spacingAndGlyphs">Proteoglycans cancer</text>
<text x="174.1" y="1297.1" textLength="219.1" lengthAdjust="spacingAndGlyphs">PI3K-Akt signaling pathway</text>
<text x="15.8" y="1358" textLength="287" lengthAdjust="spacingAndGlyphs">Central carbon metabolism in cancer</text>
<text x="359.1" y="1371.1" textLength="194.8" lengthAdjust="spacingAndGlyphs">ECM-receptor interaction</text>
</g>
<text x="610.6" y="1076.5" font-size="12.5" text-anchor="middle" fill="#111">Fold change</text>
<circle cx="621.6" cy="1097.2" r="6.7" fill="#BC74B2"/>
<text x="649" y="1103.6" font-size="12.4" text-anchor="middle" fill="#111">1.3</text>
<circle cx="621.6" cy="1124.6" r="8.5" fill="#BC74B2"/>
<text x="649" y="1131" font-size="12.4" text-anchor="middle" fill="#111">1.5</text>
<circle cx="621.6" cy="1156" r="10" fill="#BC74B2"/>
<text x="650.5" y="1162.4" font-size="12.4" text-anchor="middle" fill="#111">2</text>
<circle cx="621.6" cy="1188.2" r="11.9" fill="#BC74B2"/>
<text x="650.5" y="1194.6" font-size="12.4" text-anchor="middle" fill="#111">4</text>
<text x="635.6" y="1229.6" font-size="12.6" text-anchor="middle" fill="#111">up-regulated gene number</text>
<circle cx="621.6" cy="1250" r="3.3" fill="#C12525"/>
<text x="655.7" y="1256.4" font-size="12.4" text-anchor="middle" fill="#111">1</text>
<circle cx="621.6" cy="1280.5" r="7.3" fill="#C12525"/>
<text x="655.1" y="1286.9" font-size="12.4" text-anchor="middle" fill="#111">5</text>
<circle cx="621.6" cy="1314.6" r="10.7" fill="#C12525"/>
<text x="655.1" y="1321" font-size="12.4" text-anchor="middle" fill="#111">9</text>
<circle cx="621.6" cy="1358.4" r="16.7" fill="#C12525"/>
<text x="653.9" y="1364.8" font-size="12.4" text-anchor="middle" fill="#111">15</text>
<circle cx="621.6" cy="1412.9" r="20.4" fill="#C12525"/>
<text x="653.9" y="1419.3" font-size="12.4" text-anchor="middle" fill="#111">19</text>
</g>
<g id="panel-h">
<text x="716" y="1084.5" font-size="48.5" font-weight="bold">h</text>
<rect x="720.1" y="1127.7" width="53.9" height="56.4" fill="#114B8B" stroke="#e8dede" stroke-width="0.5"/>
<rect x="774" y="1127.7" width="53.9" height="56.4" fill="#8B0A50" stroke="#e8dede" stroke-width="0.5"/>
<rect x="828" y="1127.7" width="53.9" height="56.4" fill="#C0677E" stroke="#e8dede" stroke-width="0.5"/>
<rect x="720.1" y="1184" width="53.9" height="56.4" fill="#8B0A50" stroke="#e8dede" stroke-width="0.5"/>
<rect x="774" y="1184" width="53.9" height="56.4" fill="#CABAAD" stroke="#e8dede" stroke-width="0.5"/>
<rect x="828" y="1184" width="53.9" height="56.4" fill="#A8436B" stroke="#e8dede" stroke-width="0.5"/>
<rect x="720.1" y="1240.4" width="53.9" height="56.4" fill="#C0677E" stroke="#e8dede" stroke-width="0.5"/>
<rect x="774" y="1240.4" width="53.9" height="56.4" fill="#A8436B" stroke="#e8dede" stroke-width="0.5"/>
<rect x="828" y="1240.4" width="53.9" height="56.4" fill="#617E9E" stroke="#e8dede" stroke-width="0.5"/>
<text x="882.5" y="1165.7" font-size="19.3" fill="#111">Fib b</text>
<text x="884.5" y="1218.7" font-size="19.3" fill="#111">Fib a</text>
<text x="882" y="1275.4" font-size="19.3" fill="#111">Macrophage</text>
<text x="735.3" y="1300.3" font-size="19.3" fill="#111" transform="rotate(90 735.3 1300.3)">Fib b</text>
<text x="785" y="1300.3" font-size="19.3" fill="#111" transform="rotate(90 785 1300.3)">Fib a</text>
<text x="841.5" y="1300.3" font-size="19.3" fill="#111" transform="rotate(90 841.5 1300.3)">Macrophage</text>
<text x="890.4" y="1117.6" font-size="19.3" fill="#111">Log_count</text>
<rect x="932.7" y="1127.7" width="5.3" height="78.1" fill="url(#hg)"/>
<text x="940" y="1134.3" font-size="12" fill="#222">4.6</text>
<text x="940" y="1151.3" font-size="12" fill="#222">4.4</text>
<text x="940" y="1168.4" font-size="12" fill="#222">4.2</text>
<text x="940" y="1185.3" font-size="12" fill="#222">4</text>
<text x="940" y="1202.6" font-size="12" fill="#222">3.8</text>
</g>
<g id="panel-i">
<text x="1034" y="1084" font-size="48.5" font-weight="bold">i</text>
<rect x="1187.2" y="1107.7" width="329.3" height="322.7" fill="#fff" stroke="#b5b5b5" stroke-width="1"/>
<circle cx="1209" cy="1122.5" r="1.4" fill="#4848B8"/>
<circle cx="1244.8" cy="1122.5" r="1.4" fill="#B4B030"/>
<circle cx="1280.7" cy="1122.5" r="1.4" fill="#E6E020"/>
<circle cx="1316.5" cy="1122.5" r="1.4" fill="#4848B8"/>
<circle cx="1352.4" cy="1122.5" r="1.4" fill="#B4B030"/>
<circle cx="1388.2" cy="1122.5" r="1.4" fill="#E6E020"/>
<circle cx="1424.1" cy="1122.5" r="1.4" fill="#4848B8"/>
<circle cx="1460" cy="1122.5" r="1.4" fill="#B4B030"/>
<circle cx="1495.8" cy="1122.5" r="1.4" fill="#E6E020"/>
<circle cx="1209" cy="1146.9" r="1.4" fill="#707088"/>
<circle cx="1244.8" cy="1146.9" r="1.4" fill="#B4B030"/>
<circle cx="1280.7" cy="1146.9" r="1.4" fill="#E6E020"/>
<circle cx="1316.5" cy="1146.9" r="1.4" fill="#909040"/>
<circle cx="1353.4" cy="1146.9" r="5.2" fill="#E2DC22"/>
<circle cx="1389.2" cy="1146.9" r="5.2" fill="#F0EA12"/>
<circle cx="1424.1" cy="1146.9" r="1.4" fill="#909040"/>
<circle cx="1461" cy="1146.9" r="5.2" fill="#ECE618"/>
<circle cx="1496.8" cy="1146.9" r="5.2" fill="#F6F00C"/>
<circle cx="1209" cy="1171.3" r="1.4" fill="#101078"/>
<circle cx="1244.8" cy="1171.3" r="1.4" fill="#101078"/>
<circle cx="1280.7" cy="1171.3" r="1.4" fill="#101050"/>
<circle cx="1316.5" cy="1171.3" r="1.4" fill="#101078"/>
<circle cx="1352.4" cy="1171.3" r="1.4" fill="#101078"/>
<circle cx="1388.2" cy="1171.3" r="1.4" fill="#080830"/>
<circle cx="1424.1" cy="1171.3" r="1.4" fill="#101078"/>
<circle cx="1460" cy="1171.3" r="1.4" fill="#080830"/>
<circle cx="1495.8" cy="1171.3" r="1.4" fill="#080830"/>
<circle cx="1209" cy="1195.8" r="1.4" fill="#E8E800"/>
<circle cx="1244.8" cy="1195.8" r="1.4" fill="#E8E800"/>
<circle cx="1280.7" cy="1195.8" r="1.4" fill="#E8E800"/>
<circle cx="1316.5" cy="1195.8" r="1.4" fill="#E8E800"/>
<circle cx="1352.4" cy="1195.8" r="1.4" fill="#E8E800"/>
<circle cx="1388.2" cy="1195.8" r="1.4" fill="#E8E800"/>
<circle cx="1424.1" cy="1195.8" r="1.4" fill="#E8E800"/>
<circle cx="1460" cy="1195.8" r="1.4" fill="#E8E800"/>
<circle cx="1495.8" cy="1195.8" r="1.4" fill="#E8E800"/>
<circle cx="1209" cy="1220.2" r="1.4" fill="#2828C8"/>
<circle cx="1244.8" cy="1220.2" r="1.4" fill="#101078"/>
<circle cx="1280.7" cy="1220.2" r="1.4" fill="#101078"/>
<circle cx="1316.5" cy="1220.2" r="1.4" fill="#2828C8"/>
<circle cx="1352.4" cy="1220.2" r="1.4" fill="#101078"/>
<circle cx="1388.2" cy="1220.2" r="1.4" fill="#101078"/>
<circle cx="1424.1" cy="1220.2" r="1.4" fill="#2828C8"/>
<circle cx="1460" cy="1220.2" r="1.4" fill="#101078"/>
<circle cx="1495.8" cy="1220.2" r="1.4" fill="#101078"/>
<circle cx="1209" cy="1244.6" r="1.4" fill="#1818D8"/>
<circle cx="1244.8" cy="1244.6" r="1.4" fill="#1818D8"/>
<circle cx="1280.7" cy="1244.6" r="1.4" fill="#1818D8"/>
<circle cx="1316.5" cy="1244.6" r="1.4" fill="#101078"/>
<circle cx="1352.4" cy="1244.6" r="1.4" fill="#101078"/>
<circle cx="1388.2" cy="1244.6" r="1.4" fill="#101078"/>
<circle cx="1424.1" cy="1244.6" r="1.4" fill="#101078"/>
<circle cx="1460" cy="1244.6" r="1.4" fill="#080830"/>
<circle cx="1495.8" cy="1244.6" r="1.4" fill="#080830"/>
<circle cx="1209" cy="1269" r="1.4" fill="#FFA000"/>
<circle cx="1245.8" cy="1269" r="5.2" fill="#FF3A10"/>
<circle cx="1280.7" cy="1269" r="1.2" fill="#FF7000"/>
<circle cx="1316.5" cy="1269" r="1.4" fill="#FFA800"/>
<circle cx="1352.4" cy="1269" r="1.4" fill="#FF3000"/>
<circle cx="1388.2" cy="1269" r="1.4" fill="#FF8000"/>
<circle cx="1424.1" cy="1269" r="1.4" fill="#FFB000"/>
<circle cx="1460" cy="1269" r="1.4" fill="#FF3800"/>
<circle cx="1495.8" cy="1269" r="1.4" fill="#FF8000"/>
<circle cx="1209" cy="1293.4" r="1.4" fill="#FF2020"/>
<circle cx="1244.8" cy="1293.4" r="1.4" fill="#F0D800"/>
<circle cx="1280.7" cy="1293.4" r="1.4" fill="#B4B030"/>
<circle cx="1316.5" cy="1293.4" r="1.4" fill="#FF2020"/>
<circle cx="1352.4" cy="1293.4" r="1.4" fill="#F0D800"/>
<circle cx="1388.2" cy="1293.4" r="1.4" fill="#B4B030"/>
<circle cx="1424.1" cy="1293.4" r="1.4" fill="#FF2020"/>
<circle cx="1460" cy="1293.4" r="1.4" fill="#F0D800"/>
<circle cx="1495.8" cy="1293.4" r="1.4" fill="#B4B030"/>
<circle cx="1209" cy="1317.9" r="1.4" fill="#2828C8"/>
<circle cx="1244.8" cy="1317.9" r="1.4" fill="#101078"/>
<circle cx="1280.7" cy="1317.9" r="1.4" fill="#101078"/>
<circle cx="1316.5" cy="1317.9" r="1.4" fill="#2828C8"/>
<circle cx="1352.4" cy="1317.9" r="1.4" fill="#101078"/>
<circle cx="1388.2" cy="1317.9" r="1.4" fill="#101078"/>
<circle cx="1424.1" cy="1317.9" r="1.4" fill="#2828C8"/>
<circle cx="1460" cy="1317.9" r="1.4" fill="#101078"/>
<circle cx="1495.8" cy="1317.9" r="1.4" fill="#101078"/>
<circle cx="1209" cy="1342.3" r="1.4" fill="#808070"/>
<circle cx="1245.8" cy="1342.3" r="5.2" fill="#9C9C58"/>
<circle cx="1281.7" cy="1342.3" r="5.2" fill="#9C9C58"/>
<circle cx="1316.5" cy="1342.3" r="1.4" fill="#6868A8"/>
<circle cx="1352.4" cy="1342.3" r="1.4" fill="#808070"/>
<circle cx="1388.2" cy="1342.3" r="1.4" fill="#808070"/>
<circle cx="1424.1" cy="1342.3" r="1.4" fill="#808070"/>
<circle cx="1461" cy="1342.3" r="5.2" fill="#9C9C58"/>
<circle cx="1496.8" cy="1342.3" r="5.2" fill="#9C9C58"/>
<circle cx="1210" cy="1366.7" r="5.2" fill="#9C9C58"/>
<circle cx="1245.8" cy="1366.7" r="5.2" fill="#9C9C58"/>
<circle cx="1281.7" cy="1366.7" r="5.2" fill="#9C9C58"/>
<circle cx="1316.5" cy="1366.7" r="1.4" fill="#808070"/>
<circle cx="1352.4" cy="1366.7" r="1.4" fill="#808070"/>
<circle cx="1388.2" cy="1366.7" r="1.4" fill="#808070"/>
<circle cx="1425.1" cy="1366.7" r="5.2" fill="#9C9C58"/>
<circle cx="1461" cy="1366.7" r="5.2" fill="#9C9C58"/>
<circle cx="1496.8" cy="1366.7" r="5.2" fill="#9C9C58"/>
<circle cx="1210" cy="1391.1" r="5.2" fill="#FFB010"/>
<circle cx="1245.8" cy="1391.1" r="5.2" fill="#FFF200"/>
<circle cx="1280.7" cy="1391.1" r="2.2" fill="#F0E000"/>
<circle cx="1316.5" cy="1391.1" r="1.4" fill="#F0E000"/>
<circle cx="1352.4" cy="1391.1" r="1.4" fill="#4848B8"/>
<circle cx="1388.2" cy="1391.1" r="1.4" fill="#2828C8"/>
<circle cx="1424.1" cy="1391.1" r="1.4" fill="#F0E000"/>
<circle cx="1460" cy="1391.1" r="1.4" fill="#4848B8"/>
<circle cx="1495.8" cy="1391.1" r="1.4" fill="#2828C8"/>
<circle cx="1210" cy="1415.5" r="5.2" fill="#FFD800"/>
<circle cx="1245.8" cy="1415.5" r="5.2" fill="#FFD800"/>
<circle cx="1281.7" cy="1415.5" r="5.2" fill="#FFD800"/>
<circle cx="1316.5" cy="1415.5" r="1.4" fill="#A0A040"/>
<circle cx="1352.4" cy="1415.5" r="1.4" fill="#A0A040"/>
<circle cx="1388.2" cy="1415.5" r="1.4" fill="#A0A040"/>
<circle cx="1424.1" cy="1415.5" r="1.4" fill="#A0A040"/>
<circle cx="1460" cy="1415.5" r="1.4" fill="#A0A040"/>
<circle cx="1495.8" cy="1415.5" r="1.4" fill="#A0A040"/>
<g font-size="16.9" text-anchor="end" fill="#111">
<text x="1175.6" y="1121.2">FGF1_FGFR1</text>
<text x="1175.6" y="1146.5">PDGFA_PDGFRA</text>
<text x="1175.6" y="1171.8">IL15_IL15 receptor</text>
<text x="1175.6" y="1197.1">IL17A_IL17 receptor AC</text>
<text x="1175.6" y="1222.4">IL10_IL10 receptor</text>
<text x="1175.6" y="1247.7">IL7_IL7 receptor</text>
<text x="1175.6" y="1273.1">IL6_IL6 receptor</text>
<text x="1175.6" y="1298.4">IL1B_IL1 receptor</text>
<text x="1175.6" y="1323.7">IL1A_IL1 receptor</text>
<text x="1175.6" y="1349">TGFB1_TGFbeta receptor2</text>
<text x="1175.6" y="1374.3">TGFB1_TGFbeta receptor1</text>
<text x="1175.6" y="1399.6">TNF_TNFRSF1B</text>
<text x="1175.6" y="1424.9">TNF_TNFRSF1A</text>
</g>
<path d="M1209 1430.4v2.5M1244.8 1430.4v2.5M1280.7 1430.4v2.5M1316.5 1430.4v2.5M1352.4 1430.4v2.5M1388.2 1430.4v2.5M1424.1 1430.4v2.5M1460 1430.4v2.5M1495.8 1430.4v2.5M1187.2 1122.5h-2.5M1187.2 1146.9h-2.5M1187.2 1171.3h-2.5M1187.2 1195.8h-2.5M1187.2 1220.2h-2.5M1187.2 1244.6h-2.5M1187.2 1269h-2.5M1187.2 1293.4h-2.5M1187.2 1317.9h-2.5M1187.2 1342.3h-2.5M1187.2 1366.7h-2.5M1187.2 1391.1h-2.5M1187.2 1415.5h-2.5" stroke="#8a8a8a" stroke-width="1" fill="none"/>
<g font-size="16.6" text-anchor="end" fill="#111">
<text x="1218.5" y="1444.4" transform="rotate(-32 1218.5 1444.4)">M | M</text>
<text x="1254.3" y="1444.4" transform="rotate(-32 1254.3 1444.4)">M | Fib a</text>
<text x="1290.2" y="1444.4" transform="rotate(-32 1290.2 1444.4)">M | Fib b</text>
<text x="1326" y="1444.4" transform="rotate(-32 1326 1444.4)">Fib a | M</text>
<text x="1361.9" y="1444.4" transform="rotate(-32 1361.9 1444.4)">Fib a | Fib a</text>
<text x="1397.8" y="1444.4" transform="rotate(-32 1397.8 1444.4)">Fib a | Fib b</text>
<text x="1433.6" y="1444.4" transform="rotate(-32 1433.6 1444.4)">Fib b | M</text>
<text x="1469.5" y="1444.4" transform="rotate(-32 1469.5 1444.4)">Fib b | Fib a</text>
<text x="1505.3" y="1444.4" transform="rotate(-32 1505.3 1444.4)">Fib b | Fib b</text>
</g>
<text x="1527.2" y="1169.5" font-size="17.2" fill="#111">-log<tspan font-size="11" dy="4">10</tspan><tspan dy="-4"> (pvalue)</tspan></text>
<circle cx="1533.2" cy="1189.9" r="1.2" fill="#000"/>
<circle cx="1533.2" cy="1201" r="3.4" fill="#000"/>
<circle cx="1533.2" cy="1211.7" r="4.2" fill="#000"/>
<circle cx="1533.2" cy="1222.8" r="5" fill="#000"/>
<text x="1555.5" y="1195" font-size="14" fill="#111">0</text>
<text x="1555.5" y="1209.5" font-size="14" fill="#111">1</text>
<text x="1555.5" y="1223.5" font-size="14" fill="#111">2</text>
<text x="1555.5" y="1237.2" font-size="14" fill="#111">3</text>
<text x="1595.3" y="1300.9" font-size="16.9" text-anchor="middle" fill="#111">Log<tspan font-size="11" dy="4">2</tspan><tspan dy="-4"> mean</tspan></text>
<text x="1596" y="1318.6" font-size="14" text-anchor="middle" fill="#111">(Molecule 1, Molecule 2)</text>
<rect x="1535.7" y="1329.3" width="17" height="81.8" fill="url(#ig)"/>
<path d="M1535.7 1337.9h3M1549.7 1337.9h3M1535.7 1360.8h3M1549.7 1360.8h3M1535.7 1383h3M1549.7 1383h3M1535.7 1405.6h3M1549.7 1405.6h3" stroke="#fff" stroke-width="0.8"/>
<text x="1581.5" y="1343.1" font-size="14" text-anchor="end" fill="#111">2.5</text>
<text x="1581.5" y="1366" font-size="14" text-anchor="end" fill="#111">0.0</text>
<text x="1581.5" y="1388.2" font-size="14" text-anchor="end" fill="#111">-2.5</text>
<text x="1581.5" y="1410.8" font-size="14" text-anchor="end" fill="#111">-5.0</text>
</g>
<g id="panel-j">
<text x="1653.5" y="1110.5" font-size="50" font-weight="bold">j</text>
<text x="1793" y="1171.8" font-size="28" text-anchor="end" fill="#111">TNF</text>
<text x="1790" y="1219.6" font-size="28" text-anchor="end" fill="#111">Anti-TNFR1</text>
<text x="1791.5" y="1264.6" font-size="28" text-anchor="end" fill="#111">Anti-TNFR2</text>
<text x="1831" y="1176.1" font-size="31" text-anchor="middle" fill="#111" stroke="#111" stroke-width="0.7">+</text>
<text x="1874.2" y="1176.1" font-size="31" text-anchor="middle" fill="#111" stroke="#111" stroke-width="0.7">+</text>
<text x="1917.4" y="1176.1" font-size="31" text-anchor="middle" fill="#111" stroke="#111" stroke-width="0.7">+</text>
<text x="1827.2" y="1221.4" font-size="32" text-anchor="middle" fill="#111" stroke="#111" stroke-width="0.7">-</text>
<text x="1875.5" y="1221.1" font-size="31" text-anchor="middle" fill="#111" stroke="#111" stroke-width="0.7">+</text>
<text x="1923.3" y="1221.4" font-size="32" text-anchor="middle" fill="#111" stroke="#111" stroke-width="0.7">-</text>
<text x="1829.2" y="1259.6" font-size="32" text-anchor="middle" fill="#111" stroke="#111" stroke-width="0.7">-</text>
<text x="1873.7" y="1259.6" font-size="32" text-anchor="middle" fill="#111" stroke="#111" stroke-width="0.7">-</text>
<text x="1921.7" y="1260" font-size="31" text-anchor="middle" fill="#111" stroke="#111" stroke-width="0.7">+</text>
<text x="1956.8" y="1278.8" font-size="22.5" fill="#111">KDa</text>
<rect x="1799.2" y="1278.1" width="153" height="27.2" fill="#E3E3E3"/>
<rect x="1799.2" y="1316.7" width="153.8" height="32.3" fill="#DADADA"/>
<rect x="1800" y="1360.5" width="153.8" height="35.1" fill="#E0E0E0"/>
<rect x="1847.5" y="1278.1" width="48.3" height="27.2" fill="#DCDCDC"/>
<rect x="1899.6" y="1360.5" width="54.1" height="35.1" fill="#E6E6E6"/>
<rect x="1806.8" y="1290.3" width="40.7" height="6.2" rx="3.1" fill="#111" filter="url(#bl)" opacity="1"/>
<rect x="1856.4" y="1290.3" width="36.9" height="6.2" rx="3.1" fill="#151515" filter="url(#bl)" opacity="1"/>
<rect x="1904.7" y="1292.3" width="40.7" height="3.6" rx="1.8" fill="#555" filter="url(#bl)" opacity="0.85"/>
<rect x="1804.3" y="1331" width="36.9" height="6" rx="3" fill="#666" filter="url(#bl2)" opacity="0.95"/>
<rect x="1853.9" y="1331.3" width="35.6" height="5.5" rx="2.8" fill="#888" filter="url(#bl2)" opacity="0.9"/>
<rect x="1903.4" y="1332.5" width="43.2" height="5" rx="2.5" fill="#909090" filter="url(#bl2)" opacity="0.9"/>
<rect x="1801" y="1376" width="41.4" height="7.5" rx="3.8" fill="#050505" filter="url(#bl)" opacity="1"/>
<rect x="1851.8" y="1376" width="39.7" height="7.5" rx="3.8" fill="#080808" filter="url(#bl)" opacity="1"/>
<rect x="1903.4" y="1377.8" width="43.2" height="8" rx="4" fill="#0a0a0a" filter="url(#bl)" opacity="1"/>
<rect x="1925" y="1382.4" width="21.6" height="6" rx="3" fill="#333" filter="url(#bl2)" opacity="0.7"/>
<line x1="1952.5" y1="1293.9" x2="1967.7" y2="1293.9" stroke="#111" stroke-width="1.2"/>
<text x="1970.5" y="1301.5" font-size="22.6" fill="#111">37</text>
<line x1="1952.5" y1="1335.3" x2="1967.7" y2="1335.3" stroke="#111" stroke-width="1.2"/>
<text x="1970.5" y="1342.9" font-size="22.6" fill="#111">37</text>
<line x1="1952.5" y1="1378.5" x2="1967.7" y2="1378.5" stroke="#111" stroke-width="1.2"/>
<text x="1970.5" y="1386.1" font-size="22.6" fill="#111">37</text>
<text x="1788" y="1301.4" font-size="29.6" text-anchor="end" fill="#111">p-IκB</text>
<text x="1786.5" y="1344" font-size="29.6" text-anchor="end" fill="#111">IκB</text>
<text x="1787.5" y="1391.4" font-size="29.6" text-anchor="end" fill="#111">GAPDH</text>
</g>
</svg>
</body></html>
